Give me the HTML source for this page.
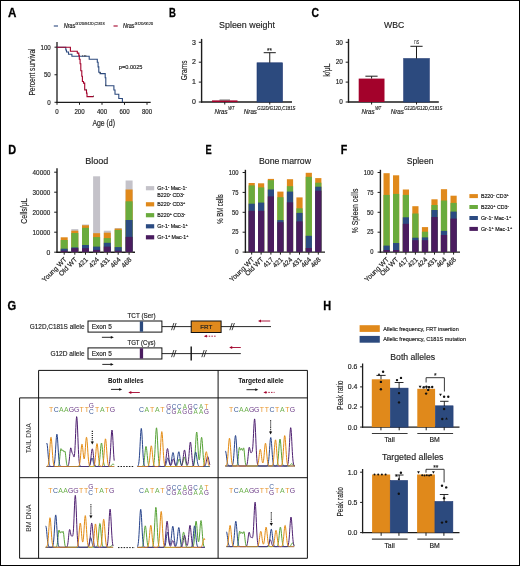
<!DOCTYPE html>
<html><head><meta charset="utf-8"><style>
html,body{margin:0;padding:0;background:#fff;}
body{width:520px;height:566px;overflow:hidden;}
svg{display:block;font-family:"Liberation Sans", sans-serif;will-change:transform;}
</style></head><body>
<svg width="520" height="566" viewBox="0 0 520 566">
<rect x="0" y="0" width="520" height="566" fill="#fff"/>
<text x="7.90" y="17.03" font-size="12.3" text-anchor="start" fill="#000" font-weight="bold" textLength="8.40" lengthAdjust="spacingAndGlyphs" stroke="#000" stroke-width="0.3">A</text>
<text x="169.10" y="17.03" font-size="12.3" text-anchor="start" fill="#000" font-weight="bold" textLength="6.90" lengthAdjust="spacingAndGlyphs" stroke="#000" stroke-width="0.3">B</text>
<text x="311.40" y="16.83" font-size="12.3" text-anchor="start" fill="#000" font-weight="bold" textLength="7.50" lengthAdjust="spacingAndGlyphs" stroke="#000" stroke-width="0.3">C</text>
<text x="8.20" y="153.88" font-size="12.3" text-anchor="start" fill="#000" font-weight="bold" textLength="7.90" lengthAdjust="spacingAndGlyphs" stroke="#000" stroke-width="0.3">D</text>
<text x="205.50" y="154.23" font-size="12.3" text-anchor="start" fill="#000" font-weight="bold" textLength="6.20" lengthAdjust="spacingAndGlyphs" stroke="#000" stroke-width="0.3">E</text>
<text x="340.70" y="154.23" font-size="12.3" text-anchor="start" fill="#000" font-weight="bold" textLength="6.50" lengthAdjust="spacingAndGlyphs" stroke="#000" stroke-width="0.3">F</text>
<text x="7.40" y="310.28" font-size="12.3" text-anchor="start" fill="#000" font-weight="bold" textLength="8.70" lengthAdjust="spacingAndGlyphs" stroke="#000" stroke-width="0.3">G</text>
<text x="323.20" y="309.83" font-size="12.3" text-anchor="start" fill="#000" font-weight="bold" textLength="7.90" lengthAdjust="spacingAndGlyphs" stroke="#000" stroke-width="0.3">H</text>
<line x1="53.80" y1="26.00" x2="58.00" y2="26.00" stroke="#2c4a7e" stroke-width="1.1" />
<text x="63.80" y="28.34" font-size="6.5" text-anchor="start" fill="#111" font-style="italic" textLength="11.60" lengthAdjust="spacingAndGlyphs" stroke="#111" stroke-width="0.16" >Nras</text>
<text x="75.60" y="25.08" font-size="4.4" text-anchor="start" fill="#111" textLength="29.00" lengthAdjust="spacingAndGlyphs" stroke="#111" stroke-width="0.16" >G12D/G12D,C181S</text>
<line x1="113.50" y1="26.00" x2="117.70" y2="26.00" stroke="#a3022b" stroke-width="1.1" />
<text x="123.00" y="28.34" font-size="6.5" text-anchor="start" fill="#111" font-style="italic" textLength="11.60" lengthAdjust="spacingAndGlyphs" stroke="#111" stroke-width="0.16" >Nras</text>
<text x="134.80" y="25.08" font-size="4.4" text-anchor="start" fill="#111" textLength="18.40" lengthAdjust="spacingAndGlyphs" stroke="#111" stroke-width="0.16" >G12D/G12D</text>
<line x1="57.00" y1="42.00" x2="57.00" y2="102.90" stroke="#1c1c1c" stroke-width="1.3" />
<line x1="56.40" y1="102.30" x2="150.70" y2="102.30" stroke="#1c1c1c" stroke-width="1.3" />
<line x1="54.50" y1="47.20" x2="57.00" y2="47.20" stroke="#1c1c1c" stroke-width="1" />
<text x="50.80" y="49.65" font-size="6.8" text-anchor="end" fill="#222" textLength="10.35" lengthAdjust="spacingAndGlyphs" stroke="#222" stroke-width="0.16" >100</text>
<line x1="54.50" y1="74.75" x2="57.00" y2="74.75" stroke="#1c1c1c" stroke-width="1" />
<text x="50.80" y="77.20" font-size="6.8" text-anchor="end" fill="#222" textLength="6.90" lengthAdjust="spacingAndGlyphs" stroke="#222" stroke-width="0.16" >50</text>
<line x1="54.50" y1="102.30" x2="57.00" y2="102.30" stroke="#1c1c1c" stroke-width="1" />
<text x="50.80" y="104.75" font-size="6.8" text-anchor="end" fill="#222" textLength="3.45" lengthAdjust="spacingAndGlyphs" stroke="#222" stroke-width="0.16" >0</text>
<line x1="57.00" y1="102.30" x2="57.00" y2="104.80" stroke="#1c1c1c" stroke-width="1" />
<text x="57.00" y="114.05" font-size="6.8" text-anchor="middle" fill="#222" textLength="3.40" lengthAdjust="spacingAndGlyphs" stroke="#222" stroke-width="0.16" >0</text>
<line x1="79.50" y1="102.30" x2="79.50" y2="104.80" stroke="#1c1c1c" stroke-width="1" />
<text x="79.50" y="114.05" font-size="6.8" text-anchor="middle" fill="#222" textLength="10.20" lengthAdjust="spacingAndGlyphs" stroke="#222" stroke-width="0.16" >200</text>
<line x1="102.00" y1="102.30" x2="102.00" y2="104.80" stroke="#1c1c1c" stroke-width="1" />
<text x="102.00" y="114.05" font-size="6.8" text-anchor="middle" fill="#222" textLength="10.20" lengthAdjust="spacingAndGlyphs" stroke="#222" stroke-width="0.16" >400</text>
<line x1="124.50" y1="102.30" x2="124.50" y2="104.80" stroke="#1c1c1c" stroke-width="1" />
<text x="124.50" y="114.05" font-size="6.8" text-anchor="middle" fill="#222" textLength="10.20" lengthAdjust="spacingAndGlyphs" stroke="#222" stroke-width="0.16" >600</text>
<line x1="147.00" y1="102.30" x2="147.00" y2="104.80" stroke="#1c1c1c" stroke-width="1" />
<text x="147.00" y="114.05" font-size="6.8" text-anchor="middle" fill="#222" textLength="10.20" lengthAdjust="spacingAndGlyphs" stroke="#222" stroke-width="0.16" >800</text>
<text x="103.70" y="125.75" font-size="8.2" text-anchor="middle" fill="#222" textLength="22.60" lengthAdjust="spacingAndGlyphs" stroke="#222" stroke-width="0.16" >Age (d)</text>
<text x="31.90" y="75.17" font-size="8.8" text-anchor="middle" fill="#222" textLength="47.20" lengthAdjust="spacingAndGlyphs" stroke="#222" stroke-width="0.16" transform="rotate(-90 31.90 72.00)" >Percent survival</text>
<text x="118.80" y="69.40" font-size="6.1" text-anchor="start" fill="#222" textLength="23.60" lengthAdjust="spacingAndGlyphs" stroke="#222" stroke-width="0.16" >p=0.0025</text>
<path d="M56.80,47.20 L65.80,47.20 L65.80,50.00 L66.50,50.00 L66.50,52.00 L68.50,52.00 L68.50,54.30 L71.90,54.30 L71.90,56.20 L89.20,56.20 L89.20,59.20 L97.30,59.20 L97.30,62.30 L98.10,62.30 L98.10,66.90 L98.80,66.90 L98.80,72.30 L100.10,72.30 L100.10,73.60 L105.20,73.60 L105.20,77.70 L105.80,77.70 L105.80,85.80 L113.90,85.80 L113.90,90.00 L115.00,90.00 L115.00,94.20 L118.80,94.20 L118.80,98.50 L122.40,98.50 L122.40,102.30" stroke="#2c4a7e" stroke-width="1.1" fill="none" />
<path d="M56.80,47.20 L70.40,47.20 L70.40,51.20 L77.30,51.20 L77.30,53.10 L78.80,53.10 L78.80,55.40 L79.30,55.40 L79.30,59.20 L80.10,59.20 L80.10,63.80 L80.80,63.80 L80.80,70.80 L81.80,70.80 L81.80,76.20 L82.40,76.20 L82.40,81.50 L83.50,81.50 L83.50,83.10 L84.70,83.10 L84.70,90.00 L86.50,90.00 L86.50,93.10 L87.00,93.10 L87.00,96.60 L93.50,96.60" stroke="#a3022b" stroke-width="1.1" fill="none" />
<line x1="82.70" y1="55.10" x2="82.70" y2="56.40" stroke="#222" stroke-width="0.7" />
<line x1="84.60" y1="55.10" x2="84.60" y2="56.40" stroke="#222" stroke-width="0.7" />
<line x1="85.80" y1="55.10" x2="85.80" y2="56.40" stroke="#222" stroke-width="0.7" />
<line x1="93.50" y1="95.50" x2="93.50" y2="96.80" stroke="#222" stroke-width="0.7" />
<line x1="100.20" y1="72.00" x2="100.20" y2="73.30" stroke="#222" stroke-width="0.7" />
<line x1="105.80" y1="84.70" x2="105.80" y2="86.00" stroke="#222" stroke-width="0.7" />
<line x1="86.10" y1="88.90" x2="86.10" y2="90.20" stroke="#222" stroke-width="0.7" />
<text x="247.00" y="27.63" font-size="9.8" text-anchor="middle" fill="#222" textLength="55.80" lengthAdjust="spacingAndGlyphs" stroke="#222" stroke-width="0.16" >Spleen weight</text>
<line x1="201.60" y1="38.90" x2="201.60" y2="102.60" stroke="#1c1c1c" stroke-width="1.4" />
<line x1="201.00" y1="102.00" x2="292.00" y2="102.00" stroke="#1c1c1c" stroke-width="1.4" />
<line x1="198.80" y1="102.00" x2="201.60" y2="102.00" stroke="#1c1c1c" stroke-width="1" />
<text x="196.00" y="104.27" font-size="6.3" text-anchor="end" fill="#222" textLength="3.90" lengthAdjust="spacingAndGlyphs" stroke="#222" stroke-width="0.16" >0</text>
<line x1="198.80" y1="82.10" x2="201.60" y2="82.10" stroke="#1c1c1c" stroke-width="1" />
<text x="196.00" y="84.37" font-size="6.3" text-anchor="end" fill="#222" textLength="3.90" lengthAdjust="spacingAndGlyphs" stroke="#222" stroke-width="0.16" >1</text>
<line x1="198.80" y1="62.20" x2="201.60" y2="62.20" stroke="#1c1c1c" stroke-width="1" />
<text x="196.00" y="64.47" font-size="6.3" text-anchor="end" fill="#222" textLength="3.90" lengthAdjust="spacingAndGlyphs" stroke="#222" stroke-width="0.16" >2</text>
<line x1="198.80" y1="42.30" x2="201.60" y2="42.30" stroke="#1c1c1c" stroke-width="1" />
<text x="196.00" y="44.57" font-size="6.3" text-anchor="end" fill="#222" textLength="3.90" lengthAdjust="spacingAndGlyphs" stroke="#222" stroke-width="0.16" >3</text>
<text x="183.80" y="73.47" font-size="8.8" text-anchor="middle" fill="#222" textLength="19.80" lengthAdjust="spacingAndGlyphs" stroke="#222" stroke-width="0.16" transform="rotate(-90 183.80 70.30)" >Grams</text>
<rect x="212.00" y="100.40" width="25.50" height="1.60" fill="#a3022b"/>
<line x1="219.50" y1="100.00" x2="230.00" y2="100.00" stroke="#333" stroke-width="0.7" />
<rect x="257.00" y="62.80" width="25.50" height="39.20" fill="#2c4a7e" stroke="#1d3570" stroke-width="0.6"/>
<line x1="269.75" y1="62.80" x2="269.75" y2="52.70" stroke="#1c1c1c" stroke-width="1" />
<line x1="263.70" y1="52.70" x2="275.80" y2="52.70" stroke="#1c1c1c" stroke-width="1" />
<text x="269.50" y="52.98" font-size="6.6" text-anchor="middle" fill="#222" textLength="4.80" lengthAdjust="spacingAndGlyphs" stroke="#222" stroke-width="0.16" >**</text>
<line x1="224.75" y1="102.00" x2="224.75" y2="104.50" stroke="#1c1c1c" stroke-width="1" />
<line x1="269.75" y1="102.00" x2="269.75" y2="104.50" stroke="#1c1c1c" stroke-width="1" />
<text x="214.50" y="114.02" font-size="7.0" text-anchor="start" fill="#222" font-style="italic" textLength="13.20" lengthAdjust="spacingAndGlyphs" stroke="#222" stroke-width="0.16" >Nras</text>
<text x="228.30" y="110.33" font-size="4.8" text-anchor="start" fill="#222" font-style="italic" textLength="6.00" lengthAdjust="spacingAndGlyphs" stroke="#222" stroke-width="0.16" >WT</text>
<text x="243.80" y="114.02" font-size="7.0" text-anchor="start" fill="#222" font-style="italic" textLength="13.20" lengthAdjust="spacingAndGlyphs" stroke="#222" stroke-width="0.16" >Nras</text>
<text x="257.30" y="110.33" font-size="4.8" text-anchor="start" fill="#222" font-style="italic" textLength="38.20" lengthAdjust="spacingAndGlyphs" stroke="#222" stroke-width="0.16" >G12D/G12D,C181S</text>
<text x="394.20" y="27.53" font-size="9.8" text-anchor="middle" fill="#222" textLength="20.20" lengthAdjust="spacingAndGlyphs" stroke="#222" stroke-width="0.16" >WBC</text>
<line x1="348.50" y1="38.90" x2="348.50" y2="102.60" stroke="#1c1c1c" stroke-width="1.4" />
<line x1="347.90" y1="102.00" x2="438.80" y2="102.00" stroke="#1c1c1c" stroke-width="1.4" />
<line x1="345.70" y1="102.00" x2="348.50" y2="102.00" stroke="#1c1c1c" stroke-width="1" />
<text x="342.90" y="104.27" font-size="6.3" text-anchor="end" fill="#222" textLength="3.60" lengthAdjust="spacingAndGlyphs" stroke="#222" stroke-width="0.16" >0</text>
<line x1="345.70" y1="82.10" x2="348.50" y2="82.10" stroke="#1c1c1c" stroke-width="1" />
<text x="342.90" y="84.37" font-size="6.3" text-anchor="end" fill="#222" textLength="7.20" lengthAdjust="spacingAndGlyphs" stroke="#222" stroke-width="0.16" >10</text>
<line x1="345.70" y1="62.20" x2="348.50" y2="62.20" stroke="#1c1c1c" stroke-width="1" />
<text x="342.90" y="64.47" font-size="6.3" text-anchor="end" fill="#222" textLength="7.20" lengthAdjust="spacingAndGlyphs" stroke="#222" stroke-width="0.16" >20</text>
<line x1="345.70" y1="42.30" x2="348.50" y2="42.30" stroke="#1c1c1c" stroke-width="1" />
<text x="342.90" y="44.57" font-size="6.3" text-anchor="end" fill="#222" textLength="7.20" lengthAdjust="spacingAndGlyphs" stroke="#222" stroke-width="0.16" >30</text>
<text x="327.10" y="73.27" font-size="8.8" text-anchor="middle" fill="#222" textLength="13.20" lengthAdjust="spacingAndGlyphs" stroke="#222" stroke-width="0.16" transform="rotate(-90 327.10 70.10)" >k/μL</text>
<rect x="358.70" y="78.60" width="25.80" height="23.40" fill="#a3022b"/>
<line x1="371.60" y1="78.60" x2="371.60" y2="76.20" stroke="#1c1c1c" stroke-width="1" />
<line x1="365.40" y1="76.20" x2="377.60" y2="76.20" stroke="#1c1c1c" stroke-width="1" />
<rect x="403.70" y="58.60" width="25.60" height="43.40" fill="#2c4a7e" stroke="#1d3570" stroke-width="0.6"/>
<line x1="416.50" y1="58.60" x2="416.50" y2="46.30" stroke="#1c1c1c" stroke-width="1" />
<line x1="410.40" y1="46.30" x2="422.60" y2="46.30" stroke="#1c1c1c" stroke-width="1" />
<text x="416.55" y="43.71" font-size="6.7" text-anchor="middle" fill="#333" textLength="5.30" lengthAdjust="spacingAndGlyphs" stroke="none">ns</text>
<line x1="371.60" y1="102.00" x2="371.60" y2="104.50" stroke="#1c1c1c" stroke-width="1" />
<line x1="416.50" y1="102.00" x2="416.50" y2="104.50" stroke="#1c1c1c" stroke-width="1" />
<text x="361.40" y="114.02" font-size="7.0" text-anchor="start" fill="#222" font-style="italic" textLength="13.20" lengthAdjust="spacingAndGlyphs" stroke="#222" stroke-width="0.16" >Nras</text>
<text x="375.20" y="110.33" font-size="4.8" text-anchor="start" fill="#222" font-style="italic" textLength="6.00" lengthAdjust="spacingAndGlyphs" stroke="#222" stroke-width="0.16" >WT</text>
<text x="390.70" y="114.02" font-size="7.0" text-anchor="start" fill="#222" font-style="italic" textLength="13.20" lengthAdjust="spacingAndGlyphs" stroke="#222" stroke-width="0.16" >Nras</text>
<text x="404.20" y="110.33" font-size="4.8" text-anchor="start" fill="#222" font-style="italic" textLength="38.20" lengthAdjust="spacingAndGlyphs" stroke="#222" stroke-width="0.16" >G12D/G12D,C181S</text>
<text x="96.70" y="164.13" font-size="9.8" text-anchor="middle" fill="#222" textLength="23.10" lengthAdjust="spacingAndGlyphs" stroke="#222" stroke-width="0.16" >Blood</text>
<line x1="57.00" y1="168.30" x2="57.00" y2="252.80" stroke="#1c1c1c" stroke-width="1.4" />
<line x1="56.40" y1="252.20" x2="135.00" y2="252.20" stroke="#1c1c1c" stroke-width="1.4" />
<line x1="54.20" y1="252.20" x2="57.00" y2="252.20" stroke="#1c1c1c" stroke-width="1" />
<text x="50.20" y="254.79" font-size="7.2" text-anchor="end" fill="#222" textLength="3.80" lengthAdjust="spacingAndGlyphs" stroke="#222" stroke-width="0.16" >0</text>
<line x1="54.20" y1="232.20" x2="57.00" y2="232.20" stroke="#1c1c1c" stroke-width="1" />
<text x="50.20" y="234.79" font-size="7.2" text-anchor="end" fill="#222" textLength="17.60" lengthAdjust="spacingAndGlyphs" stroke="#222" stroke-width="0.16" >10000</text>
<line x1="54.20" y1="212.20" x2="57.00" y2="212.20" stroke="#1c1c1c" stroke-width="1" />
<text x="50.20" y="214.79" font-size="7.2" text-anchor="end" fill="#222" textLength="17.60" lengthAdjust="spacingAndGlyphs" stroke="#222" stroke-width="0.16" >20000</text>
<line x1="54.20" y1="192.20" x2="57.00" y2="192.20" stroke="#1c1c1c" stroke-width="1" />
<text x="50.20" y="194.79" font-size="7.2" text-anchor="end" fill="#222" textLength="17.60" lengthAdjust="spacingAndGlyphs" stroke="#222" stroke-width="0.16" >30000</text>
<line x1="54.20" y1="172.20" x2="57.00" y2="172.20" stroke="#1c1c1c" stroke-width="1" />
<text x="50.20" y="174.79" font-size="7.2" text-anchor="end" fill="#222" textLength="17.60" lengthAdjust="spacingAndGlyphs" stroke="#222" stroke-width="0.16" >40000</text>
<text x="23.80" y="214.13" font-size="8.7" text-anchor="middle" fill="#222" textLength="25.40" lengthAdjust="spacingAndGlyphs" stroke="#222" stroke-width="0.16" transform="rotate(-90 23.80 211.00)" >Cells/μL</text>
<rect x="60.70" y="237.30" width="7.00" height="14.90" fill="#e0891b"/>
<rect x="60.70" y="240.00" width="7.00" height="12.20" fill="#6aab3d"/>
<rect x="60.70" y="248.70" width="7.00" height="3.50" fill="#2b4b82"/>
<rect x="60.70" y="250.70" width="7.00" height="1.50" fill="#4a1c5f"/>
<line x1="64.20" y1="252.20" x2="64.20" y2="254.70" stroke="#1c1c1c" stroke-width="1" />
<rect x="71.30" y="229.10" width="7.00" height="23.10" fill="#c4c2c9"/>
<rect x="71.30" y="230.70" width="7.00" height="21.50" fill="#e0891b"/>
<rect x="71.30" y="233.00" width="7.00" height="19.20" fill="#6aab3d"/>
<rect x="71.30" y="247.40" width="7.00" height="4.80" fill="#2b4b82"/>
<rect x="71.30" y="248.20" width="7.00" height="4.00" fill="#4a1c5f"/>
<line x1="74.80" y1="252.20" x2="74.80" y2="254.70" stroke="#1c1c1c" stroke-width="1" />
<rect x="82.00" y="224.50" width="7.00" height="27.70" fill="#c4c2c9"/>
<rect x="82.00" y="225.30" width="7.00" height="26.90" fill="#e0891b"/>
<rect x="82.00" y="227.80" width="7.00" height="24.40" fill="#6aab3d"/>
<rect x="82.00" y="245.00" width="7.00" height="7.20" fill="#2b4b82"/>
<rect x="82.00" y="248.20" width="7.00" height="4.00" fill="#4a1c5f"/>
<line x1="85.50" y1="252.20" x2="85.50" y2="254.70" stroke="#1c1c1c" stroke-width="1" />
<rect x="93.10" y="176.30" width="7.00" height="75.90" fill="#c4c2c9"/>
<rect x="93.10" y="233.20" width="7.00" height="19.00" fill="#e0891b"/>
<rect x="93.10" y="237.10" width="7.00" height="15.10" fill="#6aab3d"/>
<rect x="93.10" y="246.60" width="7.00" height="5.60" fill="#2b4b82"/>
<rect x="93.10" y="249.90" width="7.00" height="2.30" fill="#4a1c5f"/>
<line x1="96.60" y1="252.20" x2="96.60" y2="254.70" stroke="#1c1c1c" stroke-width="1" />
<rect x="103.80" y="230.70" width="7.00" height="21.50" fill="#c4c2c9"/>
<rect x="103.80" y="232.70" width="7.00" height="19.50" fill="#e0891b"/>
<rect x="103.80" y="238.10" width="7.00" height="14.10" fill="#6aab3d"/>
<rect x="103.80" y="242.80" width="7.00" height="9.40" fill="#2b4b82"/>
<rect x="103.80" y="246.60" width="7.00" height="5.60" fill="#4a1c5f"/>
<line x1="107.30" y1="252.20" x2="107.30" y2="254.70" stroke="#1c1c1c" stroke-width="1" />
<rect x="114.70" y="228.10" width="7.00" height="24.10" fill="#c4c2c9"/>
<rect x="114.70" y="228.60" width="7.00" height="23.60" fill="#e0891b"/>
<rect x="114.70" y="229.90" width="7.00" height="22.30" fill="#6aab3d"/>
<rect x="114.70" y="247.10" width="7.00" height="5.10" fill="#2b4b82"/>
<rect x="114.70" y="250.70" width="7.00" height="1.50" fill="#4a1c5f"/>
<line x1="118.20" y1="252.20" x2="118.20" y2="254.70" stroke="#1c1c1c" stroke-width="1" />
<rect x="125.60" y="180.50" width="7.00" height="71.70" fill="#c4c2c9"/>
<rect x="125.60" y="189.50" width="7.00" height="62.70" fill="#e0891b"/>
<rect x="125.60" y="201.30" width="7.00" height="50.90" fill="#6aab3d"/>
<rect x="125.60" y="220.00" width="7.00" height="32.20" fill="#2b4b82"/>
<rect x="125.60" y="236.90" width="7.00" height="15.30" fill="#4a1c5f"/>
<line x1="129.10" y1="252.20" x2="129.10" y2="254.70" stroke="#1c1c1c" stroke-width="1" />
<text x="65.40" y="260.85" font-size="6.8" text-anchor="end" fill="#1a1a1a" stroke="#1a1a1a" stroke-width="0.16" transform="rotate(-45 65.40 258.40)" >Young WT</text>
<text x="76.00" y="260.85" font-size="6.8" text-anchor="end" fill="#1a1a1a" stroke="#1a1a1a" stroke-width="0.16" transform="rotate(-45 76.00 258.40)" >Old WT</text>
<text x="86.70" y="260.85" font-size="6.8" text-anchor="end" fill="#1a1a1a" stroke="#1a1a1a" stroke-width="0.16" transform="rotate(-45 86.70 258.40)" >421</text>
<text x="97.80" y="260.85" font-size="6.8" text-anchor="end" fill="#1a1a1a" stroke="#1a1a1a" stroke-width="0.16" transform="rotate(-45 97.80 258.40)" >424</text>
<text x="108.50" y="260.85" font-size="6.8" text-anchor="end" fill="#1a1a1a" stroke="#1a1a1a" stroke-width="0.16" transform="rotate(-45 108.50 258.40)" >431</text>
<text x="119.40" y="260.85" font-size="6.8" text-anchor="end" fill="#1a1a1a" stroke="#1a1a1a" stroke-width="0.16" transform="rotate(-45 119.40 258.40)" >464</text>
<text x="130.30" y="260.85" font-size="6.8" text-anchor="end" fill="#1a1a1a" stroke="#1a1a1a" stroke-width="0.16" transform="rotate(-45 130.30 258.40)" >468</text>
<rect x="145.90" y="186.10" width="8.30" height="4.20" fill="#c4c2c9"/>
<text x="157.30" y="190.11" font-size="5.3" text-anchor="start" fill="#111" stroke="#111" stroke-width="0.16" >Gr-1<tspan dy="-2.0" font-size="3.8">-</tspan><tspan dy="2.0"> Mac-1</tspan><tspan dy="-2.0" font-size="3.8">-</tspan></text>
<text x="157.30" y="196.61" font-size="5.3" text-anchor="start" fill="#111" stroke="#111" stroke-width="0.16" >B220<tspan dy="-2.0" font-size="3.8">-</tspan><tspan dy="2.0"> CD3</tspan><tspan dy="-2.0" font-size="3.8">-</tspan></text>
<rect x="145.90" y="202.20" width="8.30" height="4.20" fill="#e0891b"/>
<text x="157.30" y="206.21" font-size="5.3" text-anchor="start" fill="#111" stroke="#111" stroke-width="0.16" >B220<tspan dy="-2.0" font-size="3.8">-</tspan><tspan dy="2.0"> CD3</tspan><tspan dy="-2.0" font-size="3.8">+</tspan></text>
<rect x="145.90" y="213.10" width="8.30" height="4.20" fill="#6aab3d"/>
<text x="157.30" y="217.11" font-size="5.3" text-anchor="start" fill="#111" stroke="#111" stroke-width="0.16" >B220<tspan dy="-2.0" font-size="3.8">+</tspan><tspan dy="2.0"> CD3</tspan><tspan dy="-2.0" font-size="3.8">-</tspan></text>
<rect x="145.90" y="224.20" width="8.30" height="4.20" fill="#2b4b82"/>
<text x="157.30" y="228.21" font-size="5.3" text-anchor="start" fill="#111" stroke="#111" stroke-width="0.16" >Gr-1<tspan dy="-2.0" font-size="3.8">-</tspan><tspan dy="2.0"> Mac-1</tspan><tspan dy="-2.0" font-size="3.8">+</tspan></text>
<rect x="145.90" y="235.20" width="8.30" height="4.20" fill="#4a1c5f"/>
<text x="157.30" y="239.21" font-size="5.3" text-anchor="start" fill="#111" stroke="#111" stroke-width="0.16" >Gr-1<tspan dy="-2.0" font-size="3.8">+</tspan><tspan dy="2.0"> Mac-1</tspan><tspan dy="-2.0" font-size="3.8">+</tspan></text>
<text x="285.00" y="164.33" font-size="9.8" text-anchor="middle" fill="#222" textLength="52.10" lengthAdjust="spacingAndGlyphs" stroke="#222" stroke-width="0.16" >Bone marrow</text>
<line x1="245.40" y1="169.80" x2="245.40" y2="252.70" stroke="#1c1c1c" stroke-width="1.4" />
<line x1="244.80" y1="252.10" x2="325.00" y2="252.10" stroke="#1c1c1c" stroke-width="1.4" />
<line x1="242.60" y1="252.10" x2="245.40" y2="252.10" stroke="#1c1c1c" stroke-width="1" />
<text x="238.60" y="254.37" font-size="6.3" text-anchor="end" fill="#222" textLength="3.25" lengthAdjust="spacingAndGlyphs" stroke="#222" stroke-width="0.16" >0</text>
<line x1="242.60" y1="232.20" x2="245.40" y2="232.20" stroke="#1c1c1c" stroke-width="1" />
<text x="238.60" y="234.47" font-size="6.3" text-anchor="end" fill="#222" textLength="6.50" lengthAdjust="spacingAndGlyphs" stroke="#222" stroke-width="0.16" >25</text>
<line x1="242.60" y1="212.30" x2="245.40" y2="212.30" stroke="#1c1c1c" stroke-width="1" />
<text x="238.60" y="214.57" font-size="6.3" text-anchor="end" fill="#222" textLength="6.50" lengthAdjust="spacingAndGlyphs" stroke="#222" stroke-width="0.16" >50</text>
<line x1="242.60" y1="192.40" x2="245.40" y2="192.40" stroke="#1c1c1c" stroke-width="1" />
<text x="238.60" y="194.67" font-size="6.3" text-anchor="end" fill="#222" textLength="6.50" lengthAdjust="spacingAndGlyphs" stroke="#222" stroke-width="0.16" >75</text>
<line x1="242.60" y1="172.50" x2="245.40" y2="172.50" stroke="#1c1c1c" stroke-width="1" />
<text x="238.60" y="174.77" font-size="6.3" text-anchor="end" fill="#222" textLength="9.75" lengthAdjust="spacingAndGlyphs" stroke="#222" stroke-width="0.16" >100</text>
<text x="219.40" y="212.24" font-size="9.0" text-anchor="middle" fill="#222" textLength="29.40" lengthAdjust="spacingAndGlyphs" stroke="#222" stroke-width="0.16" transform="rotate(-90 219.40 209.00)" >% BM cells</text>
<rect x="248.60" y="183.00" width="6.20" height="69.10" fill="#e0891b"/>
<rect x="248.60" y="185.40" width="6.20" height="66.70" fill="#6aab3d"/>
<rect x="248.60" y="203.70" width="6.20" height="48.40" fill="#2b4b82"/>
<rect x="248.60" y="210.80" width="6.20" height="41.30" fill="#4a1c5f"/>
<line x1="251.70" y1="252.10" x2="251.70" y2="254.60" stroke="#1c1c1c" stroke-width="1" />
<rect x="258.00" y="183.30" width="6.20" height="68.80" fill="#e0891b"/>
<rect x="258.00" y="187.40" width="6.20" height="64.70" fill="#6aab3d"/>
<rect x="258.00" y="202.60" width="6.20" height="49.50" fill="#2b4b82"/>
<rect x="258.00" y="210.80" width="6.20" height="41.30" fill="#4a1c5f"/>
<line x1="261.10" y1="252.10" x2="261.10" y2="254.60" stroke="#1c1c1c" stroke-width="1" />
<rect x="267.80" y="178.90" width="6.20" height="73.20" fill="#e0891b"/>
<rect x="267.80" y="180.20" width="6.20" height="71.90" fill="#6aab3d"/>
<rect x="267.80" y="189.50" width="6.20" height="62.60" fill="#2b4b82"/>
<rect x="267.80" y="196.40" width="6.20" height="55.70" fill="#4a1c5f"/>
<line x1="270.90" y1="252.10" x2="270.90" y2="254.60" stroke="#1c1c1c" stroke-width="1" />
<rect x="277.30" y="191.60" width="6.20" height="60.50" fill="#e0891b"/>
<rect x="277.30" y="197.20" width="6.20" height="54.90" fill="#6aab3d"/>
<rect x="277.30" y="220.10" width="6.20" height="32.00" fill="#2b4b82"/>
<rect x="277.30" y="222.20" width="6.20" height="29.90" fill="#4a1c5f"/>
<line x1="280.40" y1="252.10" x2="280.40" y2="254.60" stroke="#1c1c1c" stroke-width="1" />
<rect x="286.90" y="179.20" width="6.20" height="72.90" fill="#e0891b"/>
<rect x="286.90" y="186.20" width="6.20" height="65.90" fill="#6aab3d"/>
<rect x="286.90" y="191.60" width="6.20" height="60.50" fill="#2b4b82"/>
<rect x="286.90" y="202.30" width="6.20" height="49.80" fill="#4a1c5f"/>
<line x1="290.00" y1="252.10" x2="290.00" y2="254.60" stroke="#1c1c1c" stroke-width="1" />
<rect x="296.40" y="197.40" width="6.20" height="54.70" fill="#e0891b"/>
<rect x="296.40" y="208.30" width="6.20" height="43.80" fill="#6aab3d"/>
<rect x="296.40" y="212.90" width="6.20" height="39.20" fill="#2b4b82"/>
<rect x="296.40" y="221.40" width="6.20" height="30.70" fill="#4a1c5f"/>
<line x1="299.50" y1="252.10" x2="299.50" y2="254.60" stroke="#1c1c1c" stroke-width="1" />
<rect x="305.70" y="172.80" width="6.20" height="79.30" fill="#e0891b"/>
<rect x="305.70" y="176.80" width="6.20" height="75.30" fill="#6aab3d"/>
<rect x="305.70" y="235.80" width="6.20" height="16.30" fill="#2b4b82"/>
<rect x="305.70" y="248.00" width="6.20" height="4.10" fill="#4a1c5f"/>
<line x1="308.80" y1="252.10" x2="308.80" y2="254.60" stroke="#1c1c1c" stroke-width="1" />
<rect x="315.20" y="178.10" width="6.20" height="74.00" fill="#e0891b"/>
<rect x="315.20" y="182.70" width="6.20" height="69.40" fill="#6aab3d"/>
<rect x="315.20" y="186.70" width="6.20" height="65.40" fill="#2b4b82"/>
<rect x="315.20" y="190.70" width="6.20" height="61.40" fill="#4a1c5f"/>
<line x1="318.30" y1="252.10" x2="318.30" y2="254.60" stroke="#1c1c1c" stroke-width="1" />
<text x="252.90" y="260.75" font-size="6.8" text-anchor="end" fill="#1a1a1a" stroke="#1a1a1a" stroke-width="0.16" transform="rotate(-45 252.90 258.30)" >Young WT</text>
<text x="262.30" y="260.75" font-size="6.8" text-anchor="end" fill="#1a1a1a" stroke="#1a1a1a" stroke-width="0.16" transform="rotate(-45 262.30 258.30)" >Old WT</text>
<text x="272.10" y="260.75" font-size="6.8" text-anchor="end" fill="#1a1a1a" stroke="#1a1a1a" stroke-width="0.16" transform="rotate(-45 272.10 258.30)" >417</text>
<text x="281.60" y="260.75" font-size="6.8" text-anchor="end" fill="#1a1a1a" stroke="#1a1a1a" stroke-width="0.16" transform="rotate(-45 281.60 258.30)" >421</text>
<text x="291.20" y="260.75" font-size="6.8" text-anchor="end" fill="#1a1a1a" stroke="#1a1a1a" stroke-width="0.16" transform="rotate(-45 291.20 258.30)" >424</text>
<text x="300.70" y="260.75" font-size="6.8" text-anchor="end" fill="#1a1a1a" stroke="#1a1a1a" stroke-width="0.16" transform="rotate(-45 300.70 258.30)" >431</text>
<text x="310.00" y="260.75" font-size="6.8" text-anchor="end" fill="#1a1a1a" stroke="#1a1a1a" stroke-width="0.16" transform="rotate(-45 310.00 258.30)" >464</text>
<text x="319.50" y="260.75" font-size="6.8" text-anchor="end" fill="#1a1a1a" stroke="#1a1a1a" stroke-width="0.16" transform="rotate(-45 319.50 258.30)" >468</text>
<text x="420.10" y="164.33" font-size="9.8" text-anchor="middle" fill="#222" textLength="26.80" lengthAdjust="spacingAndGlyphs" stroke="#222" stroke-width="0.16" >Spleen</text>
<line x1="380.40" y1="169.80" x2="380.40" y2="252.70" stroke="#1c1c1c" stroke-width="1.4" />
<line x1="379.80" y1="252.10" x2="460.00" y2="252.10" stroke="#1c1c1c" stroke-width="1.4" />
<line x1="377.60" y1="252.10" x2="380.40" y2="252.10" stroke="#1c1c1c" stroke-width="1" />
<text x="373.60" y="254.37" font-size="6.3" text-anchor="end" fill="#222" textLength="3.25" lengthAdjust="spacingAndGlyphs" stroke="#222" stroke-width="0.16" >0</text>
<line x1="377.60" y1="232.20" x2="380.40" y2="232.20" stroke="#1c1c1c" stroke-width="1" />
<text x="373.60" y="234.47" font-size="6.3" text-anchor="end" fill="#222" textLength="6.50" lengthAdjust="spacingAndGlyphs" stroke="#222" stroke-width="0.16" >25</text>
<line x1="377.60" y1="212.30" x2="380.40" y2="212.30" stroke="#1c1c1c" stroke-width="1" />
<text x="373.60" y="214.57" font-size="6.3" text-anchor="end" fill="#222" textLength="6.50" lengthAdjust="spacingAndGlyphs" stroke="#222" stroke-width="0.16" >50</text>
<line x1="377.60" y1="192.40" x2="380.40" y2="192.40" stroke="#1c1c1c" stroke-width="1" />
<text x="373.60" y="194.67" font-size="6.3" text-anchor="end" fill="#222" textLength="6.50" lengthAdjust="spacingAndGlyphs" stroke="#222" stroke-width="0.16" >75</text>
<line x1="377.60" y1="172.50" x2="380.40" y2="172.50" stroke="#1c1c1c" stroke-width="1" />
<text x="373.60" y="174.77" font-size="6.3" text-anchor="end" fill="#222" textLength="9.75" lengthAdjust="spacingAndGlyphs" stroke="#222" stroke-width="0.16" >100</text>
<text x="354.90" y="214.14" font-size="9.0" text-anchor="middle" fill="#222" textLength="44.60" lengthAdjust="spacingAndGlyphs" stroke="#222" stroke-width="0.16" transform="rotate(-90 354.90 210.90)" >% Spleen cells</text>
<rect x="383.50" y="173.20" width="6.20" height="78.90" fill="#e0891b"/>
<rect x="383.50" y="194.90" width="6.20" height="57.20" fill="#6aab3d"/>
<rect x="383.50" y="245.60" width="6.20" height="6.50" fill="#2b4b82"/>
<rect x="383.50" y="250.00" width="6.20" height="2.10" fill="#4a1c5f"/>
<line x1="386.60" y1="252.10" x2="386.60" y2="254.60" stroke="#1c1c1c" stroke-width="1" />
<rect x="393.00" y="175.30" width="6.20" height="76.80" fill="#e0891b"/>
<rect x="393.00" y="193.90" width="6.20" height="58.20" fill="#6aab3d"/>
<rect x="393.00" y="243.00" width="6.20" height="9.10" fill="#2b4b82"/>
<rect x="393.00" y="250.00" width="6.20" height="2.10" fill="#4a1c5f"/>
<line x1="396.10" y1="252.10" x2="396.10" y2="254.60" stroke="#1c1c1c" stroke-width="1" />
<rect x="402.80" y="189.50" width="6.20" height="62.60" fill="#e0891b"/>
<rect x="402.80" y="194.90" width="6.20" height="57.20" fill="#6aab3d"/>
<rect x="402.80" y="217.30" width="6.20" height="34.80" fill="#2b4b82"/>
<rect x="402.80" y="223.80" width="6.20" height="28.30" fill="#4a1c5f"/>
<line x1="405.90" y1="252.10" x2="405.90" y2="254.60" stroke="#1c1c1c" stroke-width="1" />
<rect x="412.30" y="206.20" width="6.20" height="45.90" fill="#e0891b"/>
<rect x="412.30" y="213.50" width="6.20" height="38.60" fill="#6aab3d"/>
<rect x="412.30" y="237.70" width="6.20" height="14.40" fill="#2b4b82"/>
<rect x="412.30" y="240.20" width="6.20" height="11.90" fill="#4a1c5f"/>
<line x1="415.40" y1="252.10" x2="415.40" y2="254.60" stroke="#1c1c1c" stroke-width="1" />
<rect x="421.90" y="227.10" width="6.20" height="25.00" fill="#e0891b"/>
<rect x="421.90" y="231.70" width="6.20" height="20.40" fill="#6aab3d"/>
<rect x="421.90" y="237.40" width="6.20" height="14.70" fill="#2b4b82"/>
<rect x="421.90" y="240.20" width="6.20" height="11.90" fill="#4a1c5f"/>
<line x1="425.00" y1="252.10" x2="425.00" y2="254.60" stroke="#1c1c1c" stroke-width="1" />
<rect x="431.40" y="199.30" width="6.20" height="52.80" fill="#e0891b"/>
<rect x="431.40" y="205.00" width="6.20" height="47.10" fill="#6aab3d"/>
<rect x="431.40" y="210.00" width="6.20" height="42.10" fill="#2b4b82"/>
<rect x="431.40" y="217.00" width="6.20" height="35.10" fill="#4a1c5f"/>
<line x1="434.50" y1="252.10" x2="434.50" y2="254.60" stroke="#1c1c1c" stroke-width="1" />
<rect x="440.90" y="189.20" width="6.20" height="62.90" fill="#e0891b"/>
<rect x="440.90" y="200.50" width="6.20" height="51.60" fill="#6aab3d"/>
<rect x="440.90" y="230.90" width="6.20" height="21.20" fill="#2b4b82"/>
<rect x="440.90" y="235.00" width="6.20" height="17.10" fill="#4a1c5f"/>
<line x1="444.00" y1="252.10" x2="444.00" y2="254.60" stroke="#1c1c1c" stroke-width="1" />
<rect x="450.50" y="195.70" width="6.20" height="56.40" fill="#e0891b"/>
<rect x="450.50" y="202.90" width="6.20" height="49.20" fill="#6aab3d"/>
<rect x="450.50" y="211.60" width="6.20" height="40.50" fill="#2b4b82"/>
<rect x="450.50" y="218.60" width="6.20" height="33.50" fill="#4a1c5f"/>
<line x1="453.60" y1="252.10" x2="453.60" y2="254.60" stroke="#1c1c1c" stroke-width="1" />
<text x="387.80" y="260.75" font-size="6.8" text-anchor="end" fill="#1a1a1a" stroke="#1a1a1a" stroke-width="0.16" transform="rotate(-45 387.80 258.30)" >Young WT</text>
<text x="397.30" y="260.75" font-size="6.8" text-anchor="end" fill="#1a1a1a" stroke="#1a1a1a" stroke-width="0.16" transform="rotate(-45 397.30 258.30)" >Old WT</text>
<text x="407.10" y="260.75" font-size="6.8" text-anchor="end" fill="#1a1a1a" stroke="#1a1a1a" stroke-width="0.16" transform="rotate(-45 407.10 258.30)" >417</text>
<text x="416.60" y="260.75" font-size="6.8" text-anchor="end" fill="#1a1a1a" stroke="#1a1a1a" stroke-width="0.16" transform="rotate(-45 416.60 258.30)" >421</text>
<text x="426.20" y="260.75" font-size="6.8" text-anchor="end" fill="#1a1a1a" stroke="#1a1a1a" stroke-width="0.16" transform="rotate(-45 426.20 258.30)" >424</text>
<text x="435.70" y="260.75" font-size="6.8" text-anchor="end" fill="#1a1a1a" stroke="#1a1a1a" stroke-width="0.16" transform="rotate(-45 435.70 258.30)" >431</text>
<text x="445.20" y="260.75" font-size="6.8" text-anchor="end" fill="#1a1a1a" stroke="#1a1a1a" stroke-width="0.16" transform="rotate(-45 445.20 258.30)" >464</text>
<text x="454.80" y="260.75" font-size="6.8" text-anchor="end" fill="#1a1a1a" stroke="#1a1a1a" stroke-width="0.16" transform="rotate(-45 454.80 258.30)" >468</text>
<rect x="350.90" y="192.50" width="6.60" height="3.50" fill="#b8b8b8"/>
<rect x="469.40" y="194.10" width="8.50" height="4.00" fill="#e0891b"/>
<text x="480.90" y="198.01" font-size="5.3" text-anchor="start" fill="#111" stroke="#111" stroke-width="0.16" >B220<tspan dy="-2.0" font-size="3.8">-</tspan><tspan dy="2.0"> CD3</tspan><tspan dy="-2.0" font-size="3.8">+</tspan></text>
<rect x="469.40" y="205.00" width="8.50" height="4.00" fill="#6aab3d"/>
<text x="480.90" y="208.91" font-size="5.3" text-anchor="start" fill="#111" stroke="#111" stroke-width="0.16" >B220<tspan dy="-2.0" font-size="3.8">+</tspan><tspan dy="2.0"> CD3</tspan><tspan dy="-2.0" font-size="3.8">-</tspan></text>
<rect x="469.40" y="216.00" width="8.50" height="4.00" fill="#2b4b82"/>
<text x="480.90" y="219.91" font-size="5.3" text-anchor="start" fill="#111" stroke="#111" stroke-width="0.16" >Gr-1<tspan dy="-2.0" font-size="3.8">-</tspan><tspan dy="2.0"> Mac-1</tspan><tspan dy="-2.0" font-size="3.8">+</tspan></text>
<rect x="469.40" y="226.90" width="8.50" height="4.00" fill="#4a1c5f"/>
<text x="480.90" y="230.81" font-size="5.3" text-anchor="start" fill="#111" stroke="#111" stroke-width="0.16" >Gr-1<tspan dy="-2.0" font-size="3.8">+</tspan><tspan dy="2.0"> Mac-1</tspan><tspan dy="-2.0" font-size="3.8">+</tspan></text>
<text x="84.60" y="328.86" font-size="7.4" text-anchor="end" fill="#222" textLength="54.80" lengthAdjust="spacingAndGlyphs" stroke="#222" stroke-width="0.16" >G12D,C181S allele</text>
<text x="84.60" y="355.76" font-size="7.4" text-anchor="end" fill="#222" textLength="34.20" lengthAdjust="spacingAndGlyphs" stroke="#222" stroke-width="0.16" >G12D allele</text>
<rect x="88.00" y="321.00" width="73.90" height="11.10" fill="#fff" stroke="#111" stroke-width="1.0"/>
<rect x="139.80" y="321.40" width="3.30" height="10.30" fill="#2c4a7e"/>
<text x="91.70" y="329.07" font-size="7.0" text-anchor="start" fill="#222" textLength="20.20" lengthAdjust="spacingAndGlyphs" stroke="#222" stroke-width="0.16" >Exon 5</text>
<text x="141.50" y="318.18" font-size="6.6" text-anchor="middle" fill="#222" textLength="28.00" lengthAdjust="spacingAndGlyphs" stroke="#222" stroke-width="0.16" >TCT (Ser)</text>
<rect x="88.00" y="347.90" width="73.90" height="11.10" fill="#fff" stroke="#111" stroke-width="1.0"/>
<rect x="139.80" y="348.30" width="3.30" height="10.30" fill="#4a1c5f"/>
<text x="91.70" y="355.97" font-size="7.0" text-anchor="start" fill="#222" textLength="20.20" lengthAdjust="spacingAndGlyphs" stroke="#222" stroke-width="0.16" >Exon 5</text>
<text x="141.50" y="345.08" font-size="6.6" text-anchor="middle" fill="#222" textLength="28.00" lengthAdjust="spacingAndGlyphs" stroke="#222" stroke-width="0.16" >TGT (Cys)</text>
<line x1="161.90" y1="326.60" x2="271.00" y2="326.60" stroke="#111" stroke-width="0.9" />
<rect x="191.20" y="321.00" width="29.90" height="11.50" fill="#e08a1e" stroke="#111" stroke-width="1.0"/>
<text x="206.20" y="329.03" font-size="6.2" text-anchor="middle" fill="#222" textLength="12.00" lengthAdjust="spacingAndGlyphs" stroke="#222" stroke-width="0.16" >FRT</text>
<line x1="171.50" y1="330.20" x2="173.90" y2="323.00" stroke="#111" stroke-width="0.8" />
<line x1="173.70" y1="330.20" x2="176.10" y2="323.00" stroke="#111" stroke-width="0.8" />
<line x1="229.80" y1="330.20" x2="232.20" y2="323.00" stroke="#111" stroke-width="0.8" />
<line x1="232.00" y1="330.20" x2="234.40" y2="323.00" stroke="#111" stroke-width="0.8" />
<line x1="260.20" y1="321.00" x2="270.20" y2="321.00" stroke="#a3022b" stroke-width="0.9"/>
<path d="M258.00,321.00 L261.00,319.60 L261.00,322.40 Z" fill="#a3022b"/>
<line x1="206.00" y1="336.20" x2="216.20" y2="336.20" stroke="#a3022b" stroke-width="0.9" stroke-dasharray="1.5,1.2"/>
<path d="M203.80,336.20 L206.80,334.80 L206.80,337.60 Z" fill="#a3022b"/>
<line x1="101.90" y1="337.30" x2="111.60" y2="337.30" stroke="#111" stroke-width="0.9"/>
<path d="M113.80,337.30 L110.80,335.90 L110.80,338.70 Z" fill="#111"/>
<line x1="161.90" y1="353.60" x2="240.80" y2="353.60" stroke="#111" stroke-width="0.9" />
<line x1="171.50" y1="357.20" x2="173.90" y2="350.00" stroke="#111" stroke-width="0.8" />
<line x1="173.70" y1="357.20" x2="176.10" y2="350.00" stroke="#111" stroke-width="0.8" />
<line x1="201.80" y1="357.20" x2="204.20" y2="350.00" stroke="#111" stroke-width="0.8" />
<line x1="204.00" y1="357.20" x2="206.40" y2="350.00" stroke="#111" stroke-width="0.8" />
<line x1="191.20" y1="346.50" x2="191.20" y2="360.50" stroke="#111" stroke-width="1.4" />
<line x1="231.40" y1="347.50" x2="240.80" y2="347.50" stroke="#a3022b" stroke-width="0.9"/>
<path d="M229.20,347.50 L232.20,346.10 L232.20,348.90 Z" fill="#a3022b"/>
<line x1="102.30" y1="364.40" x2="111.40" y2="364.40" stroke="#111" stroke-width="0.9"/>
<path d="M113.60,364.40 L110.60,363.00 L110.60,365.80 Z" fill="#111"/>
<line x1="38.60" y1="370.40" x2="307.50" y2="370.40" stroke="#111" stroke-width="1.0" />
<line x1="38.60" y1="370.40" x2="38.60" y2="558.30" stroke="#111" stroke-width="1.0" />
<line x1="218.10" y1="370.40" x2="218.10" y2="558.30" stroke="#111" stroke-width="1.0" />
<line x1="307.40" y1="370.40" x2="307.40" y2="558.30" stroke="#111" stroke-width="1.0" />
<line x1="19.60" y1="397.90" x2="307.40" y2="397.90" stroke="#111" stroke-width="1.0" />
<line x1="19.60" y1="477.70" x2="307.40" y2="477.70" stroke="#111" stroke-width="1.0" />
<line x1="19.60" y1="558.30" x2="307.40" y2="558.30" stroke="#111" stroke-width="1.0" />
<line x1="19.60" y1="397.90" x2="19.60" y2="558.30" stroke="#111" stroke-width="1.0" />
<text x="125.80" y="382.67" font-size="6.3" text-anchor="middle" fill="#111" font-weight="bold" textLength="35.50" lengthAdjust="spacingAndGlyphs" >Both alleles</text>
<line x1="111.00" y1="389.40" x2="120.00" y2="389.40" stroke="#111" stroke-width="0.9"/>
<path d="M122.20,389.40 L119.20,388.00 L119.20,390.80 Z" fill="#111"/>
<line x1="130.50" y1="392.50" x2="139.80" y2="392.50" stroke="#a3022b" stroke-width="0.9"/>
<path d="M128.30,392.50 L131.30,391.10 L131.30,393.90 Z" fill="#a3022b"/>
<text x="261.00" y="382.87" font-size="6.3" text-anchor="middle" fill="#111" font-weight="bold" textLength="45.60" lengthAdjust="spacingAndGlyphs" >Targeted allele</text>
<line x1="246.50" y1="389.70" x2="256.10" y2="389.70" stroke="#111" stroke-width="0.9"/>
<path d="M258.30,389.70 L255.30,388.30 L255.30,391.10 Z" fill="#111"/>
<line x1="265.60" y1="392.40" x2="274.60" y2="392.40" stroke="#a3022b" stroke-width="0.9" stroke-dasharray="1.5,1.2"/>
<path d="M263.40,392.40 L266.40,391.00 L266.40,393.80 Z" fill="#a3022b"/>
<text x="28.60" y="440.68" font-size="6.6" text-anchor="middle" fill="#333" textLength="30.00" lengthAdjust="spacingAndGlyphs" transform="rotate(-90 28.60 438.30)" stroke="none">TAIL DNA</text>
<text x="28.60" y="520.58" font-size="6.6" text-anchor="middle" fill="#333" textLength="27.20" lengthAdjust="spacingAndGlyphs" transform="rotate(-90 28.60 518.20)" stroke="none">BM DNA</text>
<text x="51.00" y="412.08" font-size="6.9" text-anchor="middle" fill="#e8962e" stroke="none">T</text>
<text x="56.12" y="412.08" font-size="6.9" text-anchor="middle" fill="#3d5c9c" stroke="none">C</text>
<text x="61.24" y="412.08" font-size="6.9" text-anchor="middle" fill="#6cb04c" stroke="none">A</text>
<text x="66.36" y="412.08" font-size="6.9" text-anchor="middle" fill="#6cb04c" stroke="none">A</text>
<text x="71.48" y="412.08" font-size="6.9" text-anchor="middle" fill="#6b3a86" stroke="none">G</text>
<text x="76.60" y="412.08" font-size="6.9" text-anchor="middle" fill="#6b3a86" stroke="none">G</text>
<text x="81.72" y="412.08" font-size="6.9" text-anchor="middle" fill="#e8962e" stroke="none">T</text>
<text x="86.84" y="412.08" font-size="6.9" text-anchor="middle" fill="#e8962e" stroke="none">T</text>
<text x="91.40" y="408.28" font-size="6.6" text-anchor="middle" fill="#6b3a86" stroke="none">G</text>
<text x="91.40" y="414.28" font-size="6.6" text-anchor="middle" fill="#3d5c9c" stroke="none">C</text>
<text x="97.10" y="412.08" font-size="6.9" text-anchor="middle" fill="#e8962e" stroke="none">T</text>
<text x="102.22" y="412.08" font-size="6.9" text-anchor="middle" fill="#6cb04c" stroke="none">A</text>
<text x="107.34" y="412.08" font-size="6.9" text-anchor="middle" fill="#e8962e" stroke="none">T</text>
<text x="112.46" y="412.08" font-size="6.9" text-anchor="middle" fill="#6b3a86" stroke="none">G</text>
<polyline points="46.60,466.50 46.85,466.50 47.10,466.50 47.35,466.50 47.60,466.50 47.85,466.50 48.10,466.50 48.35,466.50 48.60,466.50 48.85,466.50 49.10,466.50 49.35,466.50 49.60,466.50 49.85,466.50 50.11,466.50 50.36,466.50 50.61,466.50 50.86,466.50 51.11,466.50 51.36,466.50 51.61,466.50 51.86,466.50 52.11,466.50 52.36,466.50 52.61,466.50 52.86,466.50 53.11,466.50 53.36,466.50 53.61,466.50 53.86,466.50 54.11,466.50 54.36,466.50 54.61,466.50 54.86,466.50 55.11,466.50 55.36,466.50 55.61,466.50 55.86,466.50 56.11,466.50 56.36,466.50 56.61,466.50 56.87,466.50 57.12,466.50 57.37,466.49 57.62,466.47 57.87,466.42 58.12,466.30 58.37,466.07 58.62,465.62 58.87,464.83 59.12,463.58 59.37,461.78 59.62,459.42 59.87,456.66 60.12,453.82 60.37,451.32 60.62,449.54 60.87,448.70 61.12,448.76 61.37,449.39 61.62,450.16 61.87,450.65 62.12,450.69 62.37,450.37 62.62,449.99 62.87,449.86 63.12,450.13 63.37,450.74 63.63,451.40 63.88,451.83 64.13,451.85 64.38,451.52 64.63,451.15 64.88,451.12 65.13,451.76 65.38,453.17 65.63,455.22 65.88,457.62 66.13,460.01 66.38,462.10 66.63,463.74 66.88,464.90 67.13,465.64 67.38,466.07 67.63,466.30 67.88,466.42 68.13,466.47 68.38,466.49 68.63,466.50 68.88,466.50 69.13,466.50 69.38,466.50 69.63,466.50 69.88,466.50 70.13,466.50 70.39,466.50 70.64,466.50 70.89,466.50 71.14,466.50 71.39,466.50 71.64,466.50 71.89,466.50 72.14,466.50 72.39,466.50 72.64,466.50 72.89,466.50 73.14,466.50 73.39,466.50 73.64,466.50 73.89,466.50 74.14,466.50 74.39,466.50 74.64,466.50 74.89,466.50 75.14,466.50 75.39,466.50 75.64,466.50 75.89,466.50 76.14,466.50 76.39,466.50 76.64,466.50 76.89,466.50 77.15,466.50 77.40,466.50 77.65,466.50 77.90,466.50 78.15,466.50 78.40,466.50 78.65,466.50 78.90,466.50 79.15,466.50 79.40,466.50 79.65,466.50 79.90,466.50 80.15,466.50 80.40,466.50 80.65,466.50 80.90,466.50 81.15,466.50 81.40,466.50 81.65,466.50 81.90,466.50 82.15,466.50 82.40,466.50 82.65,466.50 82.90,466.50 83.15,466.50 83.40,466.50 83.65,466.50 83.91,466.50 84.16,466.50 84.41,466.50 84.66,466.50 84.91,466.50 85.16,466.50 85.41,466.50 85.66,466.50 85.91,466.50 86.16,466.50 86.41,466.50 86.66,466.50 86.91,466.50 87.16,466.50 87.41,466.50 87.66,466.50 87.91,466.50 88.16,466.50 88.41,466.50 88.66,466.50 88.91,466.50 89.16,466.50 89.41,466.50 89.66,466.50 89.91,466.50 90.16,466.50 90.41,466.50 90.67,466.50 90.92,466.50 91.17,466.50 91.42,466.50 91.67,466.50 91.92,466.50 92.17,466.50 92.42,466.50 92.67,466.50 92.92,466.50 93.17,466.50 93.42,466.50 93.67,466.50 93.92,466.50 94.17,466.50 94.42,466.50 94.67,466.50 94.92,466.50 95.17,466.50 95.42,466.50 95.67,466.50 95.92,466.50 96.17,466.50 96.42,466.50 96.67,466.50 96.92,466.49 97.17,466.48 97.43,466.46 97.68,466.41 97.93,466.31 98.18,466.14 98.43,465.84 98.68,465.34 98.93,464.58 99.18,463.44 99.43,461.86 99.68,459.80 99.93,457.26 100.18,454.35 100.43,451.26 100.68,448.28 100.93,445.71 101.18,443.89 101.43,443.04 101.68,443.29 101.93,444.60 102.18,446.79 102.43,449.59 102.68,452.65 102.93,455.69 103.18,458.45 103.43,460.79 103.68,462.63 103.93,464.00 104.19,464.96 104.44,465.60 104.69,465.99 104.94,466.23 105.19,466.36 105.44,466.43 105.69,466.47 105.94,466.49 106.19,466.49 106.44,466.50 106.69,466.50 106.94,466.50 107.19,466.50 107.44,466.50 107.69,466.50 107.94,466.50 108.19,466.50 108.44,466.50 108.69,466.50 108.94,466.50 109.19,466.49 109.44,466.48 109.69,466.46 109.94,466.43 110.19,466.37 110.44,466.29 110.69,466.16 110.95,465.99 111.20,465.77 111.45,465.50 111.70,465.19 111.95,464.86 112.20,464.54 112.45,464.27 112.70,464.08 112.95,464.00 113.20,464.04 113.45,464.18 113.70,464.42 113.95,464.72 114.20,465.05" fill="none" stroke="#56a236" stroke-width="1.0" stroke-linejoin="round"/>
<polyline points="46.60,443.55 46.85,443.22 47.10,443.98 47.35,445.73 47.60,448.22 47.85,451.16 48.10,454.23 48.35,457.13 48.60,459.68 48.85,461.77 49.10,463.37 49.35,464.52 49.60,465.31 49.85,465.82 50.11,466.13 50.36,466.30 50.61,466.40 50.86,466.45 51.11,466.48 51.36,466.49 51.61,466.50 51.86,466.50 52.11,466.49 52.36,466.49 52.61,466.47 52.86,466.43 53.11,466.36 53.36,466.22 53.61,465.96 53.86,465.52 54.11,464.79 54.36,463.67 54.61,462.04 54.86,459.78 55.11,456.85 55.36,453.28 55.61,449.23 55.86,444.98 56.11,440.93 56.36,437.52 56.61,435.18 56.87,434.21 57.12,434.76 57.37,436.75 57.62,439.90 57.87,443.81 58.12,448.05 58.37,452.19 58.62,455.91 58.87,459.03 59.12,461.48 59.37,463.28 59.62,464.53 59.87,465.35 60.12,465.86 60.37,466.16 60.62,466.33 60.87,466.42 61.12,466.46 61.37,466.48 61.62,466.49 61.87,466.50 62.12,466.50 62.37,466.50 62.62,466.50 62.87,466.50 63.12,466.50 63.37,466.50 63.63,466.50 63.88,466.50 64.13,466.50 64.38,466.50 64.63,466.50 64.88,466.50 65.13,466.50 65.38,466.50 65.63,466.50 65.88,466.50 66.13,466.50 66.38,466.50 66.63,466.50 66.88,466.50 67.13,466.50 67.38,466.50 67.63,466.50 67.88,466.50 68.13,466.50 68.38,466.50 68.63,466.50 68.88,466.50 69.13,466.50 69.38,466.50 69.63,466.50 69.88,466.50 70.13,466.50 70.39,466.50 70.64,466.50 70.89,466.50 71.14,466.50 71.39,466.50 71.64,466.50 71.89,466.50 72.14,466.50 72.39,466.50 72.64,466.50 72.89,466.50 73.14,466.50 73.39,466.50 73.64,466.50 73.89,466.50 74.14,466.50 74.39,466.50 74.64,466.50 74.89,466.50 75.14,466.50 75.39,466.50 75.64,466.50 75.89,466.50 76.14,466.50 76.39,466.50 76.64,466.50 76.89,466.50 77.15,466.50 77.40,466.50 77.65,466.50 77.90,466.50 78.15,466.50 78.40,466.50 78.65,466.50 78.90,466.50 79.15,466.50 79.40,466.50 79.65,466.50 79.90,466.50 80.15,466.50 80.40,466.50 80.65,466.50 80.90,466.50 81.15,466.50 81.40,466.50 81.65,466.50 81.90,466.50 82.15,466.50 82.40,466.50 82.65,466.50 82.90,466.50 83.15,466.50 83.40,466.50 83.65,466.50 83.91,466.50 84.16,466.50 84.41,466.50 84.66,466.50 84.91,466.50 85.16,466.50 85.41,466.50 85.66,466.50 85.91,466.50 86.16,466.50 86.41,466.50 86.66,466.50 86.91,466.50 87.16,466.50 87.41,466.50 87.66,466.49 87.91,466.48 88.16,466.47 88.41,466.43 88.66,466.37 88.91,466.27 89.16,466.09 89.41,465.82 89.66,465.42 89.91,464.86 90.16,464.12 90.41,463.21 90.67,462.17 90.92,461.05 91.17,459.97 91.42,459.03 91.67,458.35 91.92,458.02 92.17,458.09 92.42,458.54 92.67,459.32 92.92,460.32 93.17,461.43 93.42,462.53 93.67,463.54 93.92,464.39 94.17,465.07 94.42,465.57 94.67,465.93 94.92,466.16 95.17,466.31 95.42,466.40 95.67,466.45 95.92,466.47 96.17,466.49 96.42,466.49 96.67,466.50 96.92,466.50 97.17,466.50 97.43,466.50 97.68,466.50 97.93,466.50 98.18,466.50 98.43,466.50 98.68,466.50 98.93,466.50 99.18,466.50 99.43,466.50 99.68,466.50 99.93,466.50 100.18,466.50 100.43,466.50 100.68,466.50 100.93,466.50 101.18,466.50 101.43,466.50 101.68,466.50 101.93,466.50 102.18,466.50 102.43,466.50 102.68,466.50 102.93,466.50 103.18,466.50 103.43,466.50 103.68,466.50 103.93,466.50 104.19,466.50 104.44,466.50 104.69,466.50 104.94,466.50 105.19,466.50 105.44,466.50 105.69,466.50 105.94,466.50 106.19,466.50 106.44,466.50 106.69,466.50 106.94,466.50 107.19,466.50 107.44,466.50 107.69,466.50 107.94,466.50 108.19,466.50 108.44,466.50 108.69,466.50 108.94,466.50 109.19,466.50 109.44,466.50 109.69,466.50 109.94,466.50 110.19,466.50 110.44,466.50 110.69,466.50 110.95,466.50 111.20,466.50 111.45,466.50 111.70,466.50 111.95,466.50 112.20,466.50 112.45,466.50 112.70,466.50 112.95,466.50 113.20,466.50 113.45,466.50 113.70,466.50 113.95,466.50 114.20,466.50" fill="none" stroke="#25428a" stroke-width="1.0" stroke-linejoin="round"/>
<polyline points="46.60,466.50 46.85,466.50 47.10,466.50 47.35,466.50 47.60,466.50 47.85,466.50 48.10,466.50 48.35,466.50 48.60,466.50 48.85,466.50 49.10,466.50 49.35,466.50 49.60,466.50 49.85,466.50 50.11,466.50 50.36,466.50 50.61,466.50 50.86,466.50 51.11,466.50 51.36,466.50 51.61,466.50 51.86,466.50 52.11,466.50 52.36,466.50 52.61,466.50 52.86,466.50 53.11,466.50 53.36,466.50 53.61,466.50 53.86,466.50 54.11,466.50 54.36,466.50 54.61,466.50 54.86,466.50 55.11,466.50 55.36,466.50 55.61,466.50 55.86,466.50 56.11,466.50 56.36,466.50 56.61,466.50 56.87,466.50 57.12,466.50 57.37,466.50 57.62,466.50 57.87,466.50 58.12,466.50 58.37,466.50 58.62,466.50 58.87,466.50 59.12,466.50 59.37,466.50 59.62,466.50 59.87,466.50 60.12,466.50 60.37,466.50 60.62,466.50 60.87,466.50 61.12,466.50 61.37,466.50 61.62,466.50 61.87,466.50 62.12,466.50 62.37,466.50 62.62,466.50 62.87,466.50 63.12,466.50 63.37,466.50 63.63,466.50 63.88,466.50 64.13,466.50 64.38,466.50 64.63,466.50 64.88,466.50 65.13,466.50 65.38,466.50 65.63,466.50 65.88,466.50 66.13,466.50 66.38,466.50 66.63,466.50 66.88,466.49 67.13,466.47 67.38,466.43 67.63,466.34 67.88,466.16 68.13,465.84 68.38,465.28 68.63,464.39 68.88,463.06 69.13,461.25 69.38,458.96 69.63,456.32 69.88,453.58 70.13,451.07 70.39,449.12 70.64,448.00 70.89,447.78 71.14,448.38 71.39,449.50 71.64,450.81 71.89,451.99 72.14,452.87 72.39,453.44 72.64,453.83 72.89,454.23 73.14,454.77 73.39,455.49 73.64,456.26 73.89,456.80 74.14,456.78 74.39,455.84 74.64,453.71 74.89,450.25 75.14,445.50 75.39,439.75 75.64,433.47 75.89,427.32 76.14,422.03 76.39,418.30 76.64,416.64 76.89,417.31 77.15,420.20 77.40,424.94 77.65,430.92 77.90,437.45 78.15,443.88 78.40,449.70 78.65,454.60 78.90,458.46 79.15,461.32 79.40,463.32 79.65,464.64 79.90,465.46 80.15,465.95 80.40,466.22 80.65,466.36 80.90,466.44 81.15,466.47 81.40,466.49 81.65,466.50 81.90,466.50 82.15,466.50 82.40,466.50 82.65,466.50 82.90,466.50 83.15,466.50 83.40,466.50 83.65,466.50 83.91,466.50 84.16,466.50 84.41,466.50 84.66,466.50 84.91,466.50 85.16,466.50 85.41,466.50 85.66,466.50 85.91,466.50 86.16,466.50 86.41,466.50 86.66,466.50 86.91,466.50 87.16,466.50 87.41,466.50 87.66,466.49 87.91,466.49 88.16,466.47 88.41,466.44 88.66,466.38 88.91,466.27 89.16,466.07 89.41,465.74 89.66,465.22 89.91,464.44 90.16,463.34 90.41,461.88 90.67,460.06 90.92,457.92 91.17,455.62 91.42,453.33 91.67,451.29 91.92,449.75 92.17,448.92 92.42,448.89 92.67,449.68 92.92,451.18 93.17,453.20 93.42,455.48 93.67,457.79 93.92,459.94 94.17,461.78 94.42,463.27 94.67,464.39 94.92,465.18 95.17,465.72 95.42,466.06 95.67,466.26 95.92,466.38 96.17,466.44 96.42,466.47 96.67,466.49 96.92,466.49 97.17,466.50 97.43,466.50 97.68,466.50 97.93,466.50 98.18,466.50 98.43,466.50 98.68,466.50 98.93,466.50 99.18,466.50 99.43,466.50 99.68,466.50 99.93,466.50 100.18,466.50 100.43,466.50 100.68,466.50 100.93,466.50 101.18,466.50 101.43,466.50 101.68,466.50 101.93,466.50 102.18,466.50 102.43,466.50 102.68,466.50 102.93,466.50 103.18,466.50 103.43,466.50 103.68,466.50 103.93,466.50 104.19,466.50 104.44,466.50 104.69,466.50 104.94,466.50 105.19,466.50 105.44,466.50 105.69,466.50 105.94,466.50 106.19,466.50 106.44,466.50 106.69,466.50 106.94,466.50 107.19,466.49 107.44,466.49 107.69,466.47 107.94,466.43 108.19,466.35 108.44,466.20 108.69,465.92 108.94,465.44 109.19,464.65 109.44,463.42 109.69,461.62 109.94,459.12 110.19,455.86 110.44,451.88 110.69,447.33 110.95,442.53 111.20,437.92 111.45,434.00 111.70,431.25 111.95,430.04 112.20,430.53 112.45,432.66 112.70,436.14 112.95,440.52 113.20,445.30 113.45,450.00 113.70,454.25 113.95,457.83 114.20,460.64" fill="none" stroke="#4e1f70" stroke-width="1.0" stroke-linejoin="round"/>
<polyline points="46.60,466.48 46.85,466.46 47.10,466.41 47.35,466.31 47.60,466.13 47.85,465.81 48.10,465.28 48.35,464.43 48.60,463.16 48.85,461.37 49.10,458.98 49.35,455.98 49.60,452.47 49.85,448.65 50.11,444.85 50.36,441.46 50.61,438.87 50.86,437.43 51.11,437.33 51.36,438.58 51.61,441.01 51.86,444.32 52.11,448.08 52.36,451.92 52.61,455.49 52.86,458.57 53.11,461.05 53.36,462.93 53.61,464.27 53.86,465.17 54.11,465.75 54.36,466.09 54.61,466.29 54.86,466.40 55.11,466.45 55.36,466.48 55.61,466.49 55.86,466.50 56.11,466.50 56.36,466.50 56.61,466.50 56.87,466.50 57.12,466.50 57.37,466.50 57.62,466.50 57.87,466.50 58.12,466.50 58.37,466.50 58.62,466.50 58.87,466.50 59.12,466.50 59.37,466.50 59.62,466.50 59.87,466.50 60.12,466.50 60.37,466.50 60.62,466.50 60.87,466.50 61.12,466.50 61.37,466.50 61.62,466.50 61.87,466.50 62.12,466.50 62.37,466.50 62.62,466.50 62.87,466.50 63.12,466.50 63.37,466.50 63.63,466.50 63.88,466.50 64.13,466.50 64.38,466.50 64.63,466.50 64.88,466.50 65.13,466.50 65.38,466.50 65.63,466.50 65.88,466.50 66.13,466.50 66.38,466.50 66.63,466.50 66.88,466.50 67.13,466.50 67.38,466.50 67.63,466.50 67.88,466.50 68.13,466.50 68.38,466.50 68.63,466.50 68.88,466.50 69.13,466.50 69.38,466.50 69.63,466.50 69.88,466.50 70.13,466.50 70.39,466.50 70.64,466.50 70.89,466.50 71.14,466.50 71.39,466.50 71.64,466.50 71.89,466.50 72.14,466.50 72.39,466.50 72.64,466.50 72.89,466.50 73.14,466.50 73.39,466.50 73.64,466.50 73.89,466.50 74.14,466.50 74.39,466.50 74.64,466.50 74.89,466.50 75.14,466.50 75.39,466.50 75.64,466.50 75.89,466.50 76.14,466.50 76.39,466.50 76.64,466.50 76.89,466.50 77.15,466.50 77.40,466.49 77.65,466.48 77.90,466.46 78.15,466.42 78.40,466.34 78.65,466.18 78.90,465.91 79.15,465.47 79.40,464.77 79.65,463.74 79.90,462.30 80.15,460.39 80.40,458.03 80.65,455.30 80.90,452.38 81.15,449.52 81.40,447.02 81.65,445.19 81.90,444.27 82.15,444.37 82.40,445.48 82.65,447.41 82.90,449.90 83.15,452.60 83.40,455.14 83.65,457.21 83.91,458.55 84.16,458.98 84.41,458.42 84.66,456.85 84.91,454.36 85.16,451.17 85.41,447.57 85.66,443.95 85.91,440.77 86.16,438.43 86.41,437.28 86.66,437.47 86.91,439.00 87.16,441.65 87.41,445.08 87.66,448.89 87.91,452.70 88.16,456.18 88.41,459.14 88.66,461.50 88.91,463.26 89.16,464.49 89.41,465.32 89.66,465.83 89.91,466.14 90.16,466.32 90.41,466.41 90.67,466.46 90.92,466.48 91.17,466.49 91.42,466.50 91.67,466.50 91.92,466.50 92.17,466.50 92.42,466.49 92.67,466.48 92.92,466.46 93.17,466.41 93.42,466.32 93.67,466.15 93.92,465.86 94.17,465.39 94.42,464.64 94.67,463.54 94.92,462.01 95.17,460.00 95.42,457.53 95.67,454.69 95.92,451.67 96.17,448.74 96.42,446.21 96.67,444.41 96.92,443.55 97.17,443.76 97.43,445.02 97.68,447.14 97.93,449.87 98.18,452.87 98.43,455.85 98.68,458.56 98.93,460.85 99.18,462.67 99.43,464.02 99.68,464.97 99.93,465.60 100.18,466.00 100.43,466.23 100.68,466.36 100.93,466.42 101.18,466.45 101.43,466.43 101.68,466.38 101.93,466.27 102.18,466.07 102.43,465.71 102.68,465.12 102.93,464.20 103.18,462.86 103.43,460.98 103.68,458.53 103.93,455.53 104.19,452.09 104.44,448.45 104.69,444.94 104.94,441.94 105.19,439.81 105.44,438.84 105.69,439.17 105.94,440.74 106.19,443.34 106.44,446.65 106.69,450.27 106.94,453.84 107.19,457.09 107.44,459.82 107.69,461.98 107.94,463.59 108.19,464.71 108.44,465.45 108.69,465.91 108.94,466.19 109.19,466.34 109.44,466.42 109.69,466.46 109.94,466.48 110.19,466.49 110.44,466.50 110.69,466.50 110.95,466.50 111.20,466.50 111.45,466.50 111.70,466.50 111.95,466.50 112.20,466.50 112.45,466.50 112.70,466.50 112.95,466.50 113.20,466.50 113.45,466.50 113.70,466.50 113.95,466.50 114.20,466.50" fill="none" stroke="#e48b12" stroke-width="1.0" stroke-linejoin="round"/>
<line x1="92.30" y1="430.80" x2="92.30" y2="441.80" stroke="#111" stroke-width="1.15" stroke-dasharray="1.1,1.0"/>
<path d="M92.30,444.60 L90.70,441.60 L93.90,441.60 Z" fill="#111"/>
<line x1="117.70" y1="466.50" x2="134.30" y2="466.50" stroke="#1a1a1a" stroke-width="1.0" stroke-dasharray="1.5,1.3"/>
<text x="141.60" y="411.88" font-size="6.9" text-anchor="middle" fill="#3d5c9c" stroke="none">C</text>
<text x="146.80" y="411.88" font-size="6.9" text-anchor="middle" fill="#6cb04c" stroke="none">A</text>
<text x="152.00" y="411.88" font-size="6.9" text-anchor="middle" fill="#e8962e" stroke="none">T</text>
<text x="157.20" y="411.88" font-size="6.9" text-anchor="middle" fill="#6cb04c" stroke="none">A</text>
<text x="162.40" y="411.88" font-size="6.9" text-anchor="middle" fill="#e8962e" stroke="none">T</text>
<text x="168.60" y="408.87" font-size="6.3" text-anchor="middle" fill="#6b3a86" stroke="none">G</text>
<text x="174.00" y="408.87" font-size="6.3" text-anchor="middle" fill="#3d5c9c" stroke="none">C</text>
<text x="179.40" y="408.87" font-size="6.3" text-anchor="middle" fill="#3d5c9c" stroke="none">C</text>
<text x="184.80" y="408.87" font-size="6.3" text-anchor="middle" fill="#6cb04c" stroke="none">A</text>
<text x="190.20" y="408.87" font-size="6.3" text-anchor="middle" fill="#6b3a86" stroke="none">G</text>
<text x="195.60" y="408.87" font-size="6.3" text-anchor="middle" fill="#3d5c9c" stroke="none">C</text>
<text x="201.00" y="408.87" font-size="6.3" text-anchor="middle" fill="#6cb04c" stroke="none">A</text>
<text x="206.40" y="408.87" font-size="6.3" text-anchor="middle" fill="#e8962e" stroke="none">T</text>
<text x="168.60" y="414.47" font-size="6.3" text-anchor="middle" fill="#3d5c9c" stroke="none">C</text>
<text x="174.00" y="414.47" font-size="6.3" text-anchor="middle" fill="#6b3a86" stroke="none">G</text>
<text x="179.40" y="414.47" font-size="6.3" text-anchor="middle" fill="#6cb04c" stroke="none">A</text>
<text x="184.80" y="414.47" font-size="6.3" text-anchor="middle" fill="#6b3a86" stroke="none">G</text>
<text x="190.20" y="414.47" font-size="6.3" text-anchor="middle" fill="#6b3a86" stroke="none">G</text>
<text x="195.60" y="414.47" font-size="6.3" text-anchor="middle" fill="#6cb04c" stroke="none">A</text>
<text x="201.00" y="414.47" font-size="6.3" text-anchor="middle" fill="#6cb04c" stroke="none">A</text>
<text x="206.40" y="414.47" font-size="6.3" text-anchor="middle" fill="#6b3a86" stroke="none">G</text>
<polyline points="137.50,466.50 137.75,466.50 138.00,466.50 138.25,466.50 138.50,466.50 138.75,466.50 139.00,466.50 139.25,466.50 139.50,466.50 139.75,466.50 140.01,466.50 140.26,466.50 140.51,466.50 140.76,466.50 141.01,466.50 141.26,466.50 141.51,466.49 141.76,466.48 142.01,466.45 142.26,466.40 142.51,466.30 142.76,466.12 143.01,465.81 143.26,465.32 143.51,464.56 143.76,463.47 144.01,461.98 144.26,460.07 144.51,457.77 144.77,455.21 145.02,452.57 145.27,450.10 145.52,448.10 145.77,446.81 146.02,446.40 146.27,446.94 146.52,448.34 146.77,450.43 147.02,452.93 147.27,455.58 147.52,458.12 147.77,460.36 148.02,462.21 148.27,463.65 148.52,464.69 148.77,465.40 149.02,465.87 149.27,466.15 149.52,466.32 149.78,466.41 150.03,466.46 150.28,466.48 150.53,466.49 150.78,466.50 151.03,466.50 151.28,466.50 151.53,466.50 151.78,466.49 152.03,466.48 152.28,466.45 152.53,466.40 152.78,466.29 153.03,466.09 153.28,465.73 153.53,465.11 153.78,464.12 154.03,462.61 154.28,460.45 154.54,457.51 154.79,453.76 155.04,449.28 155.29,444.31 155.54,439.24 155.79,434.55 156.04,430.80 156.29,428.45 156.54,427.82 156.79,429.01 157.04,431.85 157.29,435.95 157.54,440.82 157.79,445.91 158.04,450.76 158.29,455.02 158.54,458.52 158.79,461.21 159.04,463.15 159.30,464.48 159.55,465.34 159.80,465.86 160.05,466.17 160.30,466.33 160.55,466.42 160.80,466.46 161.05,466.48 161.30,466.49 161.55,466.50 161.80,466.50 162.05,466.50 162.30,466.50 162.55,466.50 162.80,466.50 163.05,466.50 163.30,466.50 163.55,466.50 163.80,466.50 164.06,466.50 164.31,466.50 164.56,466.50 164.81,466.50 165.06,466.50 165.31,466.50 165.56,466.50 165.81,466.50 166.06,466.50 166.31,466.50 166.56,466.50 166.81,466.50 167.06,466.50 167.31,466.50 167.56,466.50 167.81,466.50 168.06,466.50 168.31,466.50 168.56,466.50 168.81,466.50 169.07,466.50 169.32,466.50 169.57,466.50 169.82,466.50 170.07,466.50 170.32,466.50 170.57,466.50 170.82,466.50 171.07,466.50 171.32,466.50 171.57,466.50 171.82,466.50 172.07,466.50 172.32,466.50 172.57,466.50 172.82,466.50 173.07,466.50 173.32,466.50 173.57,466.50 173.83,466.50 174.08,466.50 174.33,466.50 174.58,466.50 174.83,466.49 175.08,466.49 175.33,466.47 175.58,466.45 175.83,466.40 176.08,466.31 176.33,466.17 176.58,465.94 176.83,465.60 177.08,465.12 177.33,464.49 177.58,463.71 177.83,462.80 178.08,461.82 178.33,460.85 178.59,460.00 178.84,459.37 179.09,459.04 179.34,459.05 179.59,459.41 179.84,460.06 180.09,460.92 180.34,461.88 180.59,462.83 180.84,463.68 181.09,464.36 181.34,464.83 181.59,465.04 181.84,465.00 182.09,464.68 182.34,464.09 182.59,463.24 182.84,462.19 183.09,460.99 183.34,459.76 183.60,458.62 183.85,457.71 184.10,457.15 184.35,457.01 184.60,457.31 184.85,458.02 185.10,459.04 185.35,460.23 185.60,461.48 185.85,462.67 186.10,463.71 186.35,464.56 186.60,465.22 186.85,465.69 187.10,466.01 187.35,466.22 187.60,466.35 187.85,466.42 188.10,466.46 188.36,466.48 188.61,466.49 188.86,466.50 189.11,466.50 189.36,466.50 189.61,466.50 189.86,466.50 190.11,466.50 190.36,466.50 190.61,466.50 190.86,466.50 191.11,466.50 191.36,466.50 191.61,466.50 191.86,466.50 192.11,466.49 192.36,466.47 192.61,466.44 192.86,466.37 193.12,466.23 193.37,465.98 193.62,465.55 193.87,464.84 194.12,463.73 194.37,462.09 194.62,459.80 194.87,456.79 195.12,453.08 195.37,448.83 195.62,444.30 195.87,439.90 196.12,436.10 196.37,433.37 196.62,432.08 196.87,432.38 197.12,434.25 197.37,437.41 197.62,441.45 197.88,445.88 198.13,450.20 198.38,454.00 198.63,456.99 198.88,458.98 199.13,459.89 199.38,459.69 199.63,458.43 199.88,456.21 200.13,453.20 200.38,449.66 200.63,445.93 200.88,442.43 201.13,439.60 201.38,437.81 201.63,437.31 201.88,438.17 202.13,440.28 202.38,443.36 202.63,447.02 202.89,450.87 203.14,454.53 203.39,457.76 203.64,460.42 203.89,462.46 204.14,463.94 204.39,464.96 204.64,465.61 204.89,466.01 205.14,466.24 205.39,466.37 205.64,466.44 205.89,466.47 206.14,466.49 206.39,466.50 206.64,466.50 206.89,466.50 207.14,466.50 207.39,466.50 207.65,466.50 207.90,466.50 208.15,466.50 208.40,466.50 208.65,466.50 208.90,466.50 209.15,466.50 209.40,466.50 209.65,466.50 209.90,466.50" fill="none" stroke="#56a236" stroke-width="1.0" stroke-linejoin="round"/>
<polyline points="137.50,466.34 137.75,466.17 138.00,465.88 138.25,465.36 138.50,464.53 138.75,463.22 139.00,461.32 139.25,458.68 139.50,455.24 139.75,451.05 140.01,446.29 140.26,441.27 140.51,436.48 140.76,432.42 141.01,429.61 141.26,428.43 141.51,429.02 141.76,431.31 142.01,435.00 142.26,439.61 142.51,444.60 142.76,449.50 143.01,453.91 143.26,457.61 143.51,460.51 143.76,462.66 144.01,464.15 144.26,465.12 144.51,465.73 144.77,466.09 145.02,466.29 145.27,466.40 145.52,466.45 145.77,466.48 146.02,466.49 146.27,466.50 146.52,466.50 146.77,466.50 147.02,466.50 147.27,466.50 147.52,466.50 147.77,466.50 148.02,466.50 148.27,466.50 148.52,466.50 148.77,466.50 149.02,466.50 149.27,466.50 149.52,466.50 149.78,466.50 150.03,466.50 150.28,466.50 150.53,466.50 150.78,466.50 151.03,466.50 151.28,466.50 151.53,466.50 151.78,466.50 152.03,466.50 152.28,466.50 152.53,466.50 152.78,466.50 153.03,466.50 153.28,466.50 153.53,466.50 153.78,466.50 154.03,466.50 154.28,466.50 154.54,466.50 154.79,466.50 155.04,466.50 155.29,466.50 155.54,466.50 155.79,466.50 156.04,466.50 156.29,466.50 156.54,466.50 156.79,466.50 157.04,466.50 157.29,466.50 157.54,466.50 157.79,466.50 158.04,466.50 158.29,466.50 158.54,466.50 158.79,466.50 159.04,466.50 159.30,466.50 159.55,466.50 159.80,466.50 160.05,466.50 160.30,466.50 160.55,466.50 160.80,466.50 161.05,466.50 161.30,466.50 161.55,466.50 161.80,466.50 162.05,466.50 162.30,466.50 162.55,466.50 162.80,466.50 163.05,466.50 163.30,466.50 163.55,466.49 163.80,466.48 164.06,466.46 164.31,466.42 164.56,466.34 164.81,466.21 165.06,466.01 165.31,465.69 165.56,465.23 165.81,464.60 166.06,463.80 166.31,462.83 166.56,461.75 166.81,460.63 167.06,459.58 167.31,458.73 167.56,458.18 167.81,458.00 168.06,458.22 168.31,458.80 168.56,459.68 168.81,460.72 169.07,461.82 169.32,462.85 169.57,463.73 169.82,464.37 170.07,464.74 170.32,464.80 170.57,464.53 170.82,463.91 171.07,462.93 171.32,461.60 171.57,459.99 171.82,458.20 172.07,456.38 172.32,454.73 172.57,453.43 172.82,452.66 173.07,452.53 173.32,453.05 173.57,454.14 173.83,455.68 174.08,457.46 174.33,459.29 174.58,461.01 174.83,462.50 175.08,463.68 175.33,464.54 175.58,465.07 175.83,465.29 176.08,465.21 176.33,464.81 176.58,464.09 176.83,463.03 177.08,461.63 177.33,459.93 177.58,458.04 177.83,456.10 178.08,454.31 178.33,452.86 178.59,451.96 178.84,451.71 179.09,452.15 179.34,453.23 179.59,454.79 179.84,456.65 180.09,458.60 180.34,460.45 180.59,462.09 180.84,463.43 181.09,464.46 181.34,465.21 181.59,465.72 181.84,466.05 182.09,466.25 182.34,466.37 182.59,466.44 182.84,466.47 183.09,466.49 183.34,466.49 183.60,466.50 183.85,466.50 184.10,466.50 184.35,466.50 184.60,466.50 184.85,466.50 185.10,466.50 185.35,466.50 185.60,466.50 185.85,466.50 186.10,466.50 186.35,466.50 186.60,466.50 186.85,466.50 187.10,466.50 187.35,466.50 187.60,466.50 187.85,466.50 188.10,466.50 188.36,466.50 188.61,466.50 188.86,466.50 189.11,466.50 189.36,466.50 189.61,466.50 189.86,466.50 190.11,466.50 190.36,466.50 190.61,466.50 190.86,466.50 191.11,466.49 191.36,466.49 191.61,466.47 191.86,466.44 192.11,466.39 192.36,466.29 192.61,466.11 192.86,465.81 193.12,465.35 193.37,464.66 193.62,463.71 193.87,462.46 194.12,460.91 194.37,459.14 194.62,457.25 194.87,455.41 195.12,453.82 195.37,452.68 195.62,452.13 195.87,452.26 196.12,453.04 196.37,454.36 196.62,456.06 196.87,457.94 197.12,459.81 197.37,461.51 197.62,462.95 197.88,464.09 198.13,464.94 198.38,465.54 198.63,465.94 198.88,466.18 199.13,466.33 199.38,466.41 199.63,466.46 199.88,466.48 200.13,466.49 200.38,466.50 200.63,466.50 200.88,466.50 201.13,466.50 201.38,466.50 201.63,466.50 201.88,466.50 202.13,466.50 202.38,466.50 202.63,466.50 202.89,466.50 203.14,466.50 203.39,466.50 203.64,466.50 203.89,466.50 204.14,466.50 204.39,466.50 204.64,466.50 204.89,466.50 205.14,466.50 205.39,466.50 205.64,466.50 205.89,466.50 206.14,466.50 206.39,466.50 206.64,466.50 206.89,466.50 207.14,466.50 207.39,466.50 207.65,466.50 207.90,466.50 208.15,466.50 208.40,466.50 208.65,466.50 208.90,466.50 209.15,466.50 209.40,466.50 209.65,466.50 209.90,466.50" fill="none" stroke="#25428a" stroke-width="1.0" stroke-linejoin="round"/>
<polyline points="137.50,466.50 137.75,466.50 138.00,466.50 138.25,466.50 138.50,466.50 138.75,466.50 139.00,466.50 139.25,466.50 139.50,466.50 139.75,466.50 140.01,466.50 140.26,466.50 140.51,466.50 140.76,466.50 141.01,466.50 141.26,466.50 141.51,466.50 141.76,466.50 142.01,466.50 142.26,466.50 142.51,466.50 142.76,466.50 143.01,466.50 143.26,466.50 143.51,466.50 143.76,466.50 144.01,466.50 144.26,466.50 144.51,466.50 144.77,466.50 145.02,466.50 145.27,466.50 145.52,466.50 145.77,466.50 146.02,466.50 146.27,466.50 146.52,466.50 146.77,466.50 147.02,466.50 147.27,466.50 147.52,466.50 147.77,466.50 148.02,466.50 148.27,466.50 148.52,466.50 148.77,466.50 149.02,466.50 149.27,466.50 149.52,466.50 149.78,466.50 150.03,466.50 150.28,466.50 150.53,466.50 150.78,466.50 151.03,466.50 151.28,466.50 151.53,466.50 151.78,466.50 152.03,466.50 152.28,466.50 152.53,466.50 152.78,466.50 153.03,466.50 153.28,466.50 153.53,466.50 153.78,466.50 154.03,466.50 154.28,466.50 154.54,466.50 154.79,466.50 155.04,466.50 155.29,466.50 155.54,466.50 155.79,466.50 156.04,466.50 156.29,466.50 156.54,466.50 156.79,466.50 157.04,466.50 157.29,466.50 157.54,466.50 157.79,466.50 158.04,466.50 158.29,466.50 158.54,466.50 158.79,466.50 159.04,466.50 159.30,466.50 159.55,466.50 159.80,466.50 160.05,466.50 160.30,466.50 160.55,466.50 160.80,466.50 161.05,466.50 161.30,466.50 161.55,466.50 161.80,466.50 162.05,466.50 162.30,466.50 162.55,466.50 162.80,466.50 163.05,466.49 163.30,466.48 163.55,466.45 163.80,466.40 164.06,466.30 164.31,466.12 164.56,465.82 164.81,465.34 165.06,464.61 165.31,463.58 165.56,462.17 165.81,460.40 166.06,458.29 166.31,455.96 166.56,453.61 166.81,451.46 167.06,449.76 167.31,448.74 167.56,448.53 167.81,449.15 168.06,450.53 168.31,452.49 168.56,454.77 168.81,457.13 169.07,459.36 169.32,461.31 169.57,462.88 169.82,464.06 170.07,464.87 170.32,465.35 170.57,465.54 170.82,465.49 171.07,465.21 171.32,464.72 171.57,464.04 171.82,463.20 172.07,462.25 172.32,461.27 172.57,460.36 172.82,459.62 173.07,459.14 173.32,459.00 173.57,459.21 173.83,459.74 174.08,460.53 174.33,461.46 174.58,462.45 174.83,463.40 175.08,464.23 175.33,464.92 175.58,465.45 175.83,465.83 176.08,466.10 176.33,466.27 176.58,466.37 176.83,466.43 177.08,466.47 177.33,466.48 177.58,466.49 177.83,466.50 178.08,466.50 178.33,466.50 178.59,466.50 178.84,466.50 179.09,466.50 179.34,466.50 179.59,466.50 179.84,466.50 180.09,466.49 180.34,466.48 180.59,466.45 180.84,466.40 181.09,466.30 181.34,466.12 181.59,465.83 181.84,465.36 182.09,464.66 182.34,463.66 182.59,462.33 182.84,460.65 183.09,458.68 183.34,456.54 183.60,454.39 183.85,452.46 184.10,450.98 184.35,450.15 184.60,450.06 184.85,450.74 185.10,452.09 185.35,453.94 185.60,456.05 185.85,458.21 186.10,460.21 186.35,461.93 186.60,463.29 186.85,464.25 187.10,464.82 187.35,465.01 187.60,464.79 187.85,464.15 188.10,463.03 188.36,461.40 188.61,459.22 188.86,456.53 189.11,453.47 189.36,450.25 189.61,447.17 189.86,444.57 190.11,442.77 190.36,442.02 190.61,442.41 190.86,443.89 191.11,446.26 191.36,449.23 191.61,452.44 191.86,455.59 192.11,458.42 192.36,460.80 192.61,462.66 192.86,464.04 193.12,464.99 193.37,465.62 193.62,466.01 193.87,466.24 194.12,466.37 194.37,466.44 194.62,466.47 194.87,466.49 195.12,466.49 195.37,466.50 195.62,466.50 195.87,466.50 196.12,466.50 196.37,466.50 196.62,466.50 196.87,466.50 197.12,466.50 197.37,466.50 197.62,466.50 197.88,466.50 198.13,466.50 198.38,466.50 198.63,466.50 198.88,466.50 199.13,466.50 199.38,466.50 199.63,466.50 199.88,466.50 200.13,466.50 200.38,466.50 200.63,466.50 200.88,466.50 201.13,466.50 201.38,466.50 201.63,466.50 201.88,466.50 202.13,466.50 202.38,466.50 202.63,466.50 202.89,466.50 203.14,466.50 203.39,466.49 203.64,466.48 203.89,466.46 204.14,466.42 204.39,466.34 204.64,466.21 204.89,465.99 205.14,465.65 205.39,465.16 205.64,464.47 205.89,463.57 206.14,462.46 206.39,461.21 206.64,459.88 206.89,458.60 207.14,457.51 207.39,456.75 207.65,456.41 207.90,456.55 208.15,457.13 208.40,458.09 208.65,459.31 208.90,460.63 209.15,461.93 209.40,463.11 209.65,464.10 209.90,464.88" fill="none" stroke="#4e1f70" stroke-width="1.0" stroke-linejoin="round"/>
<polyline points="137.50,466.50 137.75,466.50 138.00,466.50 138.25,466.50 138.50,466.50 138.75,466.50 139.00,466.50 139.25,466.50 139.50,466.50 139.75,466.50 140.01,466.50 140.26,466.50 140.51,466.50 140.76,466.50 141.01,466.50 141.26,466.50 141.51,466.50 141.76,466.50 142.01,466.50 142.26,466.50 142.51,466.50 142.76,466.50 143.01,466.50 143.26,466.50 143.51,466.50 143.76,466.50 144.01,466.50 144.26,466.50 144.51,466.50 144.77,466.50 145.02,466.50 145.27,466.50 145.52,466.50 145.77,466.50 146.02,466.50 146.27,466.50 146.52,466.50 146.77,466.49 147.02,466.48 147.27,466.46 147.52,466.41 147.77,466.31 148.02,466.14 148.27,465.85 148.52,465.38 148.77,464.65 149.02,463.58 149.27,462.11 149.52,460.21 149.78,457.90 150.03,455.29 150.28,452.57 150.53,449.99 150.78,447.83 151.03,446.37 151.28,445.80 151.53,446.21 151.78,447.52 152.03,449.58 152.28,452.11 152.53,454.83 152.78,457.47 153.03,459.84 153.28,461.82 153.53,463.36 153.78,464.49 154.03,465.27 154.28,465.79 154.54,466.10 154.79,466.29 155.04,466.39 155.29,466.45 155.54,466.48 155.79,466.49 156.04,466.50 156.29,466.50 156.54,466.50 156.79,466.50 157.04,466.49 157.29,466.48 157.54,466.46 157.79,466.42 158.04,466.33 158.29,466.17 158.54,465.87 158.79,465.35 159.04,464.52 159.30,463.24 159.55,461.39 159.80,458.85 160.05,455.58 160.30,451.64 160.55,447.21 160.80,442.62 161.05,438.31 161.30,434.76 161.55,432.42 161.80,431.60 162.05,432.42 162.30,434.76 162.55,438.32 162.80,442.63 163.05,447.22 163.30,451.65 163.55,455.59 163.80,458.86 164.06,461.40 164.31,463.25 164.56,464.52 164.81,465.36 165.06,465.87 165.31,466.17 165.56,466.33 165.81,466.42 166.06,466.46 166.31,466.48 166.56,466.49 166.81,466.50 167.06,466.50 167.31,466.50 167.56,466.50 167.81,466.50 168.06,466.50 168.31,466.50 168.56,466.50 168.81,466.50 169.07,466.50 169.32,466.50 169.57,466.50 169.82,466.50 170.07,466.50 170.32,466.50 170.57,466.50 170.82,466.50 171.07,466.50 171.32,466.50 171.57,466.50 171.82,466.50 172.07,466.50 172.32,466.50 172.57,466.50 172.82,466.50 173.07,466.50 173.32,466.50 173.57,466.50 173.83,466.50 174.08,466.50 174.33,466.50 174.58,466.50 174.83,466.50 175.08,466.50 175.33,466.50 175.58,466.50 175.83,466.50 176.08,466.50 176.33,466.50 176.58,466.50 176.83,466.50 177.08,466.50 177.33,466.50 177.58,466.50 177.83,466.50 178.08,466.50 178.33,466.50 178.59,466.50 178.84,466.50 179.09,466.50 179.34,466.50 179.59,466.50 179.84,466.50 180.09,466.50 180.34,466.50 180.59,466.50 180.84,466.50 181.09,466.50 181.34,466.50 181.59,466.50 181.84,466.50 182.09,466.50 182.34,466.50 182.59,466.50 182.84,466.50 183.09,466.50 183.34,466.50 183.60,466.50 183.85,466.50 184.10,466.50 184.35,466.50 184.60,466.50 184.85,466.50 185.10,466.50 185.35,466.50 185.60,466.50 185.85,466.50 186.10,466.50 186.35,466.50 186.60,466.50 186.85,466.50 187.10,466.50 187.35,466.50 187.60,466.50 187.85,466.50 188.10,466.50 188.36,466.50 188.61,466.50 188.86,466.50 189.11,466.50 189.36,466.50 189.61,466.50 189.86,466.50 190.11,466.50 190.36,466.50 190.61,466.50 190.86,466.50 191.11,466.50 191.36,466.50 191.61,466.50 191.86,466.50 192.11,466.50 192.36,466.50 192.61,466.50 192.86,466.50 193.12,466.50 193.37,466.50 193.62,466.50 193.87,466.50 194.12,466.50 194.37,466.50 194.62,466.50 194.87,466.50 195.12,466.50 195.37,466.50 195.62,466.50 195.87,466.50 196.12,466.50 196.37,466.50 196.62,466.50 196.87,466.50 197.12,466.50 197.37,466.50 197.62,466.50 197.88,466.50 198.13,466.50 198.38,466.50 198.63,466.50 198.88,466.50 199.13,466.50 199.38,466.50 199.63,466.50 199.88,466.50 200.13,466.50 200.38,466.50 200.63,466.50 200.88,466.50 201.13,466.50 201.38,466.50 201.63,466.50 201.88,466.49 202.13,466.48 202.38,466.46 202.63,466.41 202.89,466.32 203.14,466.16 203.39,465.90 203.64,465.49 203.89,464.86 204.14,463.97 204.39,462.78 204.64,461.28 204.89,459.52 205.14,457.60 205.39,455.67 205.64,453.94 205.89,452.60 206.14,451.84 206.39,451.75 206.64,452.34 206.89,453.55 207.14,455.20 207.39,457.09 207.65,459.03 207.90,460.85 208.15,462.42 208.40,463.69 208.65,464.66 208.90,465.35 209.15,465.81 209.40,466.11 209.65,466.29 209.90,466.39" fill="none" stroke="#e48b12" stroke-width="1.0" stroke-linejoin="round"/>
<text x="231.20" y="412.28" font-size="6.9" text-anchor="middle" fill="#e8962e" stroke="none">T</text>
<text x="236.30" y="412.28" font-size="6.9" text-anchor="middle" fill="#3d5c9c" stroke="none">C</text>
<text x="241.40" y="412.28" font-size="6.9" text-anchor="middle" fill="#6cb04c" stroke="none">A</text>
<text x="246.50" y="412.28" font-size="6.9" text-anchor="middle" fill="#6cb04c" stroke="none">A</text>
<text x="251.60" y="412.28" font-size="6.9" text-anchor="middle" fill="#6b3a86" stroke="none">G</text>
<text x="256.70" y="412.28" font-size="6.9" text-anchor="middle" fill="#6b3a86" stroke="none">G</text>
<text x="261.80" y="412.28" font-size="6.9" text-anchor="middle" fill="#e8962e" stroke="none">T</text>
<text x="266.90" y="412.28" font-size="6.9" text-anchor="middle" fill="#e8962e" stroke="none">T</text>
<text x="272.00" y="412.28" font-size="6.9" text-anchor="middle" fill="#3d5c9c" stroke="none">C</text>
<text x="277.10" y="412.28" font-size="6.9" text-anchor="middle" fill="#e8962e" stroke="none">T</text>
<text x="282.20" y="412.28" font-size="6.9" text-anchor="middle" fill="#6cb04c" stroke="none">A</text>
<text x="287.30" y="412.28" font-size="6.9" text-anchor="middle" fill="#e8962e" stroke="none">T</text>
<text x="292.40" y="412.28" font-size="6.9" text-anchor="middle" fill="#6b3a86" stroke="none">G</text>
<polyline points="225.30,466.00 225.55,466.00 225.80,466.00 226.05,466.00 226.30,466.00 226.55,466.00 226.80,466.00 227.05,466.00 227.30,466.00 227.55,466.00 227.80,466.00 228.05,466.00 228.30,466.00 228.55,466.00 228.80,466.00 229.05,466.00 229.30,466.00 229.55,466.00 229.80,466.00 230.05,466.00 230.30,466.00 230.55,466.00 230.80,466.00 231.05,466.00 231.30,466.00 231.55,466.00 231.80,466.00 232.05,466.00 232.30,466.00 232.55,466.00 232.80,466.00 233.05,466.00 233.30,466.00 233.55,466.00 233.80,466.00 234.05,466.00 234.30,466.00 234.55,466.00 234.80,466.00 235.05,466.00 235.30,466.00 235.55,466.00 235.80,465.99 236.05,465.97 236.30,465.93 236.55,465.83 236.80,465.63 237.05,465.22 237.30,464.50 237.55,463.33 237.80,461.58 238.05,459.24 238.30,456.42 238.55,453.42 238.80,450.66 239.05,448.58 239.30,447.50 239.55,447.46 239.80,448.18 240.05,449.17 240.30,449.94 240.55,450.16 240.80,449.81 241.05,449.16 241.30,448.60 241.55,448.46 241.80,448.83 242.05,449.52 242.30,450.16 242.55,450.37 242.80,449.99 243.05,449.16 243.30,448.28 243.55,447.86 243.80,448.30 244.05,449.77 244.30,452.10 244.55,454.94 244.80,457.83 245.05,460.41 245.30,462.46 245.55,463.92 245.80,464.87 246.05,465.43 246.30,465.73 246.55,465.89 246.80,465.95 247.05,465.98 247.30,465.99 247.55,466.00 247.80,466.00 248.05,466.00 248.30,466.00 248.55,466.00 248.80,466.00 249.05,466.00 249.30,466.00 249.55,466.00 249.80,466.00 250.05,466.00 250.30,466.00 250.55,466.00 250.80,466.00 251.05,466.00 251.30,466.00 251.55,466.00 251.80,466.00 252.05,466.00 252.30,466.00 252.55,466.00 252.80,466.00 253.05,466.00 253.30,466.00 253.55,466.00 253.80,466.00 254.05,466.00 254.30,466.00 254.55,466.00 254.80,466.00 255.05,466.00 255.30,466.00 255.55,466.00 255.80,466.00 256.05,466.00 256.30,466.00 256.55,466.00 256.80,466.00 257.05,466.00 257.30,466.00 257.55,466.00 257.80,466.00 258.05,466.00 258.30,466.00 258.55,466.00 258.80,466.00 259.05,466.00 259.30,466.00 259.55,466.00 259.80,466.00 260.05,466.00 260.30,466.00 260.55,466.00 260.80,466.00 261.05,466.00 261.30,466.00 261.55,466.00 261.80,466.00 262.05,466.00 262.30,466.00 262.55,466.00 262.80,466.00 263.05,466.00 263.30,466.00 263.55,466.00 263.80,466.00 264.05,466.00 264.30,466.00 264.55,466.00 264.80,466.00 265.05,466.00 265.30,466.00 265.55,466.00 265.80,466.00 266.05,466.00 266.30,466.00 266.55,466.00 266.80,466.00 267.05,466.00 267.30,466.00 267.55,466.00 267.80,466.00 268.05,466.00 268.30,466.00 268.55,466.00 268.80,466.00 269.05,466.00 269.30,466.00 269.55,466.00 269.80,466.00 270.05,466.00 270.30,466.00 270.55,466.00 270.80,466.00 271.05,466.00 271.30,466.00 271.55,466.00 271.80,466.00 272.05,466.00 272.30,466.00 272.55,466.00 272.80,466.00 273.05,466.00 273.30,466.00 273.55,466.00 273.80,466.00 274.05,466.00 274.30,466.00 274.55,466.00 274.80,466.00 275.05,466.00 275.30,465.99 275.55,465.98 275.80,465.97 276.05,465.93 276.30,465.85 276.55,465.70 276.80,465.44 277.05,464.99 277.30,464.28 277.55,463.21 277.80,461.67 278.05,459.59 278.30,456.95 278.55,453.81 278.80,450.34 279.05,446.81 279.30,443.57 279.55,440.99 279.80,439.41 280.05,439.03 280.30,439.90 280.55,441.92 280.80,444.80 281.05,448.20 281.30,451.75 281.55,455.11 281.80,458.07 282.05,460.49 282.30,462.35 282.55,463.69 282.80,464.61 283.05,465.20 283.30,465.56 283.55,465.77 283.80,465.89 284.05,465.95 284.30,465.98 284.55,465.99 284.80,466.00 285.05,466.00 285.30,466.00 285.55,466.00 285.80,466.00 286.05,466.00 286.30,466.00 286.55,466.00 286.80,466.00 287.05,466.00 287.30,466.00 287.55,466.00 287.80,465.99 288.05,465.99 288.30,465.97 288.55,465.95 288.80,465.91 289.05,465.85 289.30,465.76 289.55,465.63 289.80,465.45 290.05,465.23 290.30,464.96 290.55,464.67 290.80,464.36 291.05,464.09 291.30,463.87 291.55,463.73 291.80,463.70 292.05,463.78 292.30,463.95 292.55,464.19 292.80,464.48 293.05,464.79 293.30,465.07 293.55,465.32 293.80,465.53 294.05,465.69 294.30,465.80 294.55,465.88 294.80,465.93" fill="none" stroke="#56a236" stroke-width="1.0" stroke-linejoin="round"/>
<polyline points="225.30,451.06 225.55,451.13 225.80,451.88 226.05,453.21 226.30,454.96 226.55,456.90 226.80,458.85 227.05,460.64 227.30,462.17 227.55,463.39 227.80,464.30 228.05,464.95 228.30,465.38 228.55,465.65 228.80,465.81 229.05,465.90 229.30,465.95 229.55,465.98 229.80,465.99 230.05,466.00 230.30,466.00 230.55,466.00 230.80,465.99 231.05,465.98 231.30,465.96 231.55,465.92 231.80,465.83 232.05,465.66 232.30,465.36 232.55,464.86 232.80,464.06 233.05,462.85 233.30,461.11 233.55,458.76 233.80,455.77 234.05,452.23 234.30,448.30 234.55,444.32 234.80,440.66 235.05,437.75 235.30,435.96 235.55,435.53 235.80,436.52 236.05,438.80 236.30,442.05 236.55,445.90 236.80,449.90 237.05,453.70 237.30,457.04 237.55,459.77 237.80,461.87 238.05,463.39 238.30,464.43 238.55,465.09 238.80,465.50 239.05,465.74 239.30,465.87 239.55,465.94 239.80,465.97 240.05,465.99 240.30,465.99 240.55,466.00 240.80,466.00 241.05,466.00 241.30,466.00 241.55,466.00 241.80,466.00 242.05,466.00 242.30,466.00 242.55,466.00 242.80,466.00 243.05,466.00 243.30,466.00 243.55,466.00 243.80,466.00 244.05,466.00 244.30,466.00 244.55,466.00 244.80,466.00 245.05,466.00 245.30,466.00 245.55,466.00 245.80,466.00 246.05,466.00 246.30,466.00 246.55,466.00 246.80,466.00 247.05,466.00 247.30,466.00 247.55,466.00 247.80,466.00 248.05,466.00 248.30,466.00 248.55,466.00 248.80,466.00 249.05,466.00 249.30,466.00 249.55,466.00 249.80,466.00 250.05,466.00 250.30,466.00 250.55,466.00 250.80,466.00 251.05,466.00 251.30,466.00 251.55,466.00 251.80,466.00 252.05,466.00 252.30,466.00 252.55,466.00 252.80,466.00 253.05,466.00 253.30,466.00 253.55,466.00 253.80,466.00 254.05,466.00 254.30,466.00 254.55,466.00 254.80,466.00 255.05,466.00 255.30,466.00 255.55,466.00 255.80,466.00 256.05,466.00 256.30,466.00 256.55,466.00 256.80,466.00 257.05,466.00 257.30,466.00 257.55,466.00 257.80,466.00 258.05,466.00 258.30,466.00 258.55,466.00 258.80,466.00 259.05,466.00 259.30,466.00 259.55,466.00 259.80,466.00 260.05,466.00 260.30,466.00 260.55,466.00 260.80,466.00 261.05,466.00 261.30,466.00 261.55,466.00 261.80,466.00 262.05,466.00 262.30,466.00 262.55,466.00 262.80,466.00 263.05,466.00 263.30,466.00 263.55,466.00 263.80,466.00 264.05,466.00 264.30,466.00 264.55,466.00 264.80,466.00 265.05,466.00 265.30,466.00 265.55,466.00 265.80,466.00 266.05,465.99 266.30,465.98 266.55,465.96 266.80,465.92 267.05,465.84 267.30,465.68 267.55,465.41 267.80,464.94 268.05,464.19 268.30,463.05 268.55,461.43 268.80,459.23 269.05,456.44 269.30,453.13 269.55,449.46 269.80,445.74 270.05,442.32 270.30,439.60 270.55,437.93 270.80,437.53 271.05,438.45 271.30,440.58 271.55,443.63 271.80,447.21 272.05,450.96 272.30,454.51 272.55,457.63 272.80,460.18 273.05,462.14 273.30,463.56 273.55,464.53 273.80,465.15 274.05,465.54 274.30,465.76 274.55,465.88 274.80,465.94 275.05,465.97 275.30,465.99 275.55,466.00 275.80,466.00 276.05,466.00 276.30,466.00 276.55,466.00 276.80,466.00 277.05,466.00 277.30,466.00 277.55,466.00 277.80,466.00 278.05,466.00 278.30,466.00 278.55,466.00 278.80,466.00 279.05,466.00 279.30,466.00 279.55,466.00 279.80,466.00 280.05,466.00 280.30,466.00 280.55,466.00 280.80,466.00 281.05,466.00 281.30,466.00 281.55,466.00 281.80,466.00 282.05,466.00 282.30,466.00 282.55,466.00 282.80,466.00 283.05,466.00 283.30,466.00 283.55,466.00 283.80,466.00 284.05,466.00 284.30,466.00 284.55,466.00 284.80,466.00 285.05,466.00 285.30,466.00 285.55,466.00 285.80,466.00 286.05,466.00 286.30,466.00 286.55,466.00 286.80,466.00 287.05,466.00 287.30,466.00 287.55,466.00 287.80,466.00 288.05,466.00 288.30,466.00 288.55,466.00 288.80,466.00 289.05,466.00 289.30,466.00 289.55,466.00 289.80,466.00 290.05,466.00 290.30,466.00 290.55,466.00 290.80,466.00 291.05,466.00 291.30,466.00 291.55,466.00 291.80,466.00 292.05,466.00 292.30,466.00 292.55,466.00 292.80,466.00 293.05,466.00 293.30,466.00 293.55,466.00 293.80,466.00 294.05,466.00 294.30,466.00 294.55,466.00 294.80,466.00" fill="none" stroke="#25428a" stroke-width="1.0" stroke-linejoin="round"/>
<polyline points="225.30,466.00 225.55,466.00 225.80,466.00 226.05,466.00 226.30,466.00 226.55,466.00 226.80,466.00 227.05,466.00 227.30,466.00 227.55,466.00 227.80,466.00 228.05,466.00 228.30,466.00 228.55,466.00 228.80,466.00 229.05,466.00 229.30,466.00 229.55,466.00 229.80,466.00 230.05,466.00 230.30,466.00 230.55,466.00 230.80,466.00 231.05,466.00 231.30,466.00 231.55,466.00 231.80,466.00 232.05,466.00 232.30,466.00 232.55,466.00 232.80,466.00 233.05,466.00 233.30,466.00 233.55,466.00 233.80,466.00 234.05,466.00 234.30,466.00 234.55,466.00 234.80,466.00 235.05,466.00 235.30,466.00 235.55,466.00 235.80,466.00 236.05,466.00 236.30,466.00 236.55,466.00 236.80,466.00 237.05,466.00 237.30,466.00 237.55,466.00 237.80,466.00 238.05,466.00 238.30,466.00 238.55,466.00 238.80,466.00 239.05,466.00 239.30,466.00 239.55,466.00 239.80,466.00 240.05,466.00 240.30,466.00 240.55,466.00 240.80,466.00 241.05,466.00 241.30,466.00 241.55,466.00 241.80,466.00 242.05,466.00 242.30,466.00 242.55,466.00 242.80,466.00 243.05,466.00 243.30,466.00 243.55,466.00 243.80,466.00 244.05,466.00 244.30,466.00 244.55,466.00 244.80,466.00 245.05,466.00 245.30,465.99 245.55,465.98 245.80,465.94 246.05,465.87 246.30,465.73 246.55,465.46 246.80,464.98 247.05,464.21 247.30,463.02 247.55,461.36 247.80,459.20 248.05,456.64 248.30,453.88 248.55,451.24 248.80,449.07 249.05,447.68 249.30,447.21 249.55,447.63 249.80,448.70 250.05,450.06 250.30,451.35 250.55,452.29 250.80,452.78 251.05,452.87 251.30,452.72 251.55,452.47 251.80,452.18 252.05,451.73 252.30,450.88 252.55,449.33 252.80,446.81 253.05,443.19 253.30,438.59 253.55,433.38 253.80,428.12 254.05,423.53 254.30,420.28 254.55,418.90 254.80,419.64 255.05,422.44 255.30,426.94 255.55,432.58 255.80,438.73 256.05,444.77 256.30,450.24 256.55,454.84 256.80,458.46 257.05,461.14 257.30,463.01 257.55,464.25 257.80,465.02 258.05,465.48 258.30,465.73 258.55,465.87 258.80,465.94 259.05,465.97 259.30,465.99 259.55,466.00 259.80,466.00 260.05,466.00 260.30,466.00 260.55,466.00 260.80,466.00 261.05,466.00 261.30,466.00 261.55,466.00 261.80,466.00 262.05,466.00 262.30,466.00 262.55,466.00 262.80,466.00 263.05,466.00 263.30,466.00 263.55,466.00 263.80,466.00 264.05,466.00 264.30,466.00 264.55,466.00 264.80,466.00 265.05,466.00 265.30,466.00 265.55,466.00 265.80,466.00 266.05,466.00 266.30,466.00 266.55,466.00 266.80,466.00 267.05,466.00 267.30,466.00 267.55,466.00 267.80,466.00 268.05,466.00 268.30,466.00 268.55,466.00 268.80,466.00 269.05,466.00 269.30,466.00 269.55,466.00 269.80,466.00 270.05,466.00 270.30,466.00 270.55,466.00 270.80,466.00 271.05,466.00 271.30,466.00 271.55,466.00 271.80,466.00 272.05,466.00 272.30,466.00 272.55,466.00 272.80,466.00 273.05,466.00 273.30,466.00 273.55,466.00 273.80,466.00 274.05,466.00 274.30,466.00 274.55,466.00 274.80,466.00 275.05,466.00 275.30,466.00 275.55,466.00 275.80,466.00 276.05,466.00 276.30,466.00 276.55,466.00 276.80,466.00 277.05,466.00 277.30,466.00 277.55,466.00 277.80,466.00 278.05,466.00 278.30,466.00 278.55,466.00 278.80,466.00 279.05,466.00 279.30,466.00 279.55,466.00 279.80,466.00 280.05,466.00 280.30,466.00 280.55,466.00 280.80,466.00 281.05,466.00 281.30,466.00 281.55,466.00 281.80,466.00 282.05,466.00 282.30,466.00 282.55,466.00 282.80,466.00 283.05,466.00 283.30,466.00 283.55,466.00 283.80,466.00 284.05,466.00 284.30,466.00 284.55,466.00 284.80,466.00 285.05,466.00 285.30,466.00 285.55,466.00 285.80,466.00 286.05,465.99 286.30,465.97 286.55,465.94 286.80,465.88 287.05,465.75 287.30,465.51 287.55,465.10 287.80,464.40 288.05,463.29 288.30,461.64 288.55,459.29 288.80,456.17 289.05,452.25 289.30,447.65 289.55,442.65 289.80,437.66 290.05,433.18 290.30,429.76 290.55,427.83 290.80,427.65 291.05,429.24 291.30,432.40 291.55,436.70 291.80,441.63 292.05,446.67 292.30,451.37 292.55,455.44 292.80,458.73 293.05,461.23 293.30,463.01 293.55,464.21 293.80,464.98 294.05,465.45 294.30,465.71 294.55,465.86 294.80,465.93" fill="none" stroke="#4e1f70" stroke-width="1.0" stroke-linejoin="round"/>
<polyline points="225.30,465.96 225.55,465.92 225.80,465.84 226.05,465.69 226.30,465.42 226.55,464.96 226.80,464.23 227.05,463.13 227.30,461.54 227.55,459.40 227.80,456.68 228.05,453.44 228.30,449.87 228.55,446.24 228.80,442.90 229.05,440.25 229.30,438.62 229.55,438.23 229.80,439.13 230.05,441.20 230.30,444.17 230.55,447.68 230.80,451.33 231.05,454.79 231.30,457.83 231.55,460.32 231.80,462.24 232.05,463.62 232.30,464.57 232.55,465.17 232.80,465.55 233.05,465.76 233.30,465.88 233.55,465.94 233.80,465.97 234.05,465.99 234.30,466.00 234.55,466.00 234.80,466.00 235.05,466.00 235.30,466.00 235.55,466.00 235.80,466.00 236.05,466.00 236.30,466.00 236.55,466.00 236.80,466.00 237.05,466.00 237.30,466.00 237.55,466.00 237.80,466.00 238.05,466.00 238.30,466.00 238.55,466.00 238.80,466.00 239.05,466.00 239.30,466.00 239.55,466.00 239.80,466.00 240.05,466.00 240.30,466.00 240.55,466.00 240.80,466.00 241.05,466.00 241.30,466.00 241.55,466.00 241.80,466.00 242.05,466.00 242.30,466.00 242.55,466.00 242.80,466.00 243.05,466.00 243.30,466.00 243.55,466.00 243.80,466.00 244.05,466.00 244.30,466.00 244.55,466.00 244.80,466.00 245.05,466.00 245.30,466.00 245.55,466.00 245.80,466.00 246.05,466.00 246.30,466.00 246.55,466.00 246.80,466.00 247.05,466.00 247.30,466.00 247.55,466.00 247.80,466.00 248.05,466.00 248.30,466.00 248.55,466.00 248.80,466.00 249.05,466.00 249.30,466.00 249.55,466.00 249.80,466.00 250.05,466.00 250.30,466.00 250.55,466.00 250.80,466.00 251.05,466.00 251.30,466.00 251.55,466.00 251.80,466.00 252.05,466.00 252.30,466.00 252.55,466.00 252.80,466.00 253.05,466.00 253.30,466.00 253.55,466.00 253.80,466.00 254.05,466.00 254.30,466.00 254.55,466.00 254.80,466.00 255.05,466.00 255.30,466.00 255.55,466.00 255.80,465.99 256.05,465.98 256.30,465.96 256.55,465.92 256.80,465.84 257.05,465.69 257.30,465.44 257.55,465.04 257.80,464.43 258.05,463.54 258.30,462.32 258.55,460.75 258.80,458.87 259.05,456.75 259.30,454.56 259.55,452.50 259.80,450.81 260.05,449.69 260.30,449.30 260.55,449.69 260.80,450.80 261.05,452.49 261.30,454.53 261.55,456.69 261.80,458.74 262.05,460.50 262.30,461.84 262.55,462.69 262.80,462.98 263.05,462.69 263.30,461.79 263.55,460.28 263.80,458.19 264.05,455.62 264.30,452.73 264.55,449.77 264.80,447.05 265.05,444.88 265.30,443.54 265.55,443.22 265.80,443.96 266.05,445.66 266.30,448.10 266.55,450.97 266.80,453.96 267.05,456.81 267.30,459.30 267.55,461.35 267.80,462.91 268.05,464.05 268.30,464.82 268.55,465.32 268.80,465.63 269.05,465.81 269.30,465.90 269.55,465.95 269.80,465.98 270.05,465.99 270.30,466.00 270.55,466.00 270.80,465.99 271.05,465.99 271.30,465.97 271.55,465.93 271.80,465.85 272.05,465.71 272.30,465.45 272.55,465.02 272.80,464.34 273.05,463.29 273.30,461.80 273.55,459.78 273.80,457.21 274.05,454.17 274.30,450.80 274.55,447.37 274.80,444.23 275.05,441.73 275.30,440.19 275.55,439.82 275.80,440.68 276.05,442.63 276.30,445.43 276.55,448.73 276.80,452.17 277.05,455.44 277.30,458.30 277.55,460.65 277.80,462.45 278.05,463.76 278.30,464.65 278.55,465.22 278.80,465.57 279.05,465.78 279.30,465.89 279.55,465.95 279.80,465.97 280.05,465.98 280.30,465.98 280.55,465.95 280.80,465.90 281.05,465.80 281.30,465.61 281.55,465.28 281.80,464.73 282.05,463.86 282.30,462.54 282.55,460.69 282.80,458.21 283.05,455.10 283.30,451.46 283.55,447.50 283.80,443.55 284.05,440.00 284.30,437.29 284.55,435.76 284.80,435.62 285.05,436.88 285.30,439.38 285.55,442.79 285.80,446.70 286.05,450.69 286.30,454.41 286.55,457.64 286.80,460.24 287.05,462.22 287.30,463.63 287.55,464.59 287.80,465.19 288.05,465.56 288.30,465.77 288.55,465.89 288.80,465.95 289.05,465.98 289.30,465.99 289.55,466.00 289.80,466.00 290.05,466.00 290.30,466.00 290.55,466.00 290.80,466.00 291.05,466.00 291.30,466.00 291.55,466.00 291.80,466.00 292.05,466.00 292.30,466.00 292.55,466.00 292.80,466.00 293.05,466.00 293.30,466.00 293.55,466.00 293.80,466.00 294.05,466.00 294.30,466.00 294.55,466.00 294.80,466.00" fill="none" stroke="#e48b12" stroke-width="1.0" stroke-linejoin="round"/>
<line x1="270.60" y1="420.30" x2="270.60" y2="431.70" stroke="#111" stroke-width="1.15" stroke-dasharray="1.1,1.0"/>
<path d="M270.60,434.50 L269.00,431.50 L272.20,431.50 Z" fill="#111"/>
<text x="50.30" y="492.78" font-size="6.9" text-anchor="middle" fill="#e8962e" stroke="none">T</text>
<text x="55.42" y="492.78" font-size="6.9" text-anchor="middle" fill="#3d5c9c" stroke="none">C</text>
<text x="60.54" y="492.78" font-size="6.9" text-anchor="middle" fill="#6cb04c" stroke="none">A</text>
<text x="65.66" y="492.78" font-size="6.9" text-anchor="middle" fill="#6cb04c" stroke="none">A</text>
<text x="70.78" y="492.78" font-size="6.9" text-anchor="middle" fill="#6b3a86" stroke="none">G</text>
<text x="75.90" y="492.78" font-size="6.9" text-anchor="middle" fill="#6b3a86" stroke="none">G</text>
<text x="81.02" y="492.78" font-size="6.9" text-anchor="middle" fill="#e8962e" stroke="none">T</text>
<text x="86.14" y="492.78" font-size="6.9" text-anchor="middle" fill="#e8962e" stroke="none">T</text>
<text x="90.70" y="488.98" font-size="6.6" text-anchor="middle" fill="#6b3a86" stroke="none">G</text>
<text x="90.70" y="494.98" font-size="6.6" text-anchor="middle" fill="#3d5c9c" stroke="none">C</text>
<text x="96.40" y="492.78" font-size="6.9" text-anchor="middle" fill="#e8962e" stroke="none">T</text>
<text x="101.52" y="492.78" font-size="6.9" text-anchor="middle" fill="#6cb04c" stroke="none">A</text>
<text x="106.64" y="492.78" font-size="6.9" text-anchor="middle" fill="#e8962e" stroke="none">T</text>
<text x="111.76" y="492.78" font-size="6.9" text-anchor="middle" fill="#6b3a86" stroke="none">G</text>
<polyline points="45.70,547.30 45.95,547.30 46.20,547.30 46.45,547.30 46.70,547.30 46.95,547.30 47.20,547.30 47.45,547.30 47.70,547.30 47.96,547.30 48.21,547.30 48.46,547.30 48.71,547.30 48.96,547.30 49.21,547.30 49.46,547.30 49.71,547.30 49.96,547.30 50.21,547.30 50.46,547.30 50.71,547.30 50.96,547.30 51.21,547.30 51.46,547.30 51.71,547.30 51.96,547.30 52.21,547.30 52.47,547.30 52.72,547.30 52.97,547.30 53.22,547.30 53.47,547.30 53.72,547.30 53.97,547.30 54.22,547.30 54.47,547.30 54.72,547.30 54.97,547.30 55.22,547.30 55.47,547.29 55.72,547.27 55.97,547.22 56.22,547.10 56.47,546.86 56.72,546.41 56.98,545.62 57.23,544.38 57.48,542.57 57.73,540.23 57.98,537.51 58.23,534.73 58.48,532.31 58.73,530.66 58.98,530.00 59.23,530.27 59.48,531.14 59.73,532.15 59.98,532.84 60.23,532.99 60.48,532.64 60.73,532.09 60.98,531.67 61.23,531.61 61.49,531.92 61.74,532.39 61.99,532.69 62.24,532.62 62.49,532.17 62.74,531.58 62.99,531.27 63.24,531.59 63.49,532.74 63.74,534.67 63.99,537.09 64.24,539.64 64.49,541.97 64.74,543.87 64.99,545.25 65.24,546.17 65.49,546.72 65.74,547.03 66.00,547.18 66.25,547.25 66.50,547.28 66.75,547.29 67.00,547.30 67.25,547.30 67.50,547.30 67.75,547.30 68.00,547.30 68.25,547.30 68.50,547.30 68.75,547.30 69.00,547.30 69.25,547.30 69.50,547.30 69.75,547.30 70.00,547.30 70.25,547.30 70.51,547.30 70.76,547.30 71.01,547.30 71.26,547.30 71.51,547.30 71.76,547.30 72.01,547.30 72.26,547.30 72.51,547.30 72.76,547.30 73.01,547.30 73.26,547.30 73.51,547.30 73.76,547.30 74.01,547.30 74.26,547.30 74.51,547.30 74.76,547.30 75.02,547.30 75.27,547.30 75.52,547.30 75.77,547.30 76.02,547.30 76.27,547.30 76.52,547.30 76.77,547.30 77.02,547.30 77.27,547.30 77.52,547.30 77.77,547.30 78.02,547.30 78.27,547.30 78.52,547.30 78.77,547.30 79.02,547.30 79.27,547.30 79.53,547.30 79.78,547.30 80.03,547.30 80.28,547.30 80.53,547.30 80.78,547.30 81.03,547.30 81.28,547.30 81.53,547.30 81.78,547.30 82.03,547.30 82.28,547.30 82.53,547.30 82.78,547.30 83.03,547.30 83.28,547.30 83.53,547.30 83.78,547.30 84.04,547.30 84.29,547.30 84.54,547.30 84.79,547.30 85.04,547.30 85.29,547.30 85.54,547.30 85.79,547.30 86.04,547.30 86.29,547.30 86.54,547.30 86.79,547.30 87.04,547.30 87.29,547.30 87.54,547.30 87.79,547.30 88.04,547.30 88.29,547.30 88.55,547.30 88.80,547.30 89.05,547.30 89.30,547.30 89.55,547.30 89.80,547.30 90.05,547.30 90.30,547.30 90.55,547.30 90.80,547.30 91.05,547.30 91.30,547.30 91.55,547.30 91.80,547.30 92.05,547.30 92.30,547.30 92.55,547.30 92.80,547.30 93.06,547.30 93.31,547.30 93.56,547.30 93.81,547.30 94.06,547.30 94.31,547.30 94.56,547.30 94.81,547.30 95.06,547.30 95.31,547.29 95.56,547.28 95.81,547.26 96.06,547.21 96.31,547.12 96.56,546.95 96.81,546.65 97.06,546.16 97.31,545.39 97.57,544.26 97.82,542.67 98.07,540.59 98.32,538.03 98.57,535.08 98.82,531.95 99.07,528.89 99.32,526.26 99.57,524.36 99.82,523.46 100.07,523.66 100.32,524.95 100.57,527.15 100.82,529.98 101.07,533.10 101.32,536.19 101.57,539.02 101.82,541.41 102.08,543.31 102.33,544.72 102.58,545.71 102.83,546.36 103.08,546.77 103.33,547.02 103.58,547.16 103.83,547.23 104.08,547.27 104.33,547.29 104.58,547.29 104.83,547.30 105.08,547.30 105.33,547.30 105.58,547.30 105.83,547.30 106.08,547.30 106.33,547.30 106.59,547.30 106.84,547.30 107.09,547.30 107.34,547.30 107.59,547.30 107.84,547.30 108.09,547.30 108.34,547.30 108.59,547.29 108.84,547.29 109.09,547.27 109.34,547.25 109.59,547.21 109.84,547.14 110.09,547.04 110.34,546.90 110.59,546.72 110.84,546.48 111.10,546.21 111.35,545.91 111.60,545.61 111.85,545.34 112.10,545.14 112.35,545.02 112.60,545.01 112.85,545.10 113.10,545.29" fill="none" stroke="#56a236" stroke-width="1.0" stroke-linejoin="round"/>
<polyline points="45.70,526.08 45.95,526.18 46.20,527.26 46.45,529.16 46.70,531.64 46.95,534.41 47.20,537.18 47.45,539.73 47.70,541.89 47.96,543.62 48.21,544.91 48.46,545.82 48.71,546.43 48.96,546.81 49.21,547.04 49.46,547.16 49.71,547.23 49.96,547.27 50.21,547.29 50.46,547.29 50.71,547.30 50.96,547.29 51.21,547.28 51.46,547.26 51.71,547.22 51.96,547.13 52.21,546.97 52.47,546.68 52.72,546.18 52.97,545.38 53.22,544.15 53.47,542.38 53.72,539.96 53.97,536.87 54.22,533.16 54.47,529.02 54.72,524.76 54.97,520.80 55.22,517.59 55.47,515.53 55.72,514.91 55.97,515.80 56.22,518.09 56.47,521.47 56.72,525.51 56.98,529.78 57.23,533.86 57.48,537.47 57.73,540.44 57.98,542.74 58.23,544.41 58.48,545.55 58.73,546.29 58.98,546.74 59.23,547.01 59.48,547.15 59.73,547.23 59.98,547.27 60.23,547.29 60.48,547.29 60.73,547.30 60.98,547.30 61.23,547.30 61.49,547.30 61.74,547.30 61.99,547.30 62.24,547.30 62.49,547.30 62.74,547.30 62.99,547.30 63.24,547.30 63.49,547.30 63.74,547.30 63.99,547.30 64.24,547.30 64.49,547.30 64.74,547.30 64.99,547.30 65.24,547.30 65.49,547.30 65.74,547.30 66.00,547.30 66.25,547.30 66.50,547.30 66.75,547.30 67.00,547.30 67.25,547.30 67.50,547.30 67.75,547.30 68.00,547.30 68.25,547.30 68.50,547.30 68.75,547.30 69.00,547.30 69.25,547.30 69.50,547.30 69.75,547.30 70.00,547.30 70.25,547.30 70.51,547.30 70.76,547.30 71.01,547.30 71.26,547.30 71.51,547.30 71.76,547.30 72.01,547.30 72.26,547.30 72.51,547.30 72.76,547.30 73.01,547.30 73.26,547.30 73.51,547.30 73.76,547.30 74.01,547.30 74.26,547.30 74.51,547.30 74.76,547.30 75.02,547.30 75.27,547.30 75.52,547.30 75.77,547.30 76.02,547.30 76.27,547.30 76.52,547.30 76.77,547.30 77.02,547.30 77.27,547.30 77.52,547.30 77.77,547.30 78.02,547.30 78.27,547.30 78.52,547.30 78.77,547.30 79.02,547.30 79.27,547.30 79.53,547.30 79.78,547.30 80.03,547.30 80.28,547.30 80.53,547.30 80.78,547.30 81.03,547.30 81.28,547.30 81.53,547.30 81.78,547.30 82.03,547.30 82.28,547.30 82.53,547.30 82.78,547.30 83.03,547.30 83.28,547.30 83.53,547.30 83.78,547.30 84.04,547.30 84.29,547.30 84.54,547.30 84.79,547.30 85.04,547.30 85.29,547.30 85.54,547.30 85.79,547.30 86.04,547.30 86.29,547.29 86.54,547.29 86.79,547.27 87.04,547.24 87.29,547.18 87.54,547.08 87.79,546.90 88.04,546.63 88.29,546.21 88.55,545.62 88.80,544.84 89.05,543.85 89.30,542.69 89.55,541.43 89.80,540.17 90.05,539.04 90.30,538.17 90.55,537.68 90.80,537.64 91.05,538.04 91.30,538.84 91.55,539.93 91.80,541.17 92.05,542.45 92.30,543.63 92.55,544.66 92.80,545.48 93.06,546.11 93.31,546.56 93.56,546.86 93.81,547.05 94.06,547.16 94.31,547.23 94.56,547.27 94.81,547.28 95.06,547.29 95.31,547.30 95.56,547.30 95.81,547.30 96.06,547.30 96.31,547.30 96.56,547.30 96.81,547.30 97.06,547.30 97.31,547.30 97.57,547.30 97.82,547.30 98.07,547.30 98.32,547.30 98.57,547.30 98.82,547.30 99.07,547.30 99.32,547.30 99.57,547.30 99.82,547.30 100.07,547.30 100.32,547.30 100.57,547.30 100.82,547.30 101.07,547.30 101.32,547.30 101.57,547.30 101.82,547.30 102.08,547.30 102.33,547.30 102.58,547.30 102.83,547.30 103.08,547.30 103.33,547.30 103.58,547.30 103.83,547.30 104.08,547.30 104.33,547.30 104.58,547.30 104.83,547.30 105.08,547.30 105.33,547.30 105.58,547.30 105.83,547.30 106.08,547.30 106.33,547.30 106.59,547.30 106.84,547.30 107.09,547.30 107.34,547.30 107.59,547.30 107.84,547.30 108.09,547.30 108.34,547.30 108.59,547.30 108.84,547.30 109.09,547.30 109.34,547.30 109.59,547.30 109.84,547.30 110.09,547.30 110.34,547.30 110.59,547.30 110.84,547.30 111.10,547.30 111.35,547.30 111.60,547.30 111.85,547.30 112.10,547.30 112.35,547.30 112.60,547.30 112.85,547.30 113.10,547.30" fill="none" stroke="#25428a" stroke-width="1.0" stroke-linejoin="round"/>
<polyline points="45.70,547.30 45.95,547.30 46.20,547.30 46.45,547.30 46.70,547.30 46.95,547.30 47.20,547.30 47.45,547.30 47.70,547.30 47.96,547.30 48.21,547.30 48.46,547.30 48.71,547.30 48.96,547.30 49.21,547.30 49.46,547.30 49.71,547.30 49.96,547.30 50.21,547.30 50.46,547.30 50.71,547.30 50.96,547.30 51.21,547.30 51.46,547.30 51.71,547.30 51.96,547.30 52.21,547.30 52.47,547.30 52.72,547.30 52.97,547.30 53.22,547.30 53.47,547.30 53.72,547.30 53.97,547.30 54.22,547.30 54.47,547.30 54.72,547.30 54.97,547.30 55.22,547.30 55.47,547.30 55.72,547.30 55.97,547.30 56.22,547.30 56.47,547.30 56.72,547.30 56.98,547.30 57.23,547.30 57.48,547.30 57.73,547.30 57.98,547.30 58.23,547.30 58.48,547.30 58.73,547.30 58.98,547.30 59.23,547.30 59.48,547.30 59.73,547.30 59.98,547.30 60.23,547.30 60.48,547.30 60.73,547.30 60.98,547.30 61.23,547.30 61.49,547.30 61.74,547.30 61.99,547.30 62.24,547.30 62.49,547.30 62.74,547.30 62.99,547.30 63.24,547.30 63.49,547.30 63.74,547.30 63.99,547.30 64.24,547.30 64.49,547.30 64.74,547.30 64.99,547.30 65.24,547.30 65.49,547.30 65.74,547.29 66.00,547.27 66.25,547.24 66.50,547.16 66.75,547.00 67.00,546.71 67.25,546.21 67.50,545.40 67.75,544.18 68.00,542.49 68.25,540.34 68.50,537.82 68.75,535.18 69.00,532.73 69.25,530.80 69.50,529.67 69.75,529.46 70.00,530.09 70.25,531.31 70.51,532.76 70.76,534.12 71.01,535.14 71.26,535.75 71.51,536.03 71.76,536.13 72.01,536.19 72.26,536.23 72.51,536.15 72.76,535.69 73.01,534.51 73.26,532.30 73.51,528.83 73.76,524.10 74.01,518.33 74.26,512.00 74.51,505.81 74.76,500.53 75.02,496.87 75.27,495.38 75.52,496.29 75.77,499.50 76.02,504.58 76.27,510.88 76.52,517.70 76.77,524.35 77.02,530.33 77.27,535.34 77.52,539.26 77.77,542.14 78.02,544.15 78.27,545.46 78.52,546.28 78.77,546.76 79.02,547.03 79.27,547.17 79.53,547.24 79.78,547.27 80.03,547.29 80.28,547.30 80.53,547.30 80.78,547.30 81.03,547.30 81.28,547.30 81.53,547.30 81.78,547.30 82.03,547.30 82.28,547.30 82.53,547.30 82.78,547.30 83.03,547.30 83.28,547.30 83.53,547.30 83.78,547.30 84.04,547.30 84.29,547.30 84.54,547.30 84.79,547.30 85.04,547.30 85.29,547.30 85.54,547.30 85.79,547.30 86.04,547.30 86.29,547.30 86.54,547.30 86.79,547.30 87.04,547.29 87.29,547.28 87.54,547.26 87.79,547.22 88.04,547.14 88.29,547.00 88.55,546.74 88.80,546.30 89.05,545.60 89.30,544.56 89.55,543.08 89.80,541.11 90.05,538.63 90.30,535.73 90.55,532.56 90.80,529.41 91.05,526.58 91.30,524.42 91.55,523.20 91.80,523.10 92.05,524.12 92.30,526.13 92.55,528.86 92.80,531.98 93.06,535.17 93.31,538.13 93.56,540.70 93.81,542.76 94.06,544.33 94.31,545.44 94.56,546.19 94.81,546.67 95.06,546.96 95.31,547.12 95.56,547.21 95.81,547.26 96.06,547.28 96.31,547.29 96.56,547.30 96.81,547.30 97.06,547.30 97.31,547.30 97.57,547.30 97.82,547.30 98.07,547.30 98.32,547.30 98.57,547.30 98.82,547.30 99.07,547.30 99.32,547.30 99.57,547.30 99.82,547.30 100.07,547.30 100.32,547.30 100.57,547.30 100.82,547.30 101.07,547.30 101.32,547.30 101.57,547.30 101.82,547.30 102.08,547.30 102.33,547.30 102.58,547.30 102.83,547.30 103.08,547.30 103.33,547.30 103.58,547.30 103.83,547.30 104.08,547.30 104.33,547.30 104.58,547.30 104.83,547.30 105.08,547.30 105.33,547.29 105.58,547.28 105.83,547.26 106.08,547.21 106.33,547.12 106.59,546.94 106.84,546.62 107.09,546.07 107.34,545.17 107.59,543.80 107.84,541.79 108.09,539.04 108.34,535.50 108.59,531.21 108.84,526.38 109.09,521.37 109.34,516.65 109.59,512.74 109.84,510.14 110.09,509.20 110.34,510.05 110.59,512.56 110.84,516.41 111.10,521.11 111.35,526.12 111.60,530.96 111.85,535.29 112.10,538.87 112.35,541.66 112.60,543.71 112.85,545.11 113.10,546.03" fill="none" stroke="#4e1f70" stroke-width="1.0" stroke-linejoin="round"/>
<polyline points="45.70,547.27 45.95,547.24 46.20,547.17 46.45,547.05 46.70,546.82 46.95,546.42 47.20,545.76 47.45,544.75 47.70,543.26 47.96,541.21 48.21,538.54 48.46,535.28 48.71,531.57 48.96,527.68 49.21,523.95 49.46,520.81 49.71,518.63 49.96,517.72 50.21,518.19 50.46,519.98 50.71,522.85 50.96,526.43 51.21,530.32 51.46,534.12 51.71,537.54 51.96,540.41 52.21,542.66 52.47,544.32 52.72,545.48 52.97,546.24 53.22,546.71 53.47,546.99 53.72,547.14 53.97,547.22 54.22,547.26 54.47,547.28 54.72,547.29 54.97,547.30 55.22,547.30 55.47,547.30 55.72,547.30 55.97,547.30 56.22,547.30 56.47,547.30 56.72,547.30 56.98,547.30 57.23,547.30 57.48,547.30 57.73,547.30 57.98,547.30 58.23,547.30 58.48,547.30 58.73,547.30 58.98,547.30 59.23,547.30 59.48,547.30 59.73,547.30 59.98,547.30 60.23,547.30 60.48,547.30 60.73,547.30 60.98,547.30 61.23,547.30 61.49,547.30 61.74,547.30 61.99,547.30 62.24,547.30 62.49,547.30 62.74,547.30 62.99,547.30 63.24,547.30 63.49,547.30 63.74,547.30 63.99,547.30 64.24,547.30 64.49,547.30 64.74,547.30 64.99,547.30 65.24,547.30 65.49,547.30 65.74,547.30 66.00,547.30 66.25,547.30 66.50,547.30 66.75,547.30 67.00,547.30 67.25,547.30 67.50,547.30 67.75,547.30 68.00,547.30 68.25,547.30 68.50,547.30 68.75,547.30 69.00,547.30 69.25,547.30 69.50,547.30 69.75,547.30 70.00,547.30 70.25,547.30 70.51,547.30 70.76,547.30 71.01,547.30 71.26,547.30 71.51,547.30 71.76,547.30 72.01,547.30 72.26,547.30 72.51,547.30 72.76,547.30 73.01,547.30 73.26,547.30 73.51,547.30 73.76,547.30 74.01,547.30 74.26,547.30 74.51,547.30 74.76,547.30 75.02,547.30 75.27,547.30 75.52,547.30 75.77,547.29 76.02,547.28 76.27,547.25 76.52,547.19 76.77,547.08 77.02,546.88 77.27,546.54 77.52,545.99 77.77,545.13 78.02,543.88 78.27,542.16 78.52,539.94 78.77,537.23 79.02,534.17 79.27,530.97 79.53,527.93 79.78,525.40 80.03,523.68 80.28,523.00 80.53,523.47 80.78,525.00 81.03,527.39 81.28,530.32 81.53,533.43 81.78,536.39 82.03,538.91 82.28,540.78 82.53,541.85 82.78,542.05 83.03,541.32 83.28,539.65 83.53,537.08 83.78,533.75 84.04,529.86 84.29,525.75 84.54,521.84 84.79,518.59 85.04,516.41 85.29,515.60 85.54,516.27 85.79,518.34 86.04,521.52 86.29,525.42 86.54,529.59 86.79,533.63 87.04,537.24 87.29,540.23 87.54,542.57 87.79,544.28 88.04,545.46 88.29,546.23 88.55,546.71 88.80,546.99 89.05,547.14 89.30,547.22 89.55,547.27 89.80,547.28 90.05,547.29 90.30,547.30 90.55,547.30 90.80,547.29 91.05,547.29 91.30,547.27 91.55,547.24 91.80,547.17 92.05,547.04 92.30,546.81 92.55,546.42 92.80,545.80 93.06,544.86 93.31,543.51 93.56,541.69 93.81,539.38 94.06,536.64 94.31,533.62 94.56,530.56 94.81,527.76 95.06,525.55 95.31,524.22 95.56,523.93 95.81,524.74 96.06,526.53 96.31,529.07 96.56,532.04 96.81,535.12 97.06,538.02 97.31,540.56 97.57,542.64 97.82,544.22 98.07,545.36 98.32,546.13 98.57,546.63 98.82,546.93 99.07,547.10 99.32,547.19 99.57,547.21 99.82,547.18 100.07,547.10 100.32,546.92 100.57,546.60 100.82,546.07 101.07,545.23 101.32,543.98 101.57,542.21 101.82,539.86 102.08,536.94 102.33,533.54 102.58,529.86 102.83,526.23 103.08,523.03 103.33,520.63 103.58,519.36 103.83,519.38 104.08,520.69 104.33,523.12 104.58,526.35 104.83,529.98 105.08,533.65 105.33,537.04 105.58,539.95 105.83,542.28 106.08,544.02 106.33,545.26 106.59,546.09 106.84,546.62 107.09,546.93 107.34,547.11 107.59,547.21 107.84,547.26 108.09,547.28 108.34,547.29 108.59,547.30 108.84,547.30 109.09,547.30 109.34,547.30 109.59,547.30 109.84,547.30 110.09,547.30 110.34,547.30 110.59,547.30 110.84,547.30 111.10,547.30 111.35,547.30 111.60,547.30 111.85,547.30 112.10,547.30 112.35,547.30 112.60,547.30 112.85,547.30 113.10,547.30" fill="none" stroke="#e48b12" stroke-width="1.0" stroke-linejoin="round"/>
<line x1="90.90" y1="504.20" x2="90.90" y2="515.60" stroke="#111" stroke-width="1.15" stroke-dasharray="1.1,1.0"/>
<path d="M90.90,518.40 L89.30,515.40 L92.50,515.40 Z" fill="#111"/>
<line x1="118.00" y1="547.60" x2="135.00" y2="547.60" stroke="#1a1a1a" stroke-width="1.0" stroke-dasharray="1.5,1.3"/>
<text x="141.60" y="492.68" font-size="6.9" text-anchor="middle" fill="#3d5c9c" stroke="none">C</text>
<text x="146.80" y="492.68" font-size="6.9" text-anchor="middle" fill="#6cb04c" stroke="none">A</text>
<text x="152.00" y="492.68" font-size="6.9" text-anchor="middle" fill="#e8962e" stroke="none">T</text>
<text x="157.20" y="492.68" font-size="6.9" text-anchor="middle" fill="#6cb04c" stroke="none">A</text>
<text x="162.40" y="492.68" font-size="6.9" text-anchor="middle" fill="#e8962e" stroke="none">T</text>
<text x="168.60" y="489.57" font-size="6.3" text-anchor="middle" fill="#6b3a86" stroke="none">G</text>
<text x="174.00" y="489.57" font-size="6.3" text-anchor="middle" fill="#3d5c9c" stroke="none">C</text>
<text x="179.40" y="489.57" font-size="6.3" text-anchor="middle" fill="#3d5c9c" stroke="none">C</text>
<text x="184.80" y="489.57" font-size="6.3" text-anchor="middle" fill="#6cb04c" stroke="none">A</text>
<text x="190.20" y="489.57" font-size="6.3" text-anchor="middle" fill="#6b3a86" stroke="none">G</text>
<text x="195.60" y="489.57" font-size="6.3" text-anchor="middle" fill="#3d5c9c" stroke="none">C</text>
<text x="201.00" y="489.57" font-size="6.3" text-anchor="middle" fill="#6cb04c" stroke="none">A</text>
<text x="206.40" y="489.57" font-size="6.3" text-anchor="middle" fill="#e8962e" stroke="none">T</text>
<text x="168.60" y="495.47" font-size="6.3" text-anchor="middle" fill="#3d5c9c" stroke="none">C</text>
<text x="174.00" y="495.47" font-size="6.3" text-anchor="middle" fill="#6b3a86" stroke="none">G</text>
<text x="179.40" y="495.47" font-size="6.3" text-anchor="middle" fill="#6cb04c" stroke="none">A</text>
<text x="184.80" y="495.47" font-size="6.3" text-anchor="middle" fill="#6b3a86" stroke="none">G</text>
<text x="190.20" y="495.47" font-size="6.3" text-anchor="middle" fill="#6b3a86" stroke="none">G</text>
<text x="195.60" y="495.47" font-size="6.3" text-anchor="middle" fill="#6cb04c" stroke="none">A</text>
<text x="201.00" y="495.47" font-size="6.3" text-anchor="middle" fill="#6cb04c" stroke="none">A</text>
<text x="206.40" y="495.47" font-size="6.3" text-anchor="middle" fill="#6b3a86" stroke="none">G</text>
<polyline points="137.50,547.40 137.75,547.40 138.00,547.40 138.25,547.40 138.50,547.40 138.75,547.40 139.00,547.40 139.25,547.40 139.50,547.40 139.75,547.40 140.00,547.40 140.25,547.40 140.50,547.40 140.75,547.39 141.00,547.38 141.25,547.36 141.50,547.31 141.75,547.21 142.00,547.05 142.25,546.75 142.50,546.28 142.75,545.54 143.00,544.46 143.25,542.96 143.50,541.02 143.75,538.64 144.00,535.94 144.26,533.11 144.51,530.39 144.76,528.09 145.01,526.50 145.26,525.82 145.51,526.14 145.76,527.43 146.01,529.51 146.26,532.12 146.51,534.94 146.76,537.72 147.01,540.22 147.26,542.32 147.51,543.98 147.76,545.20 148.01,546.05 148.26,546.61 148.51,546.96 148.76,547.17 149.01,547.28 149.26,547.34 149.51,547.37 149.76,547.39 150.01,547.39 150.26,547.40 150.51,547.40 150.76,547.40 151.01,547.40 151.26,547.39 151.51,547.37 151.76,547.34 152.01,547.27 152.26,547.13 152.51,546.88 152.76,546.43 153.01,545.68 153.26,544.51 153.51,542.75 153.76,540.26 154.01,536.95 154.26,532.81 154.51,527.98 154.76,522.75 155.01,517.54 155.26,512.91 155.51,509.41 155.76,507.48 156.01,507.40 156.26,509.16 156.51,512.54 156.76,517.09 157.01,522.26 157.26,527.52 157.51,532.40 157.77,536.61 158.02,539.99 158.27,542.55 158.52,544.37 158.77,545.60 159.02,546.38 159.27,546.85 159.52,547.11 159.77,547.26 160.02,547.33 160.27,547.37 160.52,547.39 160.77,547.39 161.02,547.40 161.27,547.40 161.52,547.40 161.77,547.40 162.02,547.40 162.27,547.40 162.52,547.40 162.77,547.40 163.02,547.40 163.27,547.40 163.52,547.40 163.77,547.40 164.02,547.40 164.27,547.40 164.52,547.40 164.77,547.40 165.02,547.40 165.27,547.40 165.52,547.40 165.77,547.40 166.02,547.40 166.27,547.40 166.52,547.40 166.77,547.40 167.02,547.40 167.27,547.40 167.52,547.40 167.77,547.40 168.02,547.40 168.27,547.40 168.52,547.40 168.77,547.40 169.02,547.40 169.27,547.40 169.52,547.40 169.77,547.40 170.02,547.40 170.27,547.40 170.52,547.40 170.77,547.40 171.02,547.40 171.28,547.40 171.53,547.40 171.78,547.40 172.03,547.40 172.28,547.40 172.53,547.40 172.78,547.40 173.03,547.40 173.28,547.40 173.53,547.40 173.78,547.40 174.03,547.40 174.28,547.40 174.53,547.40 174.78,547.40 175.03,547.40 175.28,547.40 175.53,547.40 175.78,547.40 176.03,547.40 176.28,547.40 176.53,547.40 176.78,547.40 177.03,547.40 177.28,547.40 177.53,547.40 177.78,547.40 178.03,547.40 178.28,547.40 178.53,547.40 178.78,547.40 179.03,547.39 179.28,547.39 179.53,547.37 179.78,547.34 180.03,547.28 180.28,547.16 180.53,546.96 180.78,546.64 181.03,546.13 181.28,545.39 181.53,544.36 181.78,543.01 182.03,541.35 182.28,539.46 182.53,537.45 182.78,535.51 183.03,533.85 183.28,532.67 183.53,532.13 183.78,532.30 184.03,533.15 184.28,534.59 184.53,536.41 184.79,538.40 185.04,540.38 185.29,542.17 185.54,543.69 185.79,544.89 186.04,545.78 186.29,546.40 186.54,546.81 186.79,547.07 187.04,547.22 187.29,547.31 187.54,547.36 187.79,547.38 188.04,547.39 188.29,547.40 188.54,547.40 188.79,547.40 189.04,547.40 189.29,547.40 189.54,547.40 189.79,547.40 190.04,547.40 190.29,547.40 190.54,547.40 190.79,547.40 191.04,547.40 191.29,547.40 191.54,547.39 191.79,547.38 192.04,547.35 192.29,547.29 192.54,547.18 192.79,546.98 193.04,546.63 193.29,546.07 193.54,545.19 193.79,543.89 194.04,542.10 194.29,539.76 194.54,536.89 194.79,533.62 195.04,530.16 195.29,526.84 195.54,524.01 195.79,522.02 196.04,521.13 196.29,521.46 196.54,522.97 196.79,525.45 197.04,528.55 197.29,531.91 197.54,535.16 197.79,537.97 198.04,540.12 198.30,541.45 198.55,541.90 198.80,541.43 199.05,540.06 199.30,537.87 199.55,535.01 199.80,531.70 200.05,528.25 200.30,525.05 200.55,522.49 200.80,520.91 201.05,520.52 201.30,521.38 201.55,523.38 201.80,526.25 202.05,529.64 202.30,533.17 202.55,536.53 202.80,539.48 203.05,541.90 203.30,543.75 203.55,545.09 203.80,546.01 204.05,546.60 204.30,546.96 204.55,547.17 204.80,547.29" fill="none" stroke="#56a236" stroke-width="1.0" stroke-linejoin="round"/>
<polyline points="137.50,546.61 137.75,545.98 138.00,544.98 138.25,543.46 138.50,541.28 138.75,538.34 139.00,534.61 139.25,530.17 139.50,525.27 139.75,520.28 140.00,515.71 140.25,512.08 140.50,509.86 140.75,509.34 141.00,510.60 141.25,513.46 141.50,517.54 141.75,522.35 142.00,527.35 142.25,532.10 142.50,536.26 142.75,539.67 143.00,542.28 143.25,544.17 143.50,545.45 143.75,546.28 144.00,546.79 144.26,547.08 144.51,547.24 144.76,547.32 145.01,547.37 145.26,547.39 145.51,547.39 145.76,547.40 146.01,547.40 146.26,547.40 146.51,547.40 146.76,547.40 147.01,547.40 147.26,547.40 147.51,547.40 147.76,547.40 148.01,547.40 148.26,547.40 148.51,547.40 148.76,547.40 149.01,547.40 149.26,547.40 149.51,547.40 149.76,547.40 150.01,547.40 150.26,547.40 150.51,547.40 150.76,547.40 151.01,547.40 151.26,547.40 151.51,547.40 151.76,547.40 152.01,547.40 152.26,547.40 152.51,547.40 152.76,547.40 153.01,547.40 153.26,547.40 153.51,547.40 153.76,547.40 154.01,547.40 154.26,547.40 154.51,547.40 154.76,547.40 155.01,547.40 155.26,547.40 155.51,547.40 155.76,547.40 156.01,547.40 156.26,547.40 156.51,547.40 156.76,547.40 157.01,547.40 157.26,547.40 157.51,547.40 157.77,547.40 158.02,547.40 158.27,547.40 158.52,547.40 158.77,547.40 159.02,547.40 159.27,547.40 159.52,547.40 159.77,547.40 160.02,547.40 160.27,547.40 160.52,547.40 160.77,547.40 161.02,547.40 161.27,547.40 161.52,547.40 161.77,547.40 162.02,547.40 162.27,547.40 162.52,547.40 162.77,547.40 163.02,547.39 163.27,547.38 163.52,547.36 163.77,547.32 164.02,547.24 164.27,547.10 164.52,546.86 164.77,546.48 165.02,545.89 165.27,545.05 165.52,543.90 165.77,542.43 166.02,540.66 166.27,538.70 166.52,536.68 166.77,534.80 167.02,533.27 167.27,532.30 167.52,532.00 167.77,532.42 168.02,533.51 168.27,535.10 168.52,537.01 168.77,539.01 169.02,540.90 169.27,542.52 169.52,543.76 169.77,544.55 170.02,544.86 170.27,544.66 170.52,543.92 170.77,542.64 171.02,540.82 171.28,538.53 171.53,535.90 171.78,533.13 172.03,530.49 172.28,528.29 172.53,526.79 172.78,526.20 173.03,526.61 173.28,527.94 173.53,530.04 173.78,532.62 174.03,535.40 174.28,538.10 174.53,540.52 174.78,542.52 175.03,544.06 175.28,545.14 175.53,545.78 175.78,546.03 176.03,545.90 176.28,545.38 176.53,544.46 176.78,543.10 177.03,541.29 177.28,539.09 177.53,536.58 177.78,533.97 178.03,531.49 178.28,529.43 178.53,528.04 178.78,527.50 179.03,527.90 179.28,529.17 179.53,531.14 179.78,533.57 180.03,536.19 180.28,538.72 180.53,541.00 180.78,542.89 181.03,544.38 181.28,545.46 181.53,546.22 181.78,546.71 182.03,547.02 182.28,547.20 182.53,547.30 182.78,547.35 183.03,547.38 183.28,547.39 183.53,547.40 183.78,547.40 184.03,547.40 184.28,547.40 184.53,547.40 184.79,547.40 185.04,547.40 185.29,547.40 185.54,547.40 185.79,547.40 186.04,547.40 186.29,547.40 186.54,547.40 186.79,547.40 187.04,547.40 187.29,547.40 187.54,547.40 187.79,547.40 188.04,547.40 188.29,547.40 188.54,547.40 188.79,547.40 189.04,547.40 189.29,547.40 189.54,547.40 189.79,547.40 190.04,547.39 190.29,547.38 190.54,547.36 190.79,547.31 191.04,547.22 191.29,547.06 191.54,546.77 191.79,546.31 192.04,545.59 192.29,544.52 192.54,543.05 192.79,541.13 193.04,538.78 193.29,536.09 193.54,533.26 193.79,530.53 194.04,528.20 194.29,526.56 194.54,525.83 194.79,526.10 195.04,527.34 195.29,529.39 195.54,531.97 195.79,534.79 196.04,537.58 196.29,540.10 196.54,542.22 196.79,543.90 197.04,545.14 197.29,546.01 197.54,546.59 197.79,546.94 198.04,547.16 198.30,547.28 198.55,547.34 198.80,547.37 199.05,547.39 199.30,547.39 199.55,547.40 199.80,547.40 200.05,547.40 200.30,547.40 200.55,547.40 200.80,547.40 201.05,547.40 201.30,547.40 201.55,547.40 201.80,547.40 202.05,547.40 202.30,547.40 202.55,547.40 202.80,547.40 203.05,547.40 203.30,547.40 203.55,547.40 203.80,547.40 204.05,547.40 204.30,547.40 204.55,547.40 204.80,547.40" fill="none" stroke="#25428a" stroke-width="1.0" stroke-linejoin="round"/>
<polyline points="137.50,547.40 137.75,547.40 138.00,547.40 138.25,547.40 138.50,547.40 138.75,547.40 139.00,547.40 139.25,547.40 139.50,547.40 139.75,547.40 140.00,547.40 140.25,547.40 140.50,547.40 140.75,547.40 141.00,547.40 141.25,547.40 141.50,547.40 141.75,547.40 142.00,547.40 142.25,547.40 142.50,547.40 142.75,547.40 143.00,547.40 143.25,547.40 143.50,547.40 143.75,547.40 144.00,547.40 144.26,547.40 144.51,547.40 144.76,547.40 145.01,547.40 145.26,547.40 145.51,547.40 145.76,547.40 146.01,547.40 146.26,547.40 146.51,547.40 146.76,547.40 147.01,547.40 147.26,547.40 147.51,547.40 147.76,547.40 148.01,547.40 148.26,547.40 148.51,547.40 148.76,547.40 149.01,547.40 149.26,547.40 149.51,547.40 149.76,547.40 150.01,547.40 150.26,547.40 150.51,547.40 150.76,547.40 151.01,547.40 151.26,547.40 151.51,547.40 151.76,547.40 152.01,547.40 152.26,547.40 152.51,547.40 152.76,547.40 153.01,547.40 153.26,547.40 153.51,547.40 153.76,547.40 154.01,547.40 154.26,547.40 154.51,547.40 154.76,547.40 155.01,547.40 155.26,547.40 155.51,547.40 155.76,547.40 156.01,547.40 156.26,547.40 156.51,547.40 156.76,547.40 157.01,547.40 157.26,547.40 157.51,547.40 157.77,547.40 158.02,547.40 158.27,547.40 158.52,547.40 158.77,547.40 159.02,547.40 159.27,547.40 159.52,547.40 159.77,547.40 160.02,547.40 160.27,547.40 160.52,547.40 160.77,547.40 161.02,547.40 161.27,547.40 161.52,547.40 161.77,547.40 162.02,547.40 162.27,547.40 162.52,547.39 162.77,547.38 163.02,547.35 163.27,547.30 163.52,547.19 163.77,547.00 164.02,546.67 164.27,546.13 164.52,545.28 164.77,544.02 165.02,542.27 165.27,539.98 165.52,537.16 165.77,533.91 166.02,530.46 166.27,527.11 166.52,524.23 166.77,522.15 167.02,521.16 167.27,521.39 167.52,522.81 167.77,525.23 168.02,528.34 168.27,531.76 168.52,535.16 168.77,538.26 169.02,540.88 169.27,542.93 169.52,544.43 169.77,545.42 170.02,545.99 170.27,546.21 170.52,546.13 170.77,545.80 171.02,545.26 171.28,544.54 171.53,543.71 171.78,542.82 172.03,541.98 172.28,541.27 172.53,540.79 172.78,540.60 173.03,540.73 173.28,541.16 173.53,541.83 173.78,542.66 174.03,543.55 174.28,544.42 174.53,545.20 174.78,545.85 175.03,546.36 175.28,546.73 175.53,546.99 175.78,547.16 176.03,547.27 176.28,547.33 176.53,547.36 176.78,547.38 177.03,547.39 177.28,547.40 177.53,547.40 177.78,547.40 178.03,547.40 178.28,547.40 178.53,547.40 178.78,547.40 179.03,547.40 179.28,547.40 179.53,547.40 179.78,547.40 180.03,547.39 180.28,547.39 180.53,547.37 180.78,547.33 181.03,547.27 181.28,547.16 181.53,546.97 181.78,546.66 182.03,546.19 182.28,545.51 182.53,544.60 182.78,543.43 183.03,542.03 183.28,540.48 183.53,538.90 183.78,537.43 184.03,536.25 184.28,535.51 184.53,535.31 184.79,535.67 185.04,536.54 185.29,537.81 185.54,539.32 185.79,540.90 186.04,542.38 186.29,543.66 186.54,544.64 186.79,545.28 187.04,545.54 187.29,545.39 187.54,544.80 187.79,543.72 188.04,542.14 188.29,540.05 188.54,537.53 188.79,534.70 189.04,531.82 189.29,529.15 189.54,527.01 189.79,525.67 190.04,525.31 190.29,525.99 190.54,527.60 190.79,529.94 191.04,532.71 191.29,535.62 191.54,538.39 191.79,540.82 192.04,542.82 192.29,544.36 192.54,545.48 192.79,546.24 193.04,546.73 193.29,547.03 193.54,547.21 193.79,547.30 194.04,547.35 194.29,547.38 194.54,547.39 194.79,547.40 195.04,547.40 195.29,547.40 195.54,547.40 195.79,547.40 196.04,547.40 196.29,547.40 196.54,547.40 196.79,547.40 197.04,547.40 197.29,547.40 197.54,547.40 197.79,547.40 198.04,547.40 198.30,547.40 198.55,547.40 198.80,547.40 199.05,547.40 199.30,547.40 199.55,547.40 199.80,547.40 200.05,547.40 200.30,547.40 200.55,547.40 200.80,547.40 201.05,547.40 201.30,547.40 201.55,547.40 201.80,547.40 202.05,547.40 202.30,547.40 202.55,547.40 202.80,547.40 203.05,547.40 203.30,547.40 203.55,547.40 203.80,547.40 204.05,547.40 204.30,547.40 204.55,547.40 204.80,547.40" fill="none" stroke="#4e1f70" stroke-width="1.0" stroke-linejoin="round"/>
<polyline points="137.50,547.40 137.75,547.40 138.00,547.40 138.25,547.40 138.50,547.40 138.75,547.40 139.00,547.40 139.25,547.40 139.50,547.40 139.75,547.40 140.00,547.40 140.25,547.40 140.50,547.40 140.75,547.40 141.00,547.40 141.25,547.40 141.50,547.40 141.75,547.40 142.00,547.40 142.25,547.40 142.50,547.40 142.75,547.40 143.00,547.40 143.25,547.40 143.50,547.40 143.75,547.40 144.00,547.40 144.26,547.40 144.51,547.40 144.76,547.40 145.01,547.40 145.26,547.40 145.51,547.40 145.76,547.40 146.01,547.40 146.26,547.39 146.51,547.38 146.76,547.35 147.01,547.30 147.26,547.21 147.51,547.03 147.76,546.73 148.01,546.24 148.26,545.48 148.51,544.37 148.76,542.83 149.01,540.83 149.26,538.40 149.51,535.63 149.76,532.73 150.01,529.95 150.26,527.61 150.51,525.99 150.76,525.31 151.01,525.67 151.26,527.00 151.51,529.14 151.76,531.81 152.01,534.70 152.26,537.54 152.51,540.09 152.76,542.24 153.01,543.92 153.26,545.16 153.51,546.03 153.76,546.60 154.01,546.95 154.26,547.16 154.51,547.28 154.76,547.34 155.01,547.37 155.26,547.39 155.51,547.39 155.76,547.40 156.01,547.40 156.26,547.40 156.51,547.39 156.76,547.38 157.01,547.35 157.26,547.30 157.51,547.19 157.77,546.98 158.02,546.62 158.27,546.01 158.52,545.04 158.77,543.57 159.02,541.47 159.27,538.64 159.52,535.07 159.77,530.85 160.02,526.20 160.27,521.50 160.52,517.22 160.77,513.86 161.02,511.85 161.27,511.46 161.52,512.75 161.77,515.53 162.02,519.45 162.27,524.02 162.52,528.74 162.77,533.20 163.02,537.10 163.27,540.27 163.52,542.69 163.77,544.43 164.02,545.62 164.27,546.38 164.52,546.84 164.77,547.11 165.02,547.26 165.27,547.33 165.52,547.37 165.77,547.39 166.02,547.39 166.27,547.40 166.52,547.40 166.77,547.40 167.02,547.40 167.27,547.40 167.52,547.40 167.77,547.40 168.02,547.40 168.27,547.40 168.52,547.40 168.77,547.40 169.02,547.40 169.27,547.40 169.52,547.40 169.77,547.40 170.02,547.40 170.27,547.40 170.52,547.40 170.77,547.40 171.02,547.40 171.28,547.40 171.53,547.40 171.78,547.40 172.03,547.40 172.28,547.40 172.53,547.40 172.78,547.40 173.03,547.40 173.28,547.40 173.53,547.40 173.78,547.40 174.03,547.40 174.28,547.40 174.53,547.40 174.78,547.40 175.03,547.40 175.28,547.40 175.53,547.40 175.78,547.40 176.03,547.40 176.28,547.40 176.53,547.40 176.78,547.40 177.03,547.40 177.28,547.40 177.53,547.40 177.78,547.40 178.03,547.40 178.28,547.40 178.53,547.40 178.78,547.40 179.03,547.40 179.28,547.40 179.53,547.40 179.78,547.40 180.03,547.40 180.28,547.40 180.53,547.40 180.78,547.40 181.03,547.40 181.28,547.40 181.53,547.40 181.78,547.40 182.03,547.40 182.28,547.40 182.53,547.40 182.78,547.40 183.03,547.40 183.28,547.40 183.53,547.40 183.78,547.40 184.03,547.40 184.28,547.40 184.53,547.40 184.79,547.40 185.04,547.40 185.29,547.40 185.54,547.40 185.79,547.40 186.04,547.40 186.29,547.40 186.54,547.40 186.79,547.40 187.04,547.40 187.29,547.40 187.54,547.40 187.79,547.40 188.04,547.40 188.29,547.40 188.54,547.40 188.79,547.40 189.04,547.40 189.29,547.40 189.54,547.40 189.79,547.40 190.04,547.40 190.29,547.40 190.54,547.40 190.79,547.40 191.04,547.40 191.29,547.40 191.54,547.40 191.79,547.40 192.04,547.40 192.29,547.40 192.54,547.40 192.79,547.40 193.04,547.40 193.29,547.40 193.54,547.40 193.79,547.40 194.04,547.40 194.29,547.40 194.54,547.40 194.79,547.40 195.04,547.40 195.29,547.40 195.54,547.40 195.79,547.40 196.04,547.40 196.29,547.40 196.54,547.40 196.79,547.40 197.04,547.40 197.29,547.40 197.54,547.40 197.79,547.40 198.04,547.40 198.30,547.40 198.55,547.40 198.80,547.40 199.05,547.40 199.30,547.40 199.55,547.40 199.80,547.39 200.05,547.38 200.30,547.36 200.55,547.32 200.80,547.26 201.05,547.14 201.30,546.94 201.55,546.64 201.80,546.20 202.05,545.59 202.30,544.79 202.55,543.82 202.80,542.71 203.05,541.54 203.30,540.42 203.55,539.46 203.80,538.80 204.05,538.51 204.30,538.63 204.55,539.16 204.80,540.01" fill="none" stroke="#e48b12" stroke-width="1.0" stroke-linejoin="round"/>
<text x="231.20" y="492.98" font-size="6.9" text-anchor="middle" fill="#e8962e" stroke="none">T</text>
<text x="236.30" y="492.98" font-size="6.9" text-anchor="middle" fill="#3d5c9c" stroke="none">C</text>
<text x="241.40" y="492.98" font-size="6.9" text-anchor="middle" fill="#6cb04c" stroke="none">A</text>
<text x="246.50" y="492.98" font-size="6.9" text-anchor="middle" fill="#6cb04c" stroke="none">A</text>
<text x="251.60" y="492.98" font-size="6.9" text-anchor="middle" fill="#6b3a86" stroke="none">G</text>
<text x="256.70" y="492.98" font-size="6.9" text-anchor="middle" fill="#6b3a86" stroke="none">G</text>
<text x="261.80" y="492.98" font-size="6.9" text-anchor="middle" fill="#e8962e" stroke="none">T</text>
<text x="266.90" y="492.98" font-size="6.9" text-anchor="middle" fill="#e8962e" stroke="none">T</text>
<text x="271.60" y="489.18" font-size="6.6" text-anchor="middle" fill="#3d5c9c" stroke="none">C</text>
<text x="271.60" y="495.18" font-size="6.6" text-anchor="middle" fill="#6b3a86" stroke="none">G</text>
<text x="277.10" y="492.98" font-size="6.9" text-anchor="middle" fill="#e8962e" stroke="none">T</text>
<text x="282.20" y="492.98" font-size="6.9" text-anchor="middle" fill="#6cb04c" stroke="none">A</text>
<text x="287.30" y="492.98" font-size="6.9" text-anchor="middle" fill="#e8962e" stroke="none">T</text>
<text x="292.40" y="492.98" font-size="6.9" text-anchor="middle" fill="#6b3a86" stroke="none">G</text>
<polyline points="226.30,546.60 226.55,546.60 226.80,546.60 227.05,546.60 227.30,546.60 227.55,546.60 227.80,546.60 228.05,546.60 228.30,546.60 228.55,546.60 228.81,546.60 229.06,546.60 229.31,546.60 229.56,546.60 229.81,546.60 230.06,546.60 230.31,546.60 230.56,546.60 230.81,546.60 231.06,546.60 231.31,546.60 231.56,546.60 231.81,546.60 232.06,546.60 232.31,546.60 232.56,546.60 232.81,546.60 233.06,546.60 233.32,546.60 233.57,546.60 233.82,546.60 234.07,546.60 234.32,546.60 234.57,546.60 234.82,546.60 235.07,546.60 235.32,546.60 235.57,546.60 235.82,546.60 236.07,546.59 236.32,546.58 236.57,546.55 236.82,546.47 237.07,546.32 237.32,546.00 237.57,545.44 237.83,544.51 238.08,543.12 238.33,541.23 238.58,538.92 238.83,536.44 239.08,534.12 239.33,532.35 239.58,531.38 239.83,531.27 240.08,531.83 240.33,532.64 240.58,533.30 240.83,533.50 241.08,533.23 241.33,532.69 241.58,532.20 241.83,532.05 242.08,532.34 242.34,532.91 242.59,533.46 242.84,533.67 243.09,533.39 243.34,532.72 243.59,531.99 243.84,531.62 244.09,531.95 244.34,533.13 244.59,535.04 244.84,537.38 245.09,539.78 245.34,541.92 245.59,543.63 245.84,544.86 246.09,545.65 246.34,546.12 246.59,546.38 246.85,546.50 247.10,546.56 247.35,546.59 247.60,546.60 247.85,546.60 248.10,546.60 248.35,546.60 248.60,546.60 248.85,546.60 249.10,546.60 249.35,546.60 249.60,546.60 249.85,546.60 250.10,546.60 250.35,546.60 250.60,546.60 250.85,546.60 251.10,546.60 251.36,546.60 251.61,546.60 251.86,546.60 252.11,546.60 252.36,546.60 252.61,546.60 252.86,546.60 253.11,546.60 253.36,546.60 253.61,546.60 253.86,546.60 254.11,546.60 254.36,546.60 254.61,546.60 254.86,546.60 255.11,546.60 255.36,546.60 255.61,546.60 255.87,546.60 256.12,546.60 256.37,546.60 256.62,546.60 256.87,546.60 257.12,546.60 257.37,546.60 257.62,546.60 257.87,546.60 258.12,546.60 258.37,546.60 258.62,546.60 258.87,546.60 259.12,546.60 259.37,546.60 259.62,546.60 259.87,546.60 260.12,546.60 260.38,546.60 260.63,546.60 260.88,546.60 261.13,546.60 261.38,546.60 261.63,546.60 261.88,546.60 262.13,546.60 262.38,546.60 262.63,546.60 262.88,546.60 263.13,546.60 263.38,546.60 263.63,546.60 263.88,546.60 264.13,546.60 264.38,546.60 264.63,546.60 264.89,546.60 265.14,546.60 265.39,546.60 265.64,546.60 265.89,546.60 266.14,546.60 266.39,546.60 266.64,546.60 266.89,546.60 267.14,546.60 267.39,546.60 267.64,546.60 267.89,546.60 268.14,546.60 268.39,546.60 268.64,546.60 268.89,546.60 269.14,546.60 269.40,546.60 269.65,546.60 269.90,546.60 270.15,546.60 270.40,546.60 270.65,546.60 270.90,546.60 271.15,546.60 271.40,546.60 271.65,546.60 271.90,546.60 272.15,546.60 272.40,546.60 272.65,546.60 272.90,546.60 273.15,546.60 273.40,546.60 273.65,546.60 273.91,546.60 274.16,546.60 274.41,546.60 274.66,546.60 274.91,546.60 275.16,546.60 275.41,546.60 275.66,546.60 275.91,546.59 276.16,546.58 276.41,546.55 276.66,546.50 276.91,546.40 277.16,546.23 277.41,545.93 277.66,545.45 277.91,544.72 278.16,543.65 278.42,542.20 278.67,540.35 278.92,538.12 279.17,535.63 279.42,533.06 279.67,530.68 279.92,528.74 280.17,527.49 280.42,527.10 280.67,527.63 280.92,529.00 281.17,531.03 281.42,533.46 281.67,536.03 281.92,538.49 282.17,540.66 282.42,542.46 282.67,543.84 282.93,544.85 283.18,545.54 283.43,545.99 283.68,546.26 283.93,546.42 284.18,546.51 284.43,546.56 284.68,546.58 284.93,546.59 285.18,546.60 285.43,546.60 285.68,546.60 285.93,546.60 286.18,546.60 286.43,546.60 286.68,546.60 286.93,546.60 287.18,546.60 287.44,546.60 287.69,546.60 287.94,546.60 288.19,546.60 288.44,546.59 288.69,546.59 288.94,546.57 289.19,546.54 289.44,546.50 289.69,546.42 289.94,546.30 290.19,546.12 290.44,545.87 290.69,545.55 290.94,545.16 291.19,544.71 291.44,544.24 291.69,543.78 291.95,543.40 292.20,543.12 292.45,543.00 292.70,543.05 292.95,543.26 293.20,543.61 293.45,544.04 293.70,544.51 293.95,544.97 294.20,545.39" fill="none" stroke="#56a236" stroke-width="1.0" stroke-linejoin="round"/>
<polyline points="226.30,531.86 226.55,531.93 226.80,532.67 227.05,534.00 227.30,535.72 227.55,537.64 227.80,539.57 228.05,541.34 228.30,542.84 228.55,544.04 228.81,544.94 229.06,545.57 229.31,545.99 229.56,546.26 229.81,546.42 230.06,546.51 230.31,546.55 230.56,546.58 230.81,546.59 231.06,546.59 231.31,546.59 231.56,546.57 231.81,546.54 232.06,546.47 232.31,546.34 232.56,546.12 232.81,545.73 233.06,545.10 233.32,544.14 233.57,542.75 233.82,540.86 234.07,538.44 234.32,535.53 234.57,532.29 234.82,528.95 235.07,525.84 235.32,523.32 235.57,521.70 235.82,521.20 236.07,521.90 236.32,523.69 236.57,526.33 236.82,529.50 237.07,532.85 237.32,536.05 237.57,538.88 237.83,541.21 238.08,543.02 238.33,544.33 238.58,545.22 238.83,545.81 239.08,546.16 239.33,546.37 239.58,546.49 239.83,546.55 240.08,546.58 240.33,546.59 240.58,546.60 240.83,546.60 241.08,546.60 241.33,546.60 241.58,546.60 241.83,546.60 242.08,546.60 242.34,546.60 242.59,546.60 242.84,546.60 243.09,546.60 243.34,546.60 243.59,546.60 243.84,546.60 244.09,546.60 244.34,546.60 244.59,546.60 244.84,546.60 245.09,546.60 245.34,546.60 245.59,546.60 245.84,546.60 246.09,546.60 246.34,546.60 246.59,546.60 246.85,546.60 247.10,546.60 247.35,546.60 247.60,546.60 247.85,546.60 248.10,546.60 248.35,546.60 248.60,546.60 248.85,546.60 249.10,546.60 249.35,546.60 249.60,546.60 249.85,546.60 250.10,546.60 250.35,546.60 250.60,546.60 250.85,546.60 251.10,546.60 251.36,546.60 251.61,546.60 251.86,546.60 252.11,546.60 252.36,546.60 252.61,546.60 252.86,546.60 253.11,546.60 253.36,546.60 253.61,546.60 253.86,546.60 254.11,546.60 254.36,546.60 254.61,546.60 254.86,546.60 255.11,546.60 255.36,546.60 255.61,546.60 255.87,546.60 256.12,546.60 256.37,546.60 256.62,546.60 256.87,546.60 257.12,546.60 257.37,546.60 257.62,546.60 257.87,546.60 258.12,546.60 258.37,546.60 258.62,546.60 258.87,546.60 259.12,546.60 259.37,546.60 259.62,546.60 259.87,546.60 260.12,546.60 260.38,546.60 260.63,546.60 260.88,546.60 261.13,546.60 261.38,546.60 261.63,546.60 261.88,546.60 262.13,546.60 262.38,546.60 262.63,546.60 262.88,546.60 263.13,546.60 263.38,546.60 263.63,546.60 263.88,546.60 264.13,546.60 264.38,546.60 264.63,546.60 264.89,546.60 265.14,546.60 265.39,546.60 265.64,546.60 265.89,546.60 266.14,546.60 266.39,546.60 266.64,546.60 266.89,546.59 267.14,546.57 267.39,546.55 267.64,546.49 267.89,546.38 268.14,546.20 268.39,545.89 268.64,545.39 268.89,544.65 269.14,543.60 269.40,542.19 269.65,540.42 269.90,538.34 270.15,536.08 270.40,533.81 270.65,531.78 270.90,530.23 271.15,529.35 271.40,529.27 271.65,529.99 271.90,531.42 272.15,533.37 272.40,535.60 272.65,537.89 272.90,540.01 273.15,541.85 273.40,543.34 273.65,544.46 273.91,545.26 274.16,545.80 274.41,546.15 274.66,546.35 274.91,546.47 275.16,546.54 275.41,546.57 275.66,546.59 275.91,546.59 276.16,546.60 276.41,546.60 276.66,546.60 276.91,546.60 277.16,546.60 277.41,546.60 277.66,546.60 277.91,546.60 278.16,546.60 278.42,546.60 278.67,546.60 278.92,546.60 279.17,546.60 279.42,546.60 279.67,546.60 279.92,546.60 280.17,546.60 280.42,546.60 280.67,546.60 280.92,546.60 281.17,546.60 281.42,546.60 281.67,546.60 281.92,546.60 282.17,546.60 282.42,546.60 282.67,546.60 282.93,546.60 283.18,546.60 283.43,546.60 283.68,546.60 283.93,546.60 284.18,546.60 284.43,546.60 284.68,546.60 284.93,546.60 285.18,546.60 285.43,546.60 285.68,546.60 285.93,546.60 286.18,546.60 286.43,546.60 286.68,546.60 286.93,546.60 287.18,546.60 287.44,546.60 287.69,546.60 287.94,546.60 288.19,546.60 288.44,546.60 288.69,546.60 288.94,546.60 289.19,546.60 289.44,546.60 289.69,546.60 289.94,546.60 290.19,546.60 290.44,546.60 290.69,546.60 290.94,546.60 291.19,546.60 291.44,546.60 291.69,546.60 291.95,546.60 292.20,546.60 292.45,546.60 292.70,546.60 292.95,546.60 293.20,546.60 293.45,546.60 293.70,546.60 293.95,546.60 294.20,546.60" fill="none" stroke="#25428a" stroke-width="1.0" stroke-linejoin="round"/>
<polyline points="226.30,546.60 226.55,546.60 226.80,546.60 227.05,546.60 227.30,546.60 227.55,546.60 227.80,546.60 228.05,546.60 228.30,546.60 228.55,546.60 228.81,546.60 229.06,546.60 229.31,546.60 229.56,546.60 229.81,546.60 230.06,546.60 230.31,546.60 230.56,546.60 230.81,546.60 231.06,546.60 231.31,546.60 231.56,546.60 231.81,546.60 232.06,546.60 232.31,546.60 232.56,546.60 232.81,546.60 233.06,546.60 233.32,546.60 233.57,546.60 233.82,546.60 234.07,546.60 234.32,546.60 234.57,546.60 234.82,546.60 235.07,546.60 235.32,546.60 235.57,546.60 235.82,546.60 236.07,546.60 236.32,546.60 236.57,546.60 236.82,546.60 237.07,546.60 237.32,546.60 237.57,546.60 237.83,546.60 238.08,546.60 238.33,546.60 238.58,546.60 238.83,546.60 239.08,546.60 239.33,546.60 239.58,546.60 239.83,546.60 240.08,546.60 240.33,546.60 240.58,546.60 240.83,546.60 241.08,546.60 241.33,546.60 241.58,546.60 241.83,546.60 242.08,546.60 242.34,546.60 242.59,546.60 242.84,546.60 243.09,546.60 243.34,546.60 243.59,546.60 243.84,546.60 244.09,546.60 244.34,546.60 244.59,546.60 244.84,546.60 245.09,546.60 245.34,546.59 245.59,546.57 245.84,546.53 246.09,546.45 246.34,546.29 246.59,545.99 246.85,545.50 247.10,544.72 247.35,543.59 247.60,542.07 247.85,540.20 248.10,538.11 248.35,536.00 248.60,534.16 248.85,532.85 249.10,532.24 249.35,532.39 249.60,533.15 249.85,534.29 250.10,535.49 250.35,536.48 250.60,537.13 250.85,537.41 251.10,537.45 251.36,537.42 251.61,537.45 251.86,537.62 252.11,537.82 252.36,537.87 252.61,537.45 252.86,536.27 253.11,534.08 253.36,530.75 253.61,526.34 253.86,521.12 254.11,515.57 254.36,510.28 254.61,505.93 254.86,503.09 255.11,502.19 255.36,503.35 255.61,506.43 255.87,511.02 256.12,516.54 256.37,522.39 256.62,528.00 256.87,532.97 257.12,537.08 257.37,540.26 257.62,542.57 257.87,544.16 258.12,545.19 258.37,545.82 258.62,546.19 258.87,546.40 259.12,546.50 259.37,546.56 259.62,546.58 259.87,546.59 260.12,546.60 260.38,546.60 260.63,546.60 260.88,546.60 261.13,546.60 261.38,546.60 261.63,546.60 261.88,546.60 262.13,546.60 262.38,546.60 262.63,546.60 262.88,546.60 263.13,546.60 263.38,546.60 263.63,546.60 263.88,546.60 264.13,546.60 264.38,546.60 264.63,546.60 264.89,546.60 265.14,546.60 265.39,546.60 265.64,546.60 265.89,546.60 266.14,546.59 266.39,546.58 266.64,546.56 266.89,546.52 267.14,546.44 267.39,546.32 267.64,546.13 267.89,545.84 268.14,545.43 268.39,544.88 268.64,544.19 268.89,543.38 269.14,542.49 269.40,541.61 269.65,540.82 269.90,540.21 270.15,539.86 270.40,539.82 270.65,540.10 270.90,540.66 271.15,541.42 271.40,542.30 271.65,543.19 271.90,544.02 272.15,544.74 272.40,545.32 272.65,545.76 272.90,546.08 273.15,546.29 273.40,546.42 273.65,546.50 273.91,546.55 274.16,546.58 274.41,546.59 274.66,546.59 274.91,546.60 275.16,546.60 275.41,546.60 275.66,546.60 275.91,546.60 276.16,546.60 276.41,546.60 276.66,546.60 276.91,546.60 277.16,546.60 277.41,546.60 277.66,546.60 277.91,546.60 278.16,546.60 278.42,546.60 278.67,546.60 278.92,546.60 279.17,546.60 279.42,546.60 279.67,546.60 279.92,546.60 280.17,546.60 280.42,546.60 280.67,546.60 280.92,546.60 281.17,546.60 281.42,546.60 281.67,546.60 281.92,546.60 282.17,546.60 282.42,546.60 282.67,546.60 282.93,546.60 283.18,546.60 283.43,546.60 283.68,546.60 283.93,546.60 284.18,546.60 284.43,546.60 284.68,546.60 284.93,546.60 285.18,546.60 285.43,546.60 285.68,546.60 285.93,546.60 286.18,546.60 286.43,546.59 286.68,546.57 286.93,546.54 287.18,546.48 287.44,546.36 287.69,546.13 287.94,545.75 288.19,545.11 288.44,544.13 288.69,542.68 288.94,540.67 289.19,538.03 289.44,534.81 289.69,531.13 289.94,527.24 290.19,523.49 290.44,520.29 290.69,518.04 290.94,517.04 291.19,517.42 291.44,519.13 291.69,521.93 291.95,525.48 292.20,529.36 292.45,533.17 292.70,536.63 292.95,539.54 293.20,541.83 293.45,543.53 293.70,544.72 293.95,545.50 294.20,545.98" fill="none" stroke="#4e1f70" stroke-width="1.0" stroke-linejoin="round"/>
<polyline points="226.30,546.51 226.55,546.42 226.80,546.25 227.05,545.97 227.30,545.50 227.55,544.78 227.80,543.71 228.05,542.25 228.30,540.33 228.55,538.00 228.81,535.35 229.06,532.56 229.31,529.89 229.56,527.63 229.81,526.07 230.06,525.41 230.31,525.75 230.56,527.03 230.81,529.08 231.06,531.64 231.31,534.42 231.56,537.15 231.81,539.60 232.06,541.66 232.31,543.27 232.56,544.46 232.81,545.29 233.06,545.84 233.32,546.17 233.57,546.37 233.82,546.49 234.07,546.54 234.32,546.57 234.57,546.59 234.82,546.60 235.07,546.60 235.32,546.60 235.57,546.60 235.82,546.60 236.07,546.60 236.32,546.60 236.57,546.60 236.82,546.60 237.07,546.60 237.32,546.60 237.57,546.60 237.83,546.60 238.08,546.60 238.33,546.60 238.58,546.60 238.83,546.60 239.08,546.60 239.33,546.60 239.58,546.60 239.83,546.60 240.08,546.60 240.33,546.60 240.58,546.60 240.83,546.60 241.08,546.60 241.33,546.60 241.58,546.60 241.83,546.60 242.08,546.60 242.34,546.60 242.59,546.60 242.84,546.60 243.09,546.60 243.34,546.60 243.59,546.60 243.84,546.60 244.09,546.60 244.34,546.60 244.59,546.60 244.84,546.60 245.09,546.60 245.34,546.60 245.59,546.60 245.84,546.60 246.09,546.60 246.34,546.60 246.59,546.60 246.85,546.60 247.10,546.60 247.35,546.60 247.60,546.60 247.85,546.60 248.10,546.60 248.35,546.60 248.60,546.60 248.85,546.60 249.10,546.60 249.35,546.60 249.60,546.60 249.85,546.60 250.10,546.60 250.35,546.60 250.60,546.60 250.85,546.60 251.10,546.60 251.36,546.60 251.61,546.60 251.86,546.60 252.11,546.60 252.36,546.60 252.61,546.60 252.86,546.60 253.11,546.60 253.36,546.60 253.61,546.60 253.86,546.60 254.11,546.60 254.36,546.60 254.61,546.60 254.86,546.60 255.11,546.60 255.36,546.60 255.61,546.60 255.87,546.60 256.12,546.60 256.37,546.59 256.62,546.58 256.87,546.56 257.12,546.51 257.37,546.42 257.62,546.27 257.87,546.00 258.12,545.59 258.37,544.96 258.62,544.06 258.87,542.85 259.12,541.32 259.37,539.51 259.62,537.53 259.87,535.54 260.12,533.72 260.38,532.31 260.63,531.47 260.88,531.33 261.13,531.90 261.38,533.11 261.63,534.78 261.88,536.72 262.13,538.70 262.38,540.54 262.63,542.08 262.88,543.24 263.13,543.94 263.38,544.18 263.63,543.91 263.88,543.14 264.13,541.85 264.38,540.07 264.63,537.88 264.89,535.41 265.14,532.87 265.39,530.51 265.64,528.62 265.89,527.43 266.14,527.11 266.39,527.70 266.64,529.13 266.89,531.20 267.14,533.65 267.39,536.21 267.64,538.66 267.89,540.81 268.14,542.57 268.39,543.93 268.64,544.91 268.89,545.58 269.14,546.01 269.40,546.28 269.65,546.43 269.90,546.52 270.15,546.56 270.40,546.58 270.65,546.59 270.90,546.60 271.15,546.60 271.40,546.59 271.65,546.59 271.90,546.57 272.15,546.54 272.40,546.48 272.65,546.36 272.90,546.17 273.15,545.84 273.40,545.32 273.65,544.56 273.91,543.50 274.16,542.09 274.41,540.36 274.66,538.36 274.91,536.22 275.16,534.13 275.41,532.32 275.66,531.00 275.91,530.35 276.16,530.46 276.41,531.31 276.66,532.78 276.91,534.70 277.16,536.82 277.41,538.94 277.66,540.87 277.91,542.52 278.16,543.83 278.42,544.80 278.67,545.49 278.92,545.95 279.17,546.23 279.42,546.40 279.67,546.50 279.92,546.55 280.17,546.58 280.42,546.58 280.67,546.58 280.92,546.57 281.17,546.54 281.42,546.47 281.67,546.35 281.92,546.13 282.17,545.77 282.42,545.19 282.67,544.31 282.93,543.05 283.18,541.37 283.43,539.25 283.68,536.74 283.93,534.00 284.18,531.23 284.43,528.72 284.68,526.77 284.93,525.63 285.18,525.45 285.43,526.26 285.68,527.94 285.93,530.28 286.18,532.99 286.43,535.77 286.68,538.38 286.93,540.66 287.18,542.50 287.44,543.90 287.69,544.91 287.94,545.59 288.19,546.02 288.44,546.29 288.69,546.44 288.94,546.52 289.19,546.56 289.44,546.58 289.69,546.59 289.94,546.60 290.19,546.60 290.44,546.60 290.69,546.60 290.94,546.60 291.19,546.60 291.44,546.60 291.69,546.60 291.95,546.60 292.20,546.60 292.45,546.60 292.70,546.60 292.95,546.60 293.20,546.60 293.45,546.60 293.70,546.60 293.95,546.60 294.20,546.60" fill="none" stroke="#e48b12" stroke-width="1.0" stroke-linejoin="round"/>
<line x1="271.30" y1="512.30" x2="271.30" y2="523.20" stroke="#111" stroke-width="1.15" stroke-dasharray="1.1,1.0"/>
<path d="M271.30,526.00 L269.70,523.00 L272.90,523.00 Z" fill="#111"/>
<rect x="359.60" y="325.20" width="20.20" height="6.70" fill="#e0891b"/>
<rect x="359.60" y="335.90" width="20.20" height="6.80" fill="#2c4a7e"/>
<text x="383.30" y="330.57" font-size="5.2" text-anchor="start" fill="#222" textLength="75.40" lengthAdjust="spacingAndGlyphs" stroke="#222" stroke-width="0.16" >Allelic frequency, FRT insertion</text>
<text x="383.30" y="341.27" font-size="5.2" text-anchor="start" fill="#222" textLength="82.70" lengthAdjust="spacingAndGlyphs" stroke="#222" stroke-width="0.16" >Allelic frequency, C181S mutation</text>
<text x="412.70" y="360.21" font-size="9.2" text-anchor="middle" fill="#222" textLength="44.80" lengthAdjust="spacingAndGlyphs" stroke="#222" stroke-width="0.16" >Both alleles</text>
<line x1="362.60" y1="363.50" x2="362.60" y2="427.70" stroke="#1c1c1c" stroke-width="1.3" />
<line x1="362.00" y1="427.10" x2="459.50" y2="427.10" stroke="#1c1c1c" stroke-width="1.3" />
<line x1="360.10" y1="427.10" x2="362.60" y2="427.10" stroke="#1c1c1c" stroke-width="1" />
<text x="357.40" y="429.58" font-size="6.9" text-anchor="end" fill="#222" stroke="#222" stroke-width="0.16" >0.0</text>
<line x1="360.10" y1="407.00" x2="362.60" y2="407.00" stroke="#1c1c1c" stroke-width="1" />
<text x="357.40" y="409.48" font-size="6.9" text-anchor="end" fill="#222" stroke="#222" stroke-width="0.16" >0.2</text>
<line x1="360.10" y1="386.90" x2="362.60" y2="386.90" stroke="#1c1c1c" stroke-width="1" />
<text x="357.40" y="389.38" font-size="6.9" text-anchor="end" fill="#222" stroke="#222" stroke-width="0.16" >0.4</text>
<line x1="360.10" y1="366.80" x2="362.60" y2="366.80" stroke="#1c1c1c" stroke-width="1" />
<text x="357.40" y="369.28" font-size="6.9" text-anchor="end" fill="#222" stroke="#222" stroke-width="0.16" >0.6</text>
<text x="339.50" y="398.37" font-size="8.8" text-anchor="middle" fill="#222" textLength="29.40" lengthAdjust="spacingAndGlyphs" stroke="#222" stroke-width="0.16" transform="rotate(-90 339.50 395.20)" >Peak ratio</text>
<rect x="371.80" y="379.30" width="18.30" height="47.80" fill="#e0891b"/>
<line x1="380.95" y1="427.10" x2="380.95" y2="430.30" stroke="#1c1c1c" stroke-width="1" />
<rect x="390.30" y="388.10" width="17.80" height="39.00" fill="#2c4a7e" stroke="#1d3570" stroke-width="0.5"/>
<line x1="399.20" y1="427.10" x2="399.20" y2="430.30" stroke="#1c1c1c" stroke-width="1" />
<rect x="417.30" y="388.80" width="17.80" height="38.30" fill="#e0891b"/>
<line x1="426.20" y1="427.10" x2="426.20" y2="430.30" stroke="#1c1c1c" stroke-width="1" />
<rect x="435.30" y="405.80" width="17.80" height="21.30" fill="#2c4a7e" stroke="#1d3570" stroke-width="0.5"/>
<line x1="444.20" y1="427.10" x2="444.20" y2="430.30" stroke="#1c1c1c" stroke-width="1" />
<line x1="381.00" y1="379.30" x2="381.00" y2="375.40" stroke="#111" stroke-width="0.9" />
<line x1="376.40" y1="375.40" x2="385.60" y2="375.40" stroke="#111" stroke-width="0.9" />
<line x1="399.10" y1="388.50" x2="399.10" y2="382.50" stroke="#111" stroke-width="0.9" />
<line x1="394.70" y1="382.50" x2="403.50" y2="382.50" stroke="#111" stroke-width="0.9" />
<line x1="444.30" y1="406.10" x2="444.30" y2="401.30" stroke="#111" stroke-width="0.9" />
<line x1="440.10" y1="401.30" x2="448.50" y2="401.30" stroke="#111" stroke-width="0.9" />
<line x1="426.40" y1="388.80" x2="426.40" y2="386.90" stroke="#111" stroke-width="0.9" />
<line x1="423.20" y1="386.90" x2="429.60" y2="386.90" stroke="#111" stroke-width="0.9" />
<path d="M426.1,382.5 L426.1,377.7 L444.4,377.7 L444.4,391.5" stroke="#222" stroke-width="0.9" fill="none" />
<text x="435.20" y="378.28" font-size="6.6" text-anchor="middle" fill="#222" stroke="#222" stroke-width="0.16" >*</text>
<circle cx="383.10" cy="371.80" r="1.2" fill="#111"/>
<path d="M377.60,375.40 L380.40,375.40 L379.00,373.00 Z" fill="#111"/>
<circle cx="380.90" cy="381.90" r="1.2" fill="#111"/>
<circle cx="380.90" cy="389.30" r="1.2" fill="#111"/>
<circle cx="401.00" cy="377.90" r="1.2" fill="#111"/>
<circle cx="397.00" cy="380.10" r="1.2" fill="#111"/>
<circle cx="399.00" cy="393.10" r="1.2" fill="#111"/>
<circle cx="399.00" cy="402.40" r="1.2" fill="#111"/>
<path d="M418.70,385.80 L421.50,385.80 L420.10,388.20 Z" fill="#111"/>
<circle cx="423.60" cy="387.40" r="1.2" fill="#111"/>
<circle cx="426.40" cy="386.60" r="1.0" fill="#111"/>
<circle cx="429.10" cy="387.30" r="1.2" fill="#111"/>
<circle cx="432.20" cy="387.00" r="1.2" fill="#111"/>
<circle cx="428.20" cy="389.90" r="1.2" fill="#111"/>
<circle cx="426.10" cy="393.60" r="1.2" fill="#111"/>
<path d="M439.10,393.80 L441.90,393.80 L440.50,396.20 Z" fill="#111"/>
<circle cx="444.10" cy="396.80" r="1.2" fill="#111"/>
<circle cx="448.30" cy="396.80" r="1.2" fill="#111"/>
<circle cx="444.10" cy="409.00" r="1.2" fill="#111"/>
<circle cx="442.30" cy="419.00" r="1.2" fill="#111"/>
<path d="M445.10,419.60 L447.90,419.60 L446.50,417.20 Z" fill="#111"/>
<line x1="371.90" y1="433.50" x2="407.60" y2="433.50" stroke="#222" stroke-width="0.9" />
<line x1="417.30" y1="433.50" x2="453.10" y2="433.50" stroke="#222" stroke-width="0.9" />
<text x="389.60" y="441.98" font-size="6.9" text-anchor="middle" fill="#222" stroke="#222" stroke-width="0.16" >Tail</text>
<text x="434.60" y="441.98" font-size="6.9" text-anchor="middle" fill="#222" stroke="#222" stroke-width="0.16" >BM</text>
<text x="412.70" y="460.41" font-size="9.2" text-anchor="middle" fill="#222" textLength="61.40" lengthAdjust="spacingAndGlyphs" stroke="#222" stroke-width="0.16" >Targeted alleles</text>
<line x1="362.60" y1="469.00" x2="362.60" y2="533.20" stroke="#1c1c1c" stroke-width="1.3" />
<line x1="362.00" y1="532.60" x2="459.50" y2="532.60" stroke="#1c1c1c" stroke-width="1.3" />
<line x1="360.10" y1="532.60" x2="362.60" y2="532.60" stroke="#1c1c1c" stroke-width="1" />
<text x="357.40" y="535.08" font-size="6.9" text-anchor="end" fill="#222" stroke="#222" stroke-width="0.16" >0.0</text>
<line x1="360.10" y1="502.40" x2="362.60" y2="502.40" stroke="#1c1c1c" stroke-width="1" />
<text x="357.40" y="504.88" font-size="6.9" text-anchor="end" fill="#222" stroke="#222" stroke-width="0.16" >0.5</text>
<line x1="360.10" y1="472.20" x2="362.60" y2="472.20" stroke="#1c1c1c" stroke-width="1" />
<text x="357.40" y="474.68" font-size="6.9" text-anchor="end" fill="#222" stroke="#222" stroke-width="0.16" >1.0</text>
<text x="339.50" y="505.07" font-size="8.8" text-anchor="middle" fill="#222" textLength="29.40" lengthAdjust="spacingAndGlyphs" stroke="#222" stroke-width="0.16" transform="rotate(-90 339.50 501.90)" >Peak ratio</text>
<rect x="372.10" y="474.50" width="18.10" height="58.10" fill="#e0891b"/>
<line x1="381.15" y1="532.60" x2="381.15" y2="535.80" stroke="#1c1c1c" stroke-width="1" />
<rect x="390.20" y="480.40" width="17.50" height="52.20" fill="#2c4a7e" stroke="#1d3570" stroke-width="0.5"/>
<line x1="398.95" y1="532.60" x2="398.95" y2="535.80" stroke="#1c1c1c" stroke-width="1" />
<rect x="417.10" y="474.50" width="17.80" height="58.10" fill="#e0891b"/>
<line x1="426.00" y1="532.60" x2="426.00" y2="535.80" stroke="#1c1c1c" stroke-width="1" />
<rect x="434.90" y="501.40" width="18.00" height="31.20" fill="#2c4a7e" stroke="#1d3570" stroke-width="0.5"/>
<line x1="443.90" y1="532.60" x2="443.90" y2="535.80" stroke="#1c1c1c" stroke-width="1" />
<line x1="399.20" y1="480.20" x2="399.20" y2="475.00" stroke="#111" stroke-width="0.9" />
<line x1="394.90" y1="475.00" x2="403.50" y2="475.00" stroke="#111" stroke-width="0.9" />
<line x1="444.10" y1="501.80" x2="444.10" y2="494.50" stroke="#111" stroke-width="0.9" />
<line x1="439.80" y1="494.50" x2="448.40" y2="494.50" stroke="#111" stroke-width="0.9" />
<path d="M426,472.7 L426,469.3 L444.1,469.3 L444.1,482.4" stroke="#222" stroke-width="0.9" fill="none" />
<text x="435.80" y="470.48" font-size="6.6" text-anchor="middle" fill="#222" stroke="#222" stroke-width="0.16" >**</text>
<circle cx="374.50" cy="474.50" r="1.0" fill="#111"/>
<circle cx="378.20" cy="474.50" r="1.0" fill="#111"/>
<circle cx="381.90" cy="474.50" r="1.0" fill="#111"/>
<circle cx="385.60" cy="474.50" r="1.0" fill="#111"/>
<circle cx="400.90" cy="472.70" r="1.2" fill="#111"/>
<path d="M395.10,476.60 L397.90,476.60 L396.50,474.20 Z" fill="#111"/>
<circle cx="398.80" cy="479.30" r="1.0" fill="#111"/>
<circle cx="398.80" cy="493.70" r="1.2" fill="#111"/>
<path d="M417.10,471.30 L419.90,471.30 L418.50,473.70 Z" fill="#111"/>
<path d="M432.00,471.30 L434.80,471.30 L433.40,473.70 Z" fill="#111"/>
<circle cx="422.20" cy="475.30" r="1.0" fill="#111"/>
<circle cx="424.50" cy="475.60" r="1.0" fill="#111"/>
<circle cx="426.80" cy="475.20" r="1.0" fill="#111"/>
<circle cx="429.10" cy="475.50" r="1.0" fill="#111"/>
<circle cx="431.00" cy="475.10" r="1.0" fill="#111"/>
<circle cx="442.00" cy="485.70" r="1.2" fill="#111"/>
<circle cx="446.20" cy="487.40" r="1.2" fill="#111"/>
<circle cx="444.10" cy="498.30" r="1.2" fill="#111"/>
<circle cx="442.00" cy="522.60" r="1.2" fill="#111"/>
<circle cx="446.20" cy="521.70" r="1.2" fill="#111"/>
<line x1="371.90" y1="539.10" x2="407.60" y2="539.10" stroke="#444" stroke-width="1.4" />
<line x1="417.30" y1="539.10" x2="453.10" y2="539.10" stroke="#444" stroke-width="1.4" />
<text x="389.60" y="548.18" font-size="6.9" text-anchor="middle" fill="#222" stroke="#222" stroke-width="0.16" >Tail</text>
<text x="434.60" y="548.18" font-size="6.9" text-anchor="middle" fill="#222" stroke="#222" stroke-width="0.16" >BM</text>
<rect x="0.5" y="0.5" width="519" height="565" fill="none" stroke="#000" stroke-width="1"/>
</svg></body></html>
